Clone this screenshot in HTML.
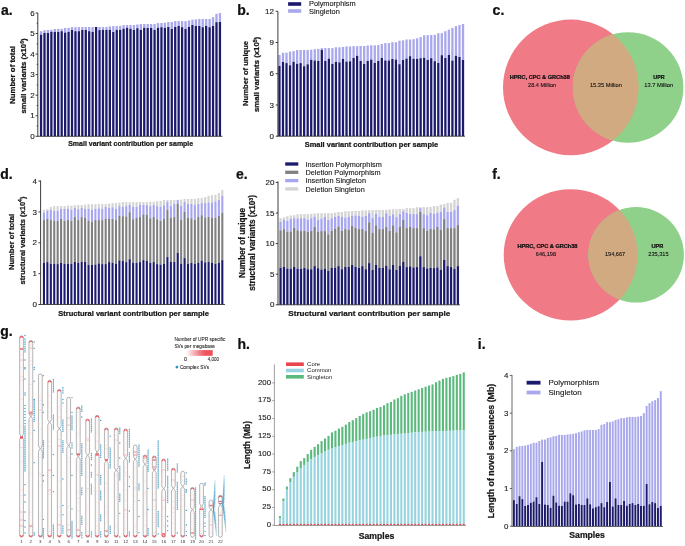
<!DOCTYPE html>
<html><head><meta charset="utf-8"><style>
html,body{margin:0;padding:0;background:#fff;width:685px;height:546px;overflow:hidden;}
svg{display:block;font-family:"Liberation Sans", sans-serif;will-change:transform;filter:blur(0.3px);}
text{stroke:#111;stroke-width:0.12px;}
text[font-weight=bold]{stroke-width:0.24px;}
.ns{stroke:none;}
.vn{stroke:#000;stroke-width:0.1px;}
.gl{stroke:#222;stroke-width:0.08px;}
</style></head><body>
<svg width="685" height="546" viewBox="0 0 685 546">
<rect width="685" height="546" fill="#fff"/>
<text x="1.00" y="14.60" font-size="14" font-weight="bold" fill="#111" >a.</text>
<rect x="39.90" y="31.20" width="2.30" height="3.50" fill="#a9a8ec" />
<rect x="39.90" y="34.70" width="2.30" height="101.60" fill="#1c1a6c" />
<rect x="43.34" y="30.20" width="2.30" height="2.80" fill="#a9a8ec" />
<rect x="43.34" y="33.00" width="2.30" height="103.30" fill="#1c1a6c" />
<rect x="46.78" y="30.00" width="2.30" height="3.00" fill="#a9a8ec" />
<rect x="46.78" y="33.00" width="2.30" height="103.30" fill="#1c1a6c" />
<rect x="50.22" y="29.80" width="2.30" height="2.10" fill="#a9a8ec" />
<rect x="50.22" y="31.90" width="2.30" height="104.40" fill="#1c1a6c" />
<rect x="53.66" y="29.00" width="2.30" height="2.90" fill="#a9a8ec" />
<rect x="53.66" y="31.90" width="2.30" height="104.40" fill="#1c1a6c" />
<rect x="57.10" y="28.80" width="2.30" height="3.10" fill="#a9a8ec" />
<rect x="57.10" y="31.90" width="2.30" height="104.40" fill="#1c1a6c" />
<rect x="60.54" y="28.80" width="2.30" height="2.40" fill="#a9a8ec" />
<rect x="60.54" y="31.20" width="2.30" height="105.10" fill="#1c1a6c" />
<rect x="63.98" y="28.00" width="2.30" height="4.60" fill="#a9a8ec" />
<rect x="63.98" y="32.60" width="2.30" height="103.70" fill="#1c1a6c" />
<rect x="67.42" y="27.90" width="2.30" height="4.00" fill="#a9a8ec" />
<rect x="67.42" y="31.90" width="2.30" height="104.40" fill="#1c1a6c" />
<rect x="70.86" y="27.10" width="2.30" height="2.90" fill="#a9a8ec" />
<rect x="70.86" y="30.00" width="2.30" height="106.30" fill="#1c1a6c" />
<rect x="74.30" y="27.10" width="2.30" height="4.10" fill="#a9a8ec" />
<rect x="74.30" y="31.20" width="2.30" height="105.10" fill="#1c1a6c" />
<rect x="77.74" y="27.10" width="2.30" height="4.10" fill="#a9a8ec" />
<rect x="77.74" y="31.20" width="2.30" height="105.10" fill="#1c1a6c" />
<rect x="81.18" y="27.10" width="2.30" height="2.90" fill="#a9a8ec" />
<rect x="81.18" y="30.00" width="2.30" height="106.30" fill="#1c1a6c" />
<rect x="84.62" y="27.10" width="2.30" height="2.90" fill="#a9a8ec" />
<rect x="84.62" y="30.00" width="2.30" height="106.30" fill="#1c1a6c" />
<rect x="88.06" y="27.00" width="2.30" height="4.20" fill="#a9a8ec" />
<rect x="88.06" y="31.20" width="2.30" height="105.10" fill="#1c1a6c" />
<rect x="91.50" y="27.00" width="2.30" height="4.90" fill="#a9a8ec" />
<rect x="91.50" y="31.90" width="2.30" height="104.40" fill="#1c1a6c" />
<rect x="94.94" y="27.00" width="2.30" height="109.30" fill="#1c1a6c" />
<rect x="98.38" y="27.00" width="2.30" height="3.10" fill="#a9a8ec" />
<rect x="98.38" y="30.10" width="2.30" height="106.20" fill="#1c1a6c" />
<rect x="101.82" y="27.00" width="2.30" height="2.90" fill="#a9a8ec" />
<rect x="101.82" y="29.90" width="2.30" height="106.40" fill="#1c1a6c" />
<rect x="105.26" y="27.00" width="2.30" height="2.90" fill="#a9a8ec" />
<rect x="105.26" y="29.90" width="2.30" height="106.40" fill="#1c1a6c" />
<rect x="108.70" y="26.40" width="2.30" height="3.50" fill="#a9a8ec" />
<rect x="108.70" y="29.90" width="2.30" height="106.40" fill="#1c1a6c" />
<rect x="112.14" y="26.10" width="2.30" height="5.90" fill="#a9a8ec" />
<rect x="112.14" y="32.00" width="2.30" height="104.30" fill="#1c1a6c" />
<rect x="115.58" y="26.10" width="2.30" height="3.80" fill="#a9a8ec" />
<rect x="115.58" y="29.90" width="2.30" height="106.40" fill="#1c1a6c" />
<rect x="119.02" y="25.90" width="2.30" height="4.00" fill="#a9a8ec" />
<rect x="119.02" y="29.90" width="2.30" height="106.40" fill="#1c1a6c" />
<rect x="122.46" y="25.00" width="2.30" height="3.70" fill="#a9a8ec" />
<rect x="122.46" y="28.70" width="2.30" height="107.60" fill="#1c1a6c" />
<rect x="125.90" y="25.00" width="2.30" height="2.80" fill="#a9a8ec" />
<rect x="125.90" y="27.80" width="2.30" height="108.50" fill="#1c1a6c" />
<rect x="129.34" y="25.00" width="2.30" height="3.70" fill="#a9a8ec" />
<rect x="129.34" y="28.70" width="2.30" height="107.60" fill="#1c1a6c" />
<rect x="132.78" y="25.00" width="2.30" height="4.90" fill="#a9a8ec" />
<rect x="132.78" y="29.90" width="2.30" height="106.40" fill="#1c1a6c" />
<rect x="136.22" y="24.50" width="2.30" height="3.70" fill="#a9a8ec" />
<rect x="136.22" y="28.20" width="2.30" height="108.10" fill="#1c1a6c" />
<rect x="139.66" y="24.00" width="2.30" height="5.90" fill="#a9a8ec" />
<rect x="139.66" y="29.90" width="2.30" height="106.40" fill="#1c1a6c" />
<rect x="143.10" y="24.00" width="2.30" height="3.80" fill="#a9a8ec" />
<rect x="143.10" y="27.80" width="2.30" height="108.50" fill="#1c1a6c" />
<rect x="146.54" y="24.00" width="2.30" height="4.00" fill="#a9a8ec" />
<rect x="146.54" y="28.00" width="2.30" height="108.30" fill="#1c1a6c" />
<rect x="149.98" y="24.00" width="2.30" height="4.00" fill="#a9a8ec" />
<rect x="149.98" y="28.00" width="2.30" height="108.30" fill="#1c1a6c" />
<rect x="153.42" y="24.00" width="2.30" height="5.90" fill="#a9a8ec" />
<rect x="153.42" y="29.90" width="2.30" height="106.40" fill="#1c1a6c" />
<rect x="156.86" y="23.10" width="2.30" height="4.70" fill="#a9a8ec" />
<rect x="156.86" y="27.80" width="2.30" height="108.50" fill="#1c1a6c" />
<rect x="160.30" y="23.00" width="2.30" height="4.20" fill="#a9a8ec" />
<rect x="160.30" y="27.20" width="2.30" height="109.10" fill="#1c1a6c" />
<rect x="163.74" y="22.80" width="2.30" height="5.10" fill="#a9a8ec" />
<rect x="163.74" y="27.90" width="2.30" height="108.40" fill="#1c1a6c" />
<rect x="167.18" y="22.00" width="2.30" height="5.00" fill="#a9a8ec" />
<rect x="167.18" y="27.00" width="2.30" height="109.30" fill="#1c1a6c" />
<rect x="170.62" y="22.00" width="2.30" height="7.00" fill="#a9a8ec" />
<rect x="170.62" y="29.00" width="2.30" height="107.30" fill="#1c1a6c" />
<rect x="174.06" y="21.10" width="2.30" height="5.90" fill="#a9a8ec" />
<rect x="174.06" y="27.00" width="2.30" height="109.30" fill="#1c1a6c" />
<rect x="177.50" y="21.10" width="2.30" height="4.90" fill="#a9a8ec" />
<rect x="177.50" y="26.00" width="2.30" height="110.30" fill="#1c1a6c" />
<rect x="180.94" y="21.10" width="2.30" height="6.10" fill="#a9a8ec" />
<rect x="180.94" y="27.20" width="2.30" height="109.10" fill="#1c1a6c" />
<rect x="184.38" y="21.10" width="2.30" height="7.90" fill="#a9a8ec" />
<rect x="184.38" y="29.00" width="2.30" height="107.30" fill="#1c1a6c" />
<rect x="187.82" y="20.40" width="2.30" height="6.60" fill="#a9a8ec" />
<rect x="187.82" y="27.00" width="2.30" height="109.30" fill="#1c1a6c" />
<rect x="191.26" y="19.70" width="2.30" height="5.30" fill="#a9a8ec" />
<rect x="191.26" y="25.00" width="2.30" height="111.30" fill="#1c1a6c" />
<rect x="194.70" y="19.40" width="2.30" height="6.60" fill="#a9a8ec" />
<rect x="194.70" y="26.00" width="2.30" height="110.30" fill="#1c1a6c" />
<rect x="198.14" y="19.00" width="2.30" height="7.00" fill="#a9a8ec" />
<rect x="198.14" y="26.00" width="2.30" height="110.30" fill="#1c1a6c" />
<rect x="201.58" y="19.00" width="2.30" height="8.20" fill="#a9a8ec" />
<rect x="201.58" y="27.20" width="2.30" height="109.10" fill="#1c1a6c" />
<rect x="205.02" y="19.00" width="2.30" height="7.00" fill="#a9a8ec" />
<rect x="205.02" y="26.00" width="2.30" height="110.30" fill="#1c1a6c" />
<rect x="208.46" y="19.00" width="2.30" height="8.20" fill="#a9a8ec" />
<rect x="208.46" y="27.20" width="2.30" height="109.10" fill="#1c1a6c" />
<rect x="211.90" y="17.20" width="2.30" height="8.80" fill="#a9a8ec" />
<rect x="211.90" y="26.00" width="2.30" height="110.30" fill="#1c1a6c" />
<rect x="215.34" y="13.80" width="2.30" height="8.40" fill="#a9a8ec" />
<rect x="215.34" y="22.20" width="2.30" height="114.10" fill="#1c1a6c" />
<rect x="218.78" y="13.10" width="2.30" height="8.90" fill="#a9a8ec" />
<rect x="218.78" y="22.00" width="2.30" height="114.30" fill="#1c1a6c" />
<line x1="37.80" y1="12.80" x2="37.80" y2="136.30" stroke="#262626" stroke-width="0.9"/>
<line x1="35.60" y1="136.30" x2="37.80" y2="136.30" stroke="#262626" stroke-width="0.9"/>
<text x="34.60" y="138.94" font-size="8.0" text-anchor="end" fill="#222" >0</text>
<line x1="35.60" y1="115.75" x2="37.80" y2="115.75" stroke="#262626" stroke-width="0.9"/>
<text x="34.60" y="118.39" font-size="8.0" text-anchor="end" fill="#222" >1</text>
<line x1="35.60" y1="95.20" x2="37.80" y2="95.20" stroke="#262626" stroke-width="0.9"/>
<text x="34.60" y="97.84" font-size="8.0" text-anchor="end" fill="#222" >2</text>
<line x1="35.60" y1="74.65" x2="37.80" y2="74.65" stroke="#262626" stroke-width="0.9"/>
<text x="34.60" y="77.29" font-size="8.0" text-anchor="end" fill="#222" >3</text>
<line x1="35.60" y1="54.10" x2="37.80" y2="54.10" stroke="#262626" stroke-width="0.9"/>
<text x="34.60" y="56.74" font-size="8.0" text-anchor="end" fill="#222" >4</text>
<line x1="35.60" y1="33.55" x2="37.80" y2="33.55" stroke="#262626" stroke-width="0.9"/>
<text x="34.60" y="36.19" font-size="8.0" text-anchor="end" fill="#222" >5</text>
<line x1="35.60" y1="13.00" x2="37.80" y2="13.00" stroke="#262626" stroke-width="0.9"/>
<text x="34.60" y="15.64" font-size="8.0" text-anchor="end" fill="#222" >6</text>
<line x1="36.70" y1="126.03" x2="37.80" y2="126.03" stroke="#262626" stroke-width="0.9"/>
<line x1="36.70" y1="105.48" x2="37.80" y2="105.48" stroke="#262626" stroke-width="0.9"/>
<line x1="36.70" y1="84.93" x2="37.80" y2="84.93" stroke="#262626" stroke-width="0.9"/>
<line x1="36.70" y1="64.38" x2="37.80" y2="64.38" stroke="#262626" stroke-width="0.9"/>
<line x1="36.70" y1="43.83" x2="37.80" y2="43.83" stroke="#262626" stroke-width="0.9"/>
<line x1="36.70" y1="23.28" x2="37.80" y2="23.28" stroke="#262626" stroke-width="0.9"/>
<line x1="37.40" y1="136.30" x2="222.50" y2="136.30" stroke="#262626" stroke-width="0.8"/>
<text x="15.20" y="75.00" font-size="7.8" font-weight="bold" text-anchor="middle" textLength="58" lengthAdjust="spacingAndGlyphs" fill="#1a1a1a" transform="rotate(-90 15.20 75.00)" >Number of total</text>
<text x="26.40" y="76.00" font-size="7.8" font-weight="bold" text-anchor="middle" fill="#1a1a1a" transform="rotate(-90 26.40 76.00)" >small variants (x10<tspan font-size="5" dy="-2.6">6</tspan><tspan dy="2.6">)</tspan></text>
<text x="130.70" y="145.80" font-size="7.2" font-weight="bold" text-anchor="middle" textLength="125" lengthAdjust="spacingAndGlyphs" fill="#1a1a1a" >Small variant contribution per sample</text>
<text x="237.30" y="14.60" font-size="14" font-weight="bold" fill="#111" >b.</text>
<rect x="278.30" y="55.00" width="2.30" height="11.00" fill="#a9a8ec" />
<rect x="278.30" y="66.00" width="2.30" height="70.20" fill="#1c1a6c" />
<rect x="281.83" y="52.70" width="2.30" height="9.30" fill="#a9a8ec" />
<rect x="281.83" y="62.00" width="2.30" height="74.20" fill="#1c1a6c" />
<rect x="285.36" y="52.70" width="2.30" height="10.40" fill="#a9a8ec" />
<rect x="285.36" y="63.10" width="2.30" height="73.10" fill="#1c1a6c" />
<rect x="288.89" y="51.60" width="2.30" height="13.70" fill="#a9a8ec" />
<rect x="288.89" y="65.30" width="2.30" height="70.90" fill="#1c1a6c" />
<rect x="292.42" y="51.10" width="2.30" height="10.70" fill="#a9a8ec" />
<rect x="292.42" y="61.80" width="2.30" height="74.40" fill="#1c1a6c" />
<rect x="295.95" y="50.00" width="2.30" height="13.80" fill="#a9a8ec" />
<rect x="295.95" y="63.80" width="2.30" height="72.40" fill="#1c1a6c" />
<rect x="299.48" y="50.00" width="2.30" height="13.10" fill="#a9a8ec" />
<rect x="299.48" y="63.10" width="2.30" height="73.10" fill="#1c1a6c" />
<rect x="303.01" y="50.00" width="2.30" height="16.20" fill="#a9a8ec" />
<rect x="303.01" y="66.20" width="2.30" height="70.00" fill="#1c1a6c" />
<rect x="306.54" y="50.00" width="2.30" height="14.30" fill="#a9a8ec" />
<rect x="306.54" y="64.30" width="2.30" height="71.90" fill="#1c1a6c" />
<rect x="310.07" y="49.70" width="2.30" height="10.10" fill="#a9a8ec" />
<rect x="310.07" y="59.80" width="2.30" height="76.40" fill="#1c1a6c" />
<rect x="313.60" y="49.20" width="2.30" height="11.30" fill="#a9a8ec" />
<rect x="313.60" y="60.50" width="2.30" height="75.70" fill="#1c1a6c" />
<rect x="317.13" y="48.90" width="2.30" height="12.10" fill="#a9a8ec" />
<rect x="317.13" y="61.00" width="2.30" height="75.20" fill="#1c1a6c" />
<rect x="320.66" y="48.10" width="2.30" height="1.80" fill="#a9a8ec" />
<rect x="320.66" y="49.90" width="2.30" height="86.30" fill="#1c1a6c" />
<rect x="324.19" y="48.10" width="2.30" height="12.90" fill="#a9a8ec" />
<rect x="324.19" y="61.00" width="2.30" height="75.20" fill="#1c1a6c" />
<rect x="327.72" y="48.10" width="2.30" height="10.60" fill="#a9a8ec" />
<rect x="327.72" y="58.70" width="2.30" height="77.50" fill="#1c1a6c" />
<rect x="331.25" y="48.10" width="2.30" height="15.90" fill="#a9a8ec" />
<rect x="331.25" y="64.00" width="2.30" height="72.20" fill="#1c1a6c" />
<rect x="334.78" y="47.30" width="2.30" height="14.70" fill="#a9a8ec" />
<rect x="334.78" y="62.00" width="2.30" height="74.20" fill="#1c1a6c" />
<rect x="338.31" y="47.30" width="2.30" height="15.10" fill="#a9a8ec" />
<rect x="338.31" y="62.40" width="2.30" height="73.80" fill="#1c1a6c" />
<rect x="341.84" y="47.00" width="2.30" height="12.00" fill="#a9a8ec" />
<rect x="341.84" y="59.00" width="2.30" height="77.20" fill="#1c1a6c" />
<rect x="345.37" y="46.40" width="2.30" height="15.20" fill="#a9a8ec" />
<rect x="345.37" y="61.60" width="2.30" height="74.60" fill="#1c1a6c" />
<rect x="348.90" y="46.40" width="2.30" height="14.90" fill="#a9a8ec" />
<rect x="348.90" y="61.30" width="2.30" height="74.90" fill="#1c1a6c" />
<rect x="352.43" y="46.20" width="2.30" height="11.80" fill="#a9a8ec" />
<rect x="352.43" y="58.00" width="2.30" height="78.20" fill="#1c1a6c" />
<rect x="355.96" y="46.20" width="2.30" height="9.60" fill="#a9a8ec" />
<rect x="355.96" y="55.80" width="2.30" height="80.40" fill="#1c1a6c" />
<rect x="359.49" y="46.00" width="2.30" height="15.00" fill="#a9a8ec" />
<rect x="359.49" y="61.00" width="2.30" height="75.20" fill="#1c1a6c" />
<rect x="363.02" y="46.00" width="2.30" height="18.00" fill="#a9a8ec" />
<rect x="363.02" y="64.00" width="2.30" height="72.20" fill="#1c1a6c" />
<rect x="366.55" y="45.50" width="2.30" height="15.50" fill="#a9a8ec" />
<rect x="366.55" y="61.00" width="2.30" height="75.20" fill="#1c1a6c" />
<rect x="370.08" y="45.30" width="2.30" height="14.30" fill="#a9a8ec" />
<rect x="370.08" y="59.60" width="2.30" height="76.60" fill="#1c1a6c" />
<rect x="373.61" y="45.30" width="2.30" height="17.60" fill="#a9a8ec" />
<rect x="373.61" y="62.90" width="2.30" height="73.30" fill="#1c1a6c" />
<rect x="377.14" y="45.10" width="2.30" height="15.90" fill="#a9a8ec" />
<rect x="377.14" y="61.00" width="2.30" height="75.20" fill="#1c1a6c" />
<rect x="380.67" y="44.00" width="2.30" height="14.00" fill="#a9a8ec" />
<rect x="380.67" y="58.00" width="2.30" height="78.20" fill="#1c1a6c" />
<rect x="384.20" y="43.10" width="2.30" height="17.40" fill="#a9a8ec" />
<rect x="384.20" y="60.50" width="2.30" height="75.70" fill="#1c1a6c" />
<rect x="387.73" y="43.10" width="2.30" height="17.40" fill="#a9a8ec" />
<rect x="387.73" y="60.50" width="2.30" height="75.70" fill="#1c1a6c" />
<rect x="391.26" y="42.20" width="2.30" height="16.80" fill="#a9a8ec" />
<rect x="391.26" y="59.00" width="2.30" height="77.20" fill="#1c1a6c" />
<rect x="394.79" y="42.20" width="2.30" height="17.40" fill="#a9a8ec" />
<rect x="394.79" y="59.60" width="2.30" height="76.60" fill="#1c1a6c" />
<rect x="398.32" y="40.70" width="2.30" height="23.50" fill="#a9a8ec" />
<rect x="398.32" y="64.20" width="2.30" height="72.00" fill="#1c1a6c" />
<rect x="401.85" y="40.40" width="2.30" height="19.60" fill="#a9a8ec" />
<rect x="401.85" y="60.00" width="2.30" height="76.20" fill="#1c1a6c" />
<rect x="405.38" y="39.50" width="2.30" height="19.10" fill="#a9a8ec" />
<rect x="405.38" y="58.60" width="2.30" height="77.60" fill="#1c1a6c" />
<rect x="408.91" y="39.50" width="2.30" height="16.70" fill="#a9a8ec" />
<rect x="408.91" y="56.20" width="2.30" height="80.00" fill="#1c1a6c" />
<rect x="412.44" y="39.20" width="2.30" height="19.60" fill="#a9a8ec" />
<rect x="412.44" y="58.80" width="2.30" height="77.40" fill="#1c1a6c" />
<rect x="415.97" y="38.30" width="2.30" height="20.50" fill="#a9a8ec" />
<rect x="415.97" y="58.80" width="2.30" height="77.40" fill="#1c1a6c" />
<rect x="419.50" y="37.10" width="2.30" height="21.10" fill="#a9a8ec" />
<rect x="419.50" y="58.20" width="2.30" height="78.00" fill="#1c1a6c" />
<rect x="423.03" y="35.20" width="2.30" height="22.70" fill="#a9a8ec" />
<rect x="423.03" y="57.90" width="2.30" height="78.30" fill="#1c1a6c" />
<rect x="426.56" y="35.20" width="2.30" height="24.80" fill="#a9a8ec" />
<rect x="426.56" y="60.00" width="2.30" height="76.20" fill="#1c1a6c" />
<rect x="430.09" y="35.00" width="2.30" height="23.20" fill="#a9a8ec" />
<rect x="430.09" y="58.20" width="2.30" height="78.00" fill="#1c1a6c" />
<rect x="433.62" y="34.80" width="2.30" height="26.40" fill="#a9a8ec" />
<rect x="433.62" y="61.20" width="2.30" height="75.00" fill="#1c1a6c" />
<rect x="437.15" y="33.20" width="2.30" height="29.80" fill="#a9a8ec" />
<rect x="437.15" y="63.00" width="2.30" height="73.20" fill="#1c1a6c" />
<rect x="440.68" y="33.20" width="2.30" height="22.00" fill="#a9a8ec" />
<rect x="440.68" y="55.20" width="2.30" height="81.00" fill="#1c1a6c" />
<rect x="444.21" y="31.20" width="2.30" height="26.80" fill="#a9a8ec" />
<rect x="444.21" y="58.00" width="2.30" height="78.20" fill="#1c1a6c" />
<rect x="447.74" y="29.60" width="2.30" height="25.40" fill="#a9a8ec" />
<rect x="447.74" y="55.00" width="2.30" height="81.20" fill="#1c1a6c" />
<rect x="451.27" y="27.90" width="2.30" height="32.70" fill="#a9a8ec" />
<rect x="451.27" y="60.60" width="2.30" height="75.60" fill="#1c1a6c" />
<rect x="454.80" y="26.10" width="2.30" height="29.70" fill="#a9a8ec" />
<rect x="454.80" y="55.80" width="2.30" height="80.40" fill="#1c1a6c" />
<rect x="458.33" y="25.10" width="2.30" height="31.90" fill="#a9a8ec" />
<rect x="458.33" y="57.00" width="2.30" height="79.20" fill="#1c1a6c" />
<rect x="461.86" y="24.00" width="2.30" height="36.00" fill="#a9a8ec" />
<rect x="461.86" y="60.00" width="2.30" height="76.20" fill="#1c1a6c" />
<line x1="277.90" y1="11.40" x2="277.90" y2="136.20" stroke="#262626" stroke-width="0.9"/>
<line x1="275.70" y1="136.20" x2="277.90" y2="136.20" stroke="#262626" stroke-width="0.9"/>
<text x="274.00" y="138.84" font-size="8.0" text-anchor="end" fill="#222" >0</text>
<line x1="275.70" y1="104.97" x2="277.90" y2="104.97" stroke="#262626" stroke-width="0.9"/>
<text x="274.00" y="107.61" font-size="8.0" text-anchor="end" fill="#222" >3</text>
<line x1="275.70" y1="73.74" x2="277.90" y2="73.74" stroke="#262626" stroke-width="0.9"/>
<text x="274.00" y="76.38" font-size="8.0" text-anchor="end" fill="#222" >6</text>
<line x1="275.70" y1="42.51" x2="277.90" y2="42.51" stroke="#262626" stroke-width="0.9"/>
<text x="274.00" y="45.15" font-size="8.0" text-anchor="end" fill="#222" >9</text>
<line x1="275.70" y1="11.28" x2="277.90" y2="11.28" stroke="#262626" stroke-width="0.9"/>
<text x="274.00" y="13.92" font-size="8.0" text-anchor="end" fill="#222" >12</text>
<line x1="277.50" y1="136.20" x2="465.00" y2="136.20" stroke="#262626" stroke-width="0.8"/>
<text x="248.50" y="73.40" font-size="7.6" font-weight="bold" text-anchor="middle" fill="#1a1a1a" transform="rotate(-90 248.50 73.40)" >Number of unique</text>
<text x="259.40" y="74.40" font-size="7.8" font-weight="bold" text-anchor="middle" fill="#1a1a1a" transform="rotate(-90 259.40 74.40)" >small variants (x10<tspan font-size="5" dy="-2.6">5</tspan><tspan dy="2.6">)</tspan></text>
<text x="371.50" y="147.40" font-size="7.9" font-weight="bold" text-anchor="middle" textLength="133.5" lengthAdjust="spacingAndGlyphs" fill="#1a1a1a" >Small variant contribution per sample</text>
<rect x="288.10" y="2.20" width="13.10" height="3.60" fill="#1c1a6c" />
<rect x="288.10" y="9.20" width="13.10" height="3.60" fill="#a9a8ec" />
<text x="309.00" y="6.40" font-size="7.4" textLength="46.7" lengthAdjust="spacingAndGlyphs" fill="#222" >Polymorphism</text>
<text x="309.00" y="13.60" font-size="7.4" fill="#222" >Singleton</text>
<text x="492.60" y="14.50" font-size="14" font-weight="bold" fill="#111" >c.</text>
<defs><clipPath id="cr1"><circle cx="570.8" cy="87.4" r="67.8"/></clipPath><clipPath id="cr2"><ellipse cx="570.6" cy="254.9" rx="66.9" ry="65.7"/></clipPath></defs>
<circle cx="570.8" cy="87.4" r="67.8" fill="#f07a85"/>
<circle cx="628.1" cy="87.5" r="55.3" fill="#8fd08a"/>
<circle cx="628.1" cy="87.5" r="55.3" fill="#d2aa82" clip-path="url(#cr1)"/>
<text x="539.80" y="78.90" font-size="5.6" font-weight="bold" text-anchor="middle" textLength="60" lengthAdjust="spacingAndGlyphs" fill="#1a1a1a" class="vn">HPRC, CPC &amp; GRCh38</text>
<text x="542.10" y="87.00" font-size="5.6" text-anchor="middle" textLength="28" lengthAdjust="spacingAndGlyphs" fill="#1a1a1a" class="vn">28.4 Million</text>
<text x="605.90" y="87.00" font-size="5.6" text-anchor="middle" textLength="32" lengthAdjust="spacingAndGlyphs" fill="#1a1a1a" class="vn">15.35 Million</text>
<text x="659.00" y="78.90" font-size="5.6" font-weight="bold" text-anchor="middle" textLength="11.3" lengthAdjust="spacingAndGlyphs" fill="#1a1a1a" class="vn">UPR</text>
<text x="658.70" y="87.00" font-size="5.6" text-anchor="middle" textLength="29" lengthAdjust="spacingAndGlyphs" fill="#1a1a1a" class="vn">13.7 Million</text>
<text x="0.20" y="179.40" font-size="14" font-weight="bold" fill="#111" >d.</text>
<rect x="42.90" y="209.80" width="2.10" height="2.80" fill="#d4d4d4" />
<rect x="42.90" y="212.60" width="2.10" height="7.50" fill="#a6a5f0" />
<rect x="42.90" y="220.10" width="2.10" height="42.80" fill="#808080" />
<rect x="42.90" y="262.90" width="2.10" height="41.60" fill="#1c1a6c" />
<rect x="46.33" y="209.00" width="2.10" height="2.00" fill="#d4d4d4" />
<rect x="46.33" y="211.00" width="2.10" height="8.00" fill="#a6a5f0" />
<rect x="46.33" y="219.00" width="2.10" height="43.10" fill="#808080" />
<rect x="46.33" y="262.10" width="2.10" height="42.40" fill="#1c1a6c" />
<rect x="49.76" y="207.00" width="2.10" height="2.80" fill="#d4d4d4" />
<rect x="49.76" y="209.80" width="2.10" height="10.30" fill="#a6a5f0" />
<rect x="49.76" y="220.10" width="2.10" height="43.70" fill="#808080" />
<rect x="49.76" y="263.80" width="2.10" height="40.70" fill="#1c1a6c" />
<rect x="53.19" y="206.10" width="2.10" height="4.90" fill="#d4d4d4" />
<rect x="53.19" y="211.00" width="2.10" height="10.00" fill="#a6a5f0" />
<rect x="53.19" y="221.00" width="2.10" height="42.80" fill="#808080" />
<rect x="53.19" y="263.80" width="2.10" height="40.70" fill="#1c1a6c" />
<rect x="56.62" y="206.10" width="2.10" height="4.60" fill="#d4d4d4" />
<rect x="56.62" y="210.70" width="2.10" height="10.30" fill="#a6a5f0" />
<rect x="56.62" y="221.00" width="2.10" height="43.10" fill="#808080" />
<rect x="56.62" y="264.10" width="2.10" height="40.40" fill="#1c1a6c" />
<rect x="60.05" y="206.10" width="2.10" height="2.90" fill="#d4d4d4" />
<rect x="60.05" y="209.00" width="2.10" height="10.00" fill="#a6a5f0" />
<rect x="60.05" y="219.00" width="2.10" height="43.90" fill="#808080" />
<rect x="60.05" y="262.90" width="2.10" height="41.60" fill="#1c1a6c" />
<rect x="63.48" y="206.10" width="2.10" height="2.90" fill="#d4d4d4" />
<rect x="63.48" y="209.00" width="2.10" height="11.80" fill="#a6a5f0" />
<rect x="63.48" y="220.80" width="2.10" height="43.00" fill="#808080" />
<rect x="63.48" y="263.80" width="2.10" height="40.70" fill="#1c1a6c" />
<rect x="66.91" y="205.70" width="2.10" height="3.30" fill="#d4d4d4" />
<rect x="66.91" y="209.00" width="2.10" height="11.10" fill="#a6a5f0" />
<rect x="66.91" y="220.10" width="2.10" height="43.70" fill="#808080" />
<rect x="66.91" y="263.80" width="2.10" height="40.70" fill="#1c1a6c" />
<rect x="70.34" y="205.70" width="2.10" height="4.10" fill="#d4d4d4" />
<rect x="70.34" y="209.80" width="2.10" height="11.20" fill="#a6a5f0" />
<rect x="70.34" y="221.00" width="2.10" height="42.80" fill="#808080" />
<rect x="70.34" y="263.80" width="2.10" height="40.70" fill="#1c1a6c" />
<rect x="73.77" y="205.10" width="2.10" height="2.90" fill="#d4d4d4" />
<rect x="73.77" y="208.00" width="2.10" height="9.10" fill="#a6a5f0" />
<rect x="73.77" y="217.10" width="2.10" height="44.90" fill="#808080" />
<rect x="73.77" y="262.00" width="2.10" height="42.50" fill="#1c1a6c" />
<rect x="77.20" y="205.00" width="2.10" height="4.20" fill="#d4d4d4" />
<rect x="77.20" y="209.20" width="2.10" height="10.90" fill="#a6a5f0" />
<rect x="77.20" y="220.10" width="2.10" height="42.80" fill="#808080" />
<rect x="77.20" y="262.90" width="2.10" height="41.60" fill="#1c1a6c" />
<rect x="80.63" y="205.00" width="2.10" height="3.00" fill="#d4d4d4" />
<rect x="80.63" y="208.00" width="2.10" height="9.10" fill="#a6a5f0" />
<rect x="80.63" y="217.10" width="2.10" height="44.90" fill="#808080" />
<rect x="80.63" y="262.00" width="2.10" height="42.50" fill="#1c1a6c" />
<rect x="84.06" y="204.70" width="2.10" height="4.30" fill="#d4d4d4" />
<rect x="84.06" y="209.00" width="2.10" height="9.00" fill="#a6a5f0" />
<rect x="84.06" y="218.00" width="2.10" height="44.00" fill="#808080" />
<rect x="84.06" y="262.00" width="2.10" height="42.50" fill="#1c1a6c" />
<rect x="87.49" y="204.20" width="2.10" height="4.50" fill="#d4d4d4" />
<rect x="87.49" y="208.70" width="2.10" height="12.10" fill="#a6a5f0" />
<rect x="87.49" y="220.80" width="2.10" height="44.00" fill="#808080" />
<rect x="87.49" y="264.80" width="2.10" height="39.70" fill="#1c1a6c" />
<rect x="90.92" y="204.20" width="2.10" height="5.60" fill="#d4d4d4" />
<rect x="90.92" y="209.80" width="2.10" height="12.20" fill="#a6a5f0" />
<rect x="90.92" y="222.00" width="2.10" height="42.80" fill="#808080" />
<rect x="90.92" y="264.80" width="2.10" height="39.70" fill="#1c1a6c" />
<rect x="94.35" y="204.20" width="2.10" height="4.50" fill="#d4d4d4" />
<rect x="94.35" y="208.70" width="2.10" height="11.40" fill="#a6a5f0" />
<rect x="94.35" y="220.10" width="2.10" height="44.40" fill="#808080" />
<rect x="94.35" y="264.50" width="2.10" height="40.00" fill="#1c1a6c" />
<rect x="97.78" y="204.00" width="2.10" height="4.50" fill="#d4d4d4" />
<rect x="97.78" y="208.50" width="2.10" height="11.60" fill="#a6a5f0" />
<rect x="97.78" y="220.10" width="2.10" height="43.30" fill="#808080" />
<rect x="97.78" y="263.40" width="2.10" height="41.10" fill="#1c1a6c" />
<rect x="101.21" y="204.00" width="2.10" height="5.00" fill="#d4d4d4" />
<rect x="101.21" y="209.00" width="2.10" height="11.10" fill="#a6a5f0" />
<rect x="101.21" y="220.10" width="2.10" height="44.00" fill="#808080" />
<rect x="101.21" y="264.10" width="2.10" height="40.40" fill="#1c1a6c" />
<rect x="104.64" y="204.00" width="2.10" height="3.00" fill="#d4d4d4" />
<rect x="104.64" y="207.00" width="2.10" height="12.00" fill="#a6a5f0" />
<rect x="104.64" y="219.00" width="2.10" height="45.10" fill="#808080" />
<rect x="104.64" y="264.10" width="2.10" height="40.40" fill="#1c1a6c" />
<rect x="108.07" y="203.60" width="2.10" height="4.40" fill="#d4d4d4" />
<rect x="108.07" y="208.00" width="2.10" height="11.00" fill="#a6a5f0" />
<rect x="108.07" y="219.00" width="2.10" height="43.10" fill="#808080" />
<rect x="108.07" y="262.10" width="2.10" height="42.40" fill="#1c1a6c" />
<rect x="111.50" y="203.10" width="2.10" height="4.20" fill="#d4d4d4" />
<rect x="111.50" y="207.30" width="2.10" height="11.50" fill="#a6a5f0" />
<rect x="111.50" y="218.80" width="2.10" height="44.10" fill="#808080" />
<rect x="111.50" y="262.90" width="2.10" height="41.60" fill="#1c1a6c" />
<rect x="114.93" y="203.10" width="2.10" height="5.80" fill="#d4d4d4" />
<rect x="114.93" y="208.90" width="2.10" height="11.20" fill="#a6a5f0" />
<rect x="114.93" y="220.10" width="2.10" height="43.70" fill="#808080" />
<rect x="114.93" y="263.80" width="2.10" height="40.70" fill="#1c1a6c" />
<rect x="118.36" y="202.60" width="2.10" height="3.50" fill="#d4d4d4" />
<rect x="118.36" y="206.10" width="2.10" height="9.60" fill="#a6a5f0" />
<rect x="118.36" y="215.70" width="2.10" height="44.70" fill="#808080" />
<rect x="118.36" y="260.40" width="2.10" height="44.10" fill="#1c1a6c" />
<rect x="121.79" y="202.10" width="2.10" height="4.70" fill="#d4d4d4" />
<rect x="121.79" y="206.80" width="2.10" height="9.40" fill="#a6a5f0" />
<rect x="121.79" y="216.20" width="2.10" height="44.80" fill="#808080" />
<rect x="121.79" y="261.00" width="2.10" height="43.50" fill="#1c1a6c" />
<rect x="125.22" y="202.10" width="2.10" height="4.00" fill="#d4d4d4" />
<rect x="125.22" y="206.10" width="2.10" height="10.30" fill="#a6a5f0" />
<rect x="125.22" y="216.40" width="2.10" height="45.70" fill="#808080" />
<rect x="125.22" y="262.10" width="2.10" height="42.40" fill="#1c1a6c" />
<rect x="128.65" y="202.10" width="2.10" height="2.70" fill="#d4d4d4" />
<rect x="128.65" y="204.80" width="2.10" height="7.40" fill="#a6a5f0" />
<rect x="128.65" y="212.20" width="2.10" height="47.00" fill="#808080" />
<rect x="128.65" y="259.20" width="2.10" height="45.30" fill="#1c1a6c" />
<rect x="132.08" y="202.10" width="2.10" height="4.90" fill="#d4d4d4" />
<rect x="132.08" y="207.00" width="2.10" height="12.20" fill="#a6a5f0" />
<rect x="132.08" y="219.20" width="2.10" height="43.70" fill="#808080" />
<rect x="132.08" y="262.90" width="2.10" height="41.60" fill="#1c1a6c" />
<rect x="135.51" y="202.10" width="2.10" height="4.50" fill="#d4d4d4" />
<rect x="135.51" y="206.60" width="2.10" height="11.40" fill="#a6a5f0" />
<rect x="135.51" y="218.00" width="2.10" height="44.70" fill="#808080" />
<rect x="135.51" y="262.70" width="2.10" height="41.80" fill="#1c1a6c" />
<rect x="138.94" y="202.00" width="2.10" height="3.00" fill="#d4d4d4" />
<rect x="138.94" y="205.00" width="2.10" height="12.10" fill="#a6a5f0" />
<rect x="138.94" y="217.10" width="2.10" height="45.00" fill="#808080" />
<rect x="138.94" y="262.10" width="2.10" height="42.40" fill="#1c1a6c" />
<rect x="142.37" y="202.00" width="2.10" height="3.00" fill="#d4d4d4" />
<rect x="142.37" y="205.00" width="2.10" height="9.30" fill="#a6a5f0" />
<rect x="142.37" y="214.30" width="2.10" height="45.80" fill="#808080" />
<rect x="142.37" y="260.10" width="2.10" height="44.40" fill="#1c1a6c" />
<rect x="145.80" y="202.00" width="2.10" height="3.10" fill="#d4d4d4" />
<rect x="145.80" y="205.10" width="2.10" height="9.90" fill="#a6a5f0" />
<rect x="145.80" y="215.00" width="2.10" height="46.00" fill="#808080" />
<rect x="145.80" y="261.00" width="2.10" height="43.50" fill="#1c1a6c" />
<rect x="149.23" y="201.70" width="2.10" height="4.40" fill="#d4d4d4" />
<rect x="149.23" y="206.10" width="2.10" height="12.10" fill="#a6a5f0" />
<rect x="149.23" y="218.20" width="2.10" height="44.70" fill="#808080" />
<rect x="149.23" y="262.90" width="2.10" height="41.60" fill="#1c1a6c" />
<rect x="152.66" y="201.70" width="2.10" height="3.40" fill="#d4d4d4" />
<rect x="152.66" y="205.10" width="2.10" height="12.00" fill="#a6a5f0" />
<rect x="152.66" y="217.10" width="2.10" height="45.00" fill="#808080" />
<rect x="152.66" y="262.10" width="2.10" height="42.40" fill="#1c1a6c" />
<rect x="156.09" y="201.20" width="2.10" height="4.90" fill="#d4d4d4" />
<rect x="156.09" y="206.10" width="2.10" height="13.10" fill="#a6a5f0" />
<rect x="156.09" y="219.20" width="2.10" height="44.90" fill="#808080" />
<rect x="156.09" y="264.10" width="2.10" height="40.40" fill="#1c1a6c" />
<rect x="159.52" y="200.90" width="2.10" height="6.00" fill="#d4d4d4" />
<rect x="159.52" y="206.90" width="2.10" height="14.00" fill="#a6a5f0" />
<rect x="159.52" y="220.90" width="2.10" height="43.70" fill="#808080" />
<rect x="159.52" y="264.60" width="2.10" height="39.90" fill="#1c1a6c" />
<rect x="162.95" y="200.00" width="2.10" height="5.30" fill="#d4d4d4" />
<rect x="162.95" y="205.30" width="2.10" height="13.70" fill="#a6a5f0" />
<rect x="162.95" y="219.00" width="2.10" height="44.80" fill="#808080" />
<rect x="162.95" y="263.80" width="2.10" height="40.70" fill="#1c1a6c" />
<rect x="166.38" y="200.00" width="2.10" height="2.00" fill="#d4d4d4" />
<rect x="166.38" y="202.00" width="2.10" height="7.90" fill="#a6a5f0" />
<rect x="166.38" y="209.90" width="2.10" height="47.20" fill="#808080" />
<rect x="166.38" y="257.10" width="2.10" height="47.40" fill="#1c1a6c" />
<rect x="169.81" y="200.00" width="2.10" height="5.80" fill="#d4d4d4" />
<rect x="169.81" y="205.80" width="2.10" height="11.80" fill="#a6a5f0" />
<rect x="169.81" y="217.60" width="2.10" height="44.40" fill="#808080" />
<rect x="169.81" y="262.00" width="2.10" height="42.50" fill="#1c1a6c" />
<rect x="173.24" y="200.00" width="2.10" height="4.00" fill="#d4d4d4" />
<rect x="173.24" y="204.00" width="2.10" height="13.10" fill="#a6a5f0" />
<rect x="173.24" y="217.10" width="2.10" height="44.90" fill="#808080" />
<rect x="173.24" y="262.00" width="2.10" height="42.50" fill="#1c1a6c" />
<rect x="176.67" y="199.80" width="2.10" height="0.20" fill="#d4d4d4" />
<rect x="176.67" y="200.00" width="2.10" height="4.00" fill="#a6a5f0" />
<rect x="176.67" y="204.00" width="2.10" height="48.90" fill="#808080" />
<rect x="176.67" y="252.90" width="2.10" height="51.60" fill="#1c1a6c" />
<rect x="180.10" y="199.60" width="2.10" height="6.20" fill="#d4d4d4" />
<rect x="180.10" y="205.80" width="2.10" height="14.10" fill="#a6a5f0" />
<rect x="180.10" y="219.90" width="2.10" height="43.90" fill="#808080" />
<rect x="180.10" y="263.80" width="2.10" height="40.70" fill="#1c1a6c" />
<rect x="183.53" y="198.90" width="2.10" height="3.10" fill="#d4d4d4" />
<rect x="183.53" y="202.00" width="2.10" height="9.90" fill="#a6a5f0" />
<rect x="183.53" y="211.90" width="2.10" height="46.20" fill="#808080" />
<rect x="183.53" y="258.10" width="2.10" height="46.40" fill="#1c1a6c" />
<rect x="186.96" y="198.90" width="2.10" height="5.10" fill="#d4d4d4" />
<rect x="186.96" y="204.00" width="2.10" height="13.60" fill="#a6a5f0" />
<rect x="186.96" y="217.60" width="2.10" height="46.20" fill="#808080" />
<rect x="186.96" y="263.80" width="2.10" height="40.70" fill="#1c1a6c" />
<rect x="190.39" y="198.90" width="2.10" height="5.10" fill="#d4d4d4" />
<rect x="190.39" y="204.00" width="2.10" height="14.20" fill="#a6a5f0" />
<rect x="190.39" y="218.20" width="2.10" height="44.80" fill="#808080" />
<rect x="190.39" y="263.00" width="2.10" height="41.50" fill="#1c1a6c" />
<rect x="193.82" y="198.90" width="2.10" height="6.20" fill="#d4d4d4" />
<rect x="193.82" y="205.10" width="2.10" height="14.50" fill="#a6a5f0" />
<rect x="193.82" y="219.60" width="2.10" height="44.20" fill="#808080" />
<rect x="193.82" y="263.80" width="2.10" height="40.70" fill="#1c1a6c" />
<rect x="197.25" y="198.10" width="2.10" height="5.90" fill="#d4d4d4" />
<rect x="197.25" y="204.00" width="2.10" height="13.10" fill="#a6a5f0" />
<rect x="197.25" y="217.10" width="2.10" height="45.90" fill="#808080" />
<rect x="197.25" y="263.00" width="2.10" height="41.50" fill="#1c1a6c" />
<rect x="200.68" y="197.90" width="2.10" height="5.20" fill="#d4d4d4" />
<rect x="200.68" y="203.10" width="2.10" height="12.10" fill="#a6a5f0" />
<rect x="200.68" y="215.20" width="2.10" height="45.50" fill="#808080" />
<rect x="200.68" y="260.70" width="2.10" height="43.80" fill="#1c1a6c" />
<rect x="204.11" y="197.00" width="2.10" height="6.10" fill="#d4d4d4" />
<rect x="204.11" y="203.10" width="2.10" height="14.30" fill="#a6a5f0" />
<rect x="204.11" y="217.40" width="2.10" height="44.90" fill="#808080" />
<rect x="204.11" y="262.30" width="2.10" height="42.20" fill="#1c1a6c" />
<rect x="207.54" y="195.90" width="2.10" height="6.60" fill="#d4d4d4" />
<rect x="207.54" y="202.50" width="2.10" height="14.30" fill="#a6a5f0" />
<rect x="207.54" y="216.80" width="2.10" height="45.20" fill="#808080" />
<rect x="207.54" y="262.00" width="2.10" height="42.50" fill="#1c1a6c" />
<rect x="210.97" y="195.20" width="2.10" height="7.30" fill="#d4d4d4" />
<rect x="210.97" y="202.50" width="2.10" height="15.40" fill="#a6a5f0" />
<rect x="210.97" y="217.90" width="2.10" height="45.10" fill="#808080" />
<rect x="210.97" y="263.00" width="2.10" height="41.50" fill="#1c1a6c" />
<rect x="214.40" y="194.80" width="2.10" height="6.60" fill="#d4d4d4" />
<rect x="214.40" y="201.40" width="2.10" height="16.50" fill="#a6a5f0" />
<rect x="214.40" y="217.90" width="2.10" height="45.90" fill="#808080" />
<rect x="214.40" y="263.80" width="2.10" height="40.70" fill="#1c1a6c" />
<rect x="217.83" y="193.00" width="2.10" height="7.00" fill="#d4d4d4" />
<rect x="217.83" y="200.00" width="2.10" height="16.00" fill="#a6a5f0" />
<rect x="217.83" y="216.00" width="2.10" height="47.00" fill="#808080" />
<rect x="217.83" y="263.00" width="2.10" height="41.50" fill="#1c1a6c" />
<rect x="221.26" y="189.90" width="2.10" height="6.00" fill="#d4d4d4" />
<rect x="221.26" y="195.90" width="2.10" height="16.80" fill="#a6a5f0" />
<rect x="221.26" y="212.70" width="2.10" height="47.40" fill="#808080" />
<rect x="221.26" y="260.10" width="2.10" height="44.40" fill="#1c1a6c" />
<line x1="40.60" y1="180.50" x2="40.60" y2="304.50" stroke="#262626" stroke-width="0.9"/>
<line x1="38.40" y1="304.50" x2="40.60" y2="304.50" stroke="#262626" stroke-width="0.9"/>
<text x="37.00" y="307.14" font-size="8.0" text-anchor="end" fill="#222" >0</text>
<line x1="38.40" y1="273.65" x2="40.60" y2="273.65" stroke="#262626" stroke-width="0.9"/>
<text x="37.00" y="276.29" font-size="8.0" text-anchor="end" fill="#222" >1</text>
<line x1="38.40" y1="242.80" x2="40.60" y2="242.80" stroke="#262626" stroke-width="0.9"/>
<text x="37.00" y="245.44" font-size="8.0" text-anchor="end" fill="#222" >2</text>
<line x1="38.40" y1="211.95" x2="40.60" y2="211.95" stroke="#262626" stroke-width="0.9"/>
<text x="37.00" y="214.59" font-size="8.0" text-anchor="end" fill="#222" >3</text>
<line x1="38.40" y1="181.10" x2="40.60" y2="181.10" stroke="#262626" stroke-width="0.9"/>
<text x="37.00" y="183.74" font-size="8.0" text-anchor="end" fill="#222" >4</text>
<line x1="40.20" y1="304.50" x2="225.00" y2="304.50" stroke="#262626" stroke-width="0.8"/>
<text x="13.80" y="242.00" font-size="7.6" font-weight="bold" text-anchor="middle" fill="#1a1a1a" transform="rotate(-90 13.80 242.00)" >Number of total</text>
<text x="24.60" y="240.50" font-size="7.5" font-weight="bold" text-anchor="middle" fill="#1a1a1a" transform="rotate(-90 24.60 240.50)" >structural variants (x10<tspan font-size="5" dy="-2.6">4</tspan><tspan dy="2.6">)</tspan></text>
<text x="133.50" y="316.40" font-size="7.6" font-weight="bold" text-anchor="middle" textLength="150.7" lengthAdjust="spacingAndGlyphs" fill="#1a1a1a" >Structural variant contribution per sample</text>
<text x="236.00" y="179.40" font-size="14" font-weight="bold" fill="#111" >e.</text>
<rect x="279.40" y="218.20" width="2.30" height="3.80" fill="#d4d4d4" />
<rect x="279.40" y="222.00" width="2.30" height="8.30" fill="#a6a5f0" />
<rect x="279.40" y="230.30" width="2.30" height="37.50" fill="#808080" />
<rect x="279.40" y="267.80" width="2.30" height="37.00" fill="#1c1a6c" />
<rect x="282.81" y="217.40" width="2.30" height="2.60" fill="#d4d4d4" />
<rect x="282.81" y="220.00" width="2.30" height="9.20" fill="#a6a5f0" />
<rect x="282.81" y="229.20" width="2.30" height="37.80" fill="#808080" />
<rect x="282.81" y="267.00" width="2.30" height="37.80" fill="#1c1a6c" />
<rect x="286.22" y="216.30" width="2.30" height="4.60" fill="#d4d4d4" />
<rect x="286.22" y="220.90" width="2.30" height="10.80" fill="#a6a5f0" />
<rect x="286.22" y="231.70" width="2.30" height="36.80" fill="#808080" />
<rect x="286.22" y="268.50" width="2.30" height="36.30" fill="#1c1a6c" />
<rect x="289.63" y="215.40" width="2.30" height="3.50" fill="#d4d4d4" />
<rect x="289.63" y="218.90" width="2.30" height="12.50" fill="#a6a5f0" />
<rect x="289.63" y="231.40" width="2.30" height="37.30" fill="#808080" />
<rect x="289.63" y="268.70" width="2.30" height="36.10" fill="#1c1a6c" />
<rect x="293.04" y="215.20" width="2.30" height="3.00" fill="#d4d4d4" />
<rect x="293.04" y="218.20" width="2.30" height="9.80" fill="#a6a5f0" />
<rect x="293.04" y="228.00" width="2.30" height="39.00" fill="#808080" />
<rect x="293.04" y="267.00" width="2.30" height="37.80" fill="#1c1a6c" />
<rect x="296.45" y="214.30" width="2.30" height="4.20" fill="#d4d4d4" />
<rect x="296.45" y="218.50" width="2.30" height="11.80" fill="#a6a5f0" />
<rect x="296.45" y="230.30" width="2.30" height="38.40" fill="#808080" />
<rect x="296.45" y="268.70" width="2.30" height="36.10" fill="#1c1a6c" />
<rect x="299.86" y="214.10" width="2.30" height="4.10" fill="#d4d4d4" />
<rect x="299.86" y="218.20" width="2.30" height="12.90" fill="#a6a5f0" />
<rect x="299.86" y="231.10" width="2.30" height="37.60" fill="#808080" />
<rect x="299.86" y="268.70" width="2.30" height="36.10" fill="#1c1a6c" />
<rect x="303.27" y="214.10" width="2.30" height="4.10" fill="#d4d4d4" />
<rect x="303.27" y="218.20" width="2.30" height="12.40" fill="#a6a5f0" />
<rect x="303.27" y="230.60" width="2.30" height="37.40" fill="#808080" />
<rect x="303.27" y="268.00" width="2.30" height="36.80" fill="#1c1a6c" />
<rect x="306.68" y="214.10" width="2.30" height="5.70" fill="#d4d4d4" />
<rect x="306.68" y="219.80" width="2.30" height="12.10" fill="#a6a5f0" />
<rect x="306.68" y="231.90" width="2.30" height="37.30" fill="#808080" />
<rect x="306.68" y="269.20" width="2.30" height="35.60" fill="#1c1a6c" />
<rect x="310.09" y="213.80" width="2.30" height="4.40" fill="#d4d4d4" />
<rect x="310.09" y="218.20" width="2.30" height="12.90" fill="#a6a5f0" />
<rect x="310.09" y="231.10" width="2.30" height="38.10" fill="#808080" />
<rect x="310.09" y="269.20" width="2.30" height="35.60" fill="#1c1a6c" />
<rect x="313.50" y="213.40" width="2.30" height="3.10" fill="#d4d4d4" />
<rect x="313.50" y="216.50" width="2.30" height="10.50" fill="#a6a5f0" />
<rect x="313.50" y="227.00" width="2.30" height="39.10" fill="#808080" />
<rect x="313.50" y="266.10" width="2.30" height="38.70" fill="#1c1a6c" />
<rect x="316.91" y="213.20" width="2.30" height="6.60" fill="#d4d4d4" />
<rect x="316.91" y="219.80" width="2.30" height="12.10" fill="#a6a5f0" />
<rect x="316.91" y="231.90" width="2.30" height="36.30" fill="#808080" />
<rect x="316.91" y="268.20" width="2.30" height="36.60" fill="#1c1a6c" />
<rect x="320.32" y="213.20" width="2.30" height="5.50" fill="#d4d4d4" />
<rect x="320.32" y="218.70" width="2.30" height="12.40" fill="#a6a5f0" />
<rect x="320.32" y="231.10" width="2.30" height="38.50" fill="#808080" />
<rect x="320.32" y="269.60" width="2.30" height="35.20" fill="#1c1a6c" />
<rect x="323.73" y="213.20" width="2.30" height="3.80" fill="#d4d4d4" />
<rect x="323.73" y="217.00" width="2.30" height="14.10" fill="#a6a5f0" />
<rect x="323.73" y="231.10" width="2.30" height="37.60" fill="#808080" />
<rect x="323.73" y="268.70" width="2.30" height="36.10" fill="#1c1a6c" />
<rect x="327.14" y="213.20" width="2.30" height="6.80" fill="#d4d4d4" />
<rect x="327.14" y="220.00" width="2.30" height="14.30" fill="#a6a5f0" />
<rect x="327.14" y="234.30" width="2.30" height="36.70" fill="#808080" />
<rect x="327.14" y="271.00" width="2.30" height="33.80" fill="#1c1a6c" />
<rect x="330.55" y="213.20" width="2.30" height="5.00" fill="#d4d4d4" />
<rect x="330.55" y="218.20" width="2.30" height="12.60" fill="#a6a5f0" />
<rect x="330.55" y="230.80" width="2.30" height="37.20" fill="#808080" />
<rect x="330.55" y="268.00" width="2.30" height="36.80" fill="#1c1a6c" />
<rect x="333.96" y="212.70" width="2.30" height="4.30" fill="#d4d4d4" />
<rect x="333.96" y="217.00" width="2.30" height="11.60" fill="#a6a5f0" />
<rect x="333.96" y="228.60" width="2.30" height="39.40" fill="#808080" />
<rect x="333.96" y="268.00" width="2.30" height="36.80" fill="#1c1a6c" />
<rect x="337.37" y="212.00" width="2.30" height="3.90" fill="#d4d4d4" />
<rect x="337.37" y="215.90" width="2.30" height="10.50" fill="#a6a5f0" />
<rect x="337.37" y="226.40" width="2.30" height="39.70" fill="#808080" />
<rect x="337.37" y="266.10" width="2.30" height="38.70" fill="#1c1a6c" />
<rect x="340.78" y="212.00" width="2.30" height="5.00" fill="#d4d4d4" />
<rect x="340.78" y="217.00" width="2.30" height="13.80" fill="#a6a5f0" />
<rect x="340.78" y="230.80" width="2.30" height="38.40" fill="#808080" />
<rect x="340.78" y="269.20" width="2.30" height="35.60" fill="#1c1a6c" />
<rect x="344.19" y="211.30" width="2.30" height="6.30" fill="#d4d4d4" />
<rect x="344.19" y="217.60" width="2.30" height="11.50" fill="#a6a5f0" />
<rect x="344.19" y="229.10" width="2.30" height="37.90" fill="#808080" />
<rect x="344.19" y="267.00" width="2.30" height="37.80" fill="#1c1a6c" />
<rect x="347.60" y="211.30" width="2.30" height="5.70" fill="#d4d4d4" />
<rect x="347.60" y="217.00" width="2.30" height="13.00" fill="#a6a5f0" />
<rect x="347.60" y="230.00" width="2.30" height="37.00" fill="#808080" />
<rect x="347.60" y="267.00" width="2.30" height="37.80" fill="#1c1a6c" />
<rect x="351.01" y="211.00" width="2.30" height="4.70" fill="#d4d4d4" />
<rect x="351.01" y="215.70" width="2.30" height="10.10" fill="#a6a5f0" />
<rect x="351.01" y="225.80" width="2.30" height="39.20" fill="#808080" />
<rect x="351.01" y="265.00" width="2.30" height="39.80" fill="#1c1a6c" />
<rect x="354.42" y="211.00" width="2.30" height="4.40" fill="#d4d4d4" />
<rect x="354.42" y="215.40" width="2.30" height="12.60" fill="#a6a5f0" />
<rect x="354.42" y="228.00" width="2.30" height="39.00" fill="#808080" />
<rect x="354.42" y="267.00" width="2.30" height="37.80" fill="#1c1a6c" />
<rect x="357.83" y="211.00" width="2.30" height="4.90" fill="#d4d4d4" />
<rect x="357.83" y="215.90" width="2.30" height="13.20" fill="#a6a5f0" />
<rect x="357.83" y="229.10" width="2.30" height="38.80" fill="#808080" />
<rect x="357.83" y="267.90" width="2.30" height="36.90" fill="#1c1a6c" />
<rect x="361.24" y="210.40" width="2.30" height="6.40" fill="#d4d4d4" />
<rect x="361.24" y="216.80" width="2.30" height="12.30" fill="#a6a5f0" />
<rect x="361.24" y="229.10" width="2.30" height="37.00" fill="#808080" />
<rect x="361.24" y="266.10" width="2.30" height="38.70" fill="#1c1a6c" />
<rect x="364.65" y="210.40" width="2.30" height="5.50" fill="#d4d4d4" />
<rect x="364.65" y="215.90" width="2.30" height="15.20" fill="#a6a5f0" />
<rect x="364.65" y="231.10" width="2.30" height="38.10" fill="#808080" />
<rect x="364.65" y="269.20" width="2.30" height="35.60" fill="#1c1a6c" />
<rect x="368.06" y="210.20" width="2.30" height="3.00" fill="#d4d4d4" />
<rect x="368.06" y="213.20" width="2.30" height="9.10" fill="#a6a5f0" />
<rect x="368.06" y="222.30" width="2.30" height="40.80" fill="#808080" />
<rect x="368.06" y="263.10" width="2.30" height="41.70" fill="#1c1a6c" />
<rect x="371.47" y="210.20" width="2.30" height="7.90" fill="#d4d4d4" />
<rect x="371.47" y="218.10" width="2.30" height="14.90" fill="#a6a5f0" />
<rect x="371.47" y="233.00" width="2.30" height="36.90" fill="#808080" />
<rect x="371.47" y="269.90" width="2.30" height="34.90" fill="#1c1a6c" />
<rect x="374.88" y="209.90" width="2.30" height="4.00" fill="#d4d4d4" />
<rect x="374.88" y="213.90" width="2.30" height="11.40" fill="#a6a5f0" />
<rect x="374.88" y="225.30" width="2.30" height="39.70" fill="#808080" />
<rect x="374.88" y="265.00" width="2.30" height="39.80" fill="#1c1a6c" />
<rect x="378.29" y="209.90" width="2.30" height="7.10" fill="#d4d4d4" />
<rect x="378.29" y="217.00" width="2.30" height="12.10" fill="#a6a5f0" />
<rect x="378.29" y="229.10" width="2.30" height="38.70" fill="#808080" />
<rect x="378.29" y="267.80" width="2.30" height="37.00" fill="#1c1a6c" />
<rect x="381.70" y="209.90" width="2.30" height="7.10" fill="#d4d4d4" />
<rect x="381.70" y="217.00" width="2.30" height="12.10" fill="#a6a5f0" />
<rect x="381.70" y="229.10" width="2.30" height="38.80" fill="#808080" />
<rect x="381.70" y="267.90" width="2.30" height="36.90" fill="#1c1a6c" />
<rect x="385.11" y="209.90" width="2.30" height="3.30" fill="#d4d4d4" />
<rect x="385.11" y="213.20" width="2.30" height="13.90" fill="#a6a5f0" />
<rect x="385.11" y="227.10" width="2.30" height="38.80" fill="#808080" />
<rect x="385.11" y="265.90" width="2.30" height="38.90" fill="#1c1a6c" />
<rect x="388.52" y="209.50" width="2.30" height="6.40" fill="#d4d4d4" />
<rect x="388.52" y="215.90" width="2.30" height="14.90" fill="#a6a5f0" />
<rect x="388.52" y="230.80" width="2.30" height="38.40" fill="#808080" />
<rect x="388.52" y="269.20" width="2.30" height="35.60" fill="#1c1a6c" />
<rect x="391.93" y="209.30" width="2.30" height="5.00" fill="#d4d4d4" />
<rect x="391.93" y="214.30" width="2.30" height="11.00" fill="#a6a5f0" />
<rect x="391.93" y="225.30" width="2.30" height="39.70" fill="#808080" />
<rect x="391.93" y="265.00" width="2.30" height="39.80" fill="#1c1a6c" />
<rect x="395.34" y="209.20" width="2.30" height="7.90" fill="#d4d4d4" />
<rect x="395.34" y="217.10" width="2.30" height="15.20" fill="#a6a5f0" />
<rect x="395.34" y="232.30" width="2.30" height="37.60" fill="#808080" />
<rect x="395.34" y="269.90" width="2.30" height="34.90" fill="#1c1a6c" />
<rect x="398.75" y="209.00" width="2.30" height="5.10" fill="#d4d4d4" />
<rect x="398.75" y="214.10" width="2.30" height="12.90" fill="#a6a5f0" />
<rect x="398.75" y="227.00" width="2.30" height="38.90" fill="#808080" />
<rect x="398.75" y="265.90" width="2.30" height="38.90" fill="#1c1a6c" />
<rect x="402.16" y="209.00" width="2.30" height="2.20" fill="#d4d4d4" />
<rect x="402.16" y="211.20" width="2.30" height="8.80" fill="#a6a5f0" />
<rect x="402.16" y="220.00" width="2.30" height="41.70" fill="#808080" />
<rect x="402.16" y="261.70" width="2.30" height="43.10" fill="#1c1a6c" />
<rect x="405.57" y="208.10" width="2.30" height="4.90" fill="#d4d4d4" />
<rect x="405.57" y="213.00" width="2.30" height="15.10" fill="#a6a5f0" />
<rect x="405.57" y="228.10" width="2.30" height="39.00" fill="#808080" />
<rect x="405.57" y="267.10" width="2.30" height="37.70" fill="#1c1a6c" />
<rect x="408.98" y="208.10" width="2.30" height="6.00" fill="#d4d4d4" />
<rect x="408.98" y="214.10" width="2.30" height="12.70" fill="#a6a5f0" />
<rect x="408.98" y="226.80" width="2.30" height="39.60" fill="#808080" />
<rect x="408.98" y="266.40" width="2.30" height="38.40" fill="#1c1a6c" />
<rect x="412.39" y="208.10" width="2.30" height="6.00" fill="#d4d4d4" />
<rect x="412.39" y="214.10" width="2.30" height="14.00" fill="#a6a5f0" />
<rect x="412.39" y="228.10" width="2.30" height="39.30" fill="#808080" />
<rect x="412.39" y="267.40" width="2.30" height="37.40" fill="#1c1a6c" />
<rect x="415.80" y="207.20" width="2.30" height="6.90" fill="#d4d4d4" />
<rect x="415.80" y="214.10" width="2.30" height="14.00" fill="#a6a5f0" />
<rect x="415.80" y="228.10" width="2.30" height="39.00" fill="#808080" />
<rect x="415.80" y="267.10" width="2.30" height="37.70" fill="#1c1a6c" />
<rect x="419.21" y="207.20" width="2.30" height="0.90" fill="#d4d4d4" />
<rect x="419.21" y="208.10" width="2.30" height="3.80" fill="#a6a5f0" />
<rect x="419.21" y="211.90" width="2.30" height="44.30" fill="#808080" />
<rect x="419.21" y="256.20" width="2.30" height="48.60" fill="#1c1a6c" />
<rect x="422.62" y="207.20" width="2.30" height="6.90" fill="#d4d4d4" />
<rect x="422.62" y="214.10" width="2.30" height="14.00" fill="#a6a5f0" />
<rect x="422.62" y="228.10" width="2.30" height="39.00" fill="#808080" />
<rect x="422.62" y="267.10" width="2.30" height="37.70" fill="#1c1a6c" />
<rect x="426.03" y="207.20" width="2.30" height="8.00" fill="#d4d4d4" />
<rect x="426.03" y="215.20" width="2.30" height="15.40" fill="#a6a5f0" />
<rect x="426.03" y="230.60" width="2.30" height="37.80" fill="#808080" />
<rect x="426.03" y="268.40" width="2.30" height="36.40" fill="#1c1a6c" />
<rect x="429.44" y="207.00" width="2.30" height="6.00" fill="#d4d4d4" />
<rect x="429.44" y="213.00" width="2.30" height="16.00" fill="#a6a5f0" />
<rect x="429.44" y="229.00" width="2.30" height="38.90" fill="#808080" />
<rect x="429.44" y="267.90" width="2.30" height="36.90" fill="#1c1a6c" />
<rect x="432.85" y="206.10" width="2.30" height="7.50" fill="#d4d4d4" />
<rect x="432.85" y="213.60" width="2.30" height="15.60" fill="#a6a5f0" />
<rect x="432.85" y="229.20" width="2.30" height="38.90" fill="#808080" />
<rect x="432.85" y="268.10" width="2.30" height="36.70" fill="#1c1a6c" />
<rect x="436.26" y="206.10" width="2.30" height="6.60" fill="#d4d4d4" />
<rect x="436.26" y="212.70" width="2.30" height="14.30" fill="#a6a5f0" />
<rect x="436.26" y="227.00" width="2.30" height="40.40" fill="#808080" />
<rect x="436.26" y="267.40" width="2.30" height="37.40" fill="#1c1a6c" />
<rect x="439.67" y="204.60" width="2.30" height="7.30" fill="#d4d4d4" />
<rect x="439.67" y="211.90" width="2.30" height="17.90" fill="#a6a5f0" />
<rect x="439.67" y="229.80" width="2.30" height="40.10" fill="#808080" />
<rect x="439.67" y="269.90" width="2.30" height="34.90" fill="#1c1a6c" />
<rect x="443.08" y="203.90" width="2.30" height="3.60" fill="#d4d4d4" />
<rect x="443.08" y="207.50" width="2.30" height="11.60" fill="#a6a5f0" />
<rect x="443.08" y="219.10" width="2.30" height="40.80" fill="#808080" />
<rect x="443.08" y="259.90" width="2.30" height="44.90" fill="#1c1a6c" />
<rect x="446.49" y="202.80" width="2.30" height="9.10" fill="#d4d4d4" />
<rect x="446.49" y="211.90" width="2.30" height="16.20" fill="#a6a5f0" />
<rect x="446.49" y="228.10" width="2.30" height="38.00" fill="#808080" />
<rect x="446.49" y="266.10" width="2.30" height="38.70" fill="#1c1a6c" />
<rect x="449.90" y="202.80" width="2.30" height="9.10" fill="#d4d4d4" />
<rect x="449.90" y="211.90" width="2.30" height="16.20" fill="#a6a5f0" />
<rect x="449.90" y="228.10" width="2.30" height="39.00" fill="#808080" />
<rect x="449.90" y="267.10" width="2.30" height="37.70" fill="#1c1a6c" />
<rect x="453.31" y="199.80" width="2.30" height="10.30" fill="#d4d4d4" />
<rect x="453.31" y="210.10" width="2.30" height="18.00" fill="#a6a5f0" />
<rect x="453.31" y="228.10" width="2.30" height="40.80" fill="#808080" />
<rect x="453.31" y="268.90" width="2.30" height="35.90" fill="#1c1a6c" />
<rect x="456.72" y="198.20" width="2.30" height="7.50" fill="#d4d4d4" />
<rect x="456.72" y="205.70" width="2.30" height="19.40" fill="#a6a5f0" />
<rect x="456.72" y="225.10" width="2.30" height="41.00" fill="#808080" />
<rect x="456.72" y="266.10" width="2.30" height="38.70" fill="#1c1a6c" />
<line x1="278.00" y1="181.50" x2="278.00" y2="304.80" stroke="#262626" stroke-width="0.9"/>
<line x1="275.80" y1="304.80" x2="278.00" y2="304.80" stroke="#262626" stroke-width="0.9"/>
<text x="274.40" y="307.44" font-size="8.0" text-anchor="end" fill="#222" >0</text>
<line x1="275.80" y1="274.20" x2="278.00" y2="274.20" stroke="#262626" stroke-width="0.9"/>
<text x="274.40" y="276.84" font-size="8.0" text-anchor="end" fill="#222" >5</text>
<line x1="275.80" y1="243.60" x2="278.00" y2="243.60" stroke="#262626" stroke-width="0.9"/>
<text x="274.40" y="246.24" font-size="8.0" text-anchor="end" fill="#222" >10</text>
<line x1="275.80" y1="213.00" x2="278.00" y2="213.00" stroke="#262626" stroke-width="0.9"/>
<text x="274.40" y="215.64" font-size="8.0" text-anchor="end" fill="#222" >15</text>
<line x1="275.80" y1="182.40" x2="278.00" y2="182.40" stroke="#262626" stroke-width="0.9"/>
<text x="274.40" y="185.04" font-size="8.0" text-anchor="end" fill="#222" >20</text>
<line x1="277.60" y1="304.80" x2="460.00" y2="304.80" stroke="#262626" stroke-width="0.8"/>
<text x="245.30" y="243.00" font-size="8.2" font-weight="bold" text-anchor="middle" fill="#1a1a1a" transform="rotate(-90 245.30 243.00)" >Number of unique</text>
<text x="255.40" y="243.00" font-size="8.2" font-weight="bold" text-anchor="middle" fill="#1a1a1a" transform="rotate(-90 255.40 243.00)" >structural variants (x10<tspan font-size="5.2" dy="-2.8">3</tspan><tspan dy="2.8">)</tspan></text>
<text x="369.30" y="316.20" font-size="8.1" font-weight="bold" text-anchor="middle" textLength="162" lengthAdjust="spacingAndGlyphs" fill="#1a1a1a" >Structural variant contribution per sample</text>
<rect x="285.20" y="162.35" width="13.10" height="3.30" fill="#1c1a6c" />
<text x="305.50" y="166.60" font-size="7.3" fill="#222" >Insertion Polymorphism</text>
<rect x="285.20" y="170.65" width="13.10" height="3.30" fill="#808080" />
<text x="305.50" y="174.90" font-size="7.3" fill="#222" >Deletion Polymorphism</text>
<rect x="285.20" y="178.95" width="13.10" height="3.30" fill="#a6a5f0" />
<text x="305.50" y="183.20" font-size="7.3" fill="#222" >Insertion Singleton</text>
<rect x="285.20" y="187.25" width="13.10" height="3.30" fill="#d4d4d4" />
<text x="305.50" y="191.50" font-size="7.3" fill="#222" >Deletion Singleton</text>
<text x="492.20" y="179.20" font-size="14" font-weight="bold" fill="#111" >f.</text>
<ellipse cx="570.6" cy="254.9" rx="66.9" ry="65.7" fill="#f07a85"/>
<circle cx="636.1" cy="254.8" r="47.8" fill="#8fd08a"/>
<circle cx="636.1" cy="254.8" r="47.8" fill="#d2aa82" clip-path="url(#cr2)"/>
<text x="547.50" y="248.40" font-size="5.6" font-weight="bold" text-anchor="middle" textLength="60" lengthAdjust="spacingAndGlyphs" fill="#1a1a1a" class="vn">HPRC, CPC &amp; GRCh38</text>
<text x="545.90" y="255.90" font-size="5.6" text-anchor="middle" fill="#1a1a1a" class="vn">646,198</text>
<text x="615.10" y="255.90" font-size="5.6" text-anchor="middle" fill="#1a1a1a" class="vn">194,667</text>
<text x="657.40" y="248.40" font-size="5.6" font-weight="bold" text-anchor="middle" fill="#1a1a1a" class="vn">UPR</text>
<text x="658.40" y="255.90" font-size="5.6" text-anchor="middle" fill="#1a1a1a" class="vn">235,315</text>
<text x="237.40" y="349.20" font-size="14" font-weight="bold" fill="#111" >h.</text>
<rect x="278.90" y="516.10" width="2.10" height="2.08" fill="#5cb97e" />
<rect x="278.90" y="518.18" width="2.10" height="5.82" fill="#97d4df" />
<rect x="278.90" y="523.90" width="2.10" height="1.40" fill="#e8454f" />
<rect x="282.37" y="498.50" width="2.10" height="2.59" fill="#5cb97e" />
<rect x="282.37" y="501.09" width="2.10" height="22.91" fill="#97d4df" />
<rect x="282.37" y="523.90" width="2.10" height="1.40" fill="#e8454f" />
<rect x="285.84" y="486.50" width="2.10" height="3.20" fill="#5cb97e" />
<rect x="285.84" y="489.70" width="2.10" height="34.30" fill="#97d4df" />
<rect x="285.84" y="523.90" width="2.10" height="1.40" fill="#e8454f" />
<rect x="289.30" y="478.20" width="2.10" height="4.38" fill="#5cb97e" />
<rect x="289.30" y="482.58" width="2.10" height="41.42" fill="#97d4df" />
<rect x="289.30" y="523.90" width="2.10" height="1.40" fill="#e8454f" />
<rect x="292.77" y="472.10" width="2.10" height="4.78" fill="#5cb97e" />
<rect x="292.77" y="476.88" width="2.10" height="47.12" fill="#97d4df" />
<rect x="292.77" y="523.90" width="2.10" height="1.40" fill="#e8454f" />
<rect x="296.24" y="466.70" width="2.10" height="5.56" fill="#5cb97e" />
<rect x="296.24" y="472.26" width="2.10" height="51.74" fill="#97d4df" />
<rect x="296.24" y="523.90" width="2.10" height="1.40" fill="#e8454f" />
<rect x="299.71" y="461.10" width="2.10" height="6.88" fill="#5cb97e" />
<rect x="299.71" y="467.98" width="2.10" height="56.02" fill="#97d4df" />
<rect x="299.71" y="523.90" width="2.10" height="1.40" fill="#e8454f" />
<rect x="303.18" y="458.10" width="2.10" height="6.86" fill="#5cb97e" />
<rect x="303.18" y="464.96" width="2.10" height="59.04" fill="#97d4df" />
<rect x="303.18" y="523.90" width="2.10" height="1.40" fill="#e8454f" />
<rect x="306.64" y="454.10" width="2.10" height="7.83" fill="#5cb97e" />
<rect x="306.64" y="461.93" width="2.10" height="62.07" fill="#97d4df" />
<rect x="306.64" y="523.90" width="2.10" height="1.40" fill="#e8454f" />
<rect x="310.11" y="449.80" width="2.10" height="9.64" fill="#5cb97e" />
<rect x="310.11" y="459.44" width="2.10" height="64.56" fill="#97d4df" />
<rect x="310.11" y="523.90" width="2.10" height="1.40" fill="#e8454f" />
<rect x="313.58" y="446.80" width="2.10" height="10.15" fill="#5cb97e" />
<rect x="313.58" y="456.95" width="2.10" height="67.05" fill="#97d4df" />
<rect x="313.58" y="523.90" width="2.10" height="1.40" fill="#e8454f" />
<rect x="317.05" y="444.20" width="2.10" height="10.97" fill="#5cb97e" />
<rect x="317.05" y="455.17" width="2.10" height="68.83" fill="#97d4df" />
<rect x="317.05" y="523.90" width="2.10" height="1.40" fill="#e8454f" />
<rect x="320.52" y="441.10" width="2.10" height="12.29" fill="#5cb97e" />
<rect x="320.52" y="453.39" width="2.10" height="70.61" fill="#97d4df" />
<rect x="320.52" y="523.90" width="2.10" height="1.40" fill="#e8454f" />
<rect x="323.98" y="438.50" width="2.10" height="13.11" fill="#5cb97e" />
<rect x="323.98" y="451.61" width="2.10" height="72.39" fill="#97d4df" />
<rect x="323.98" y="523.90" width="2.10" height="1.40" fill="#e8454f" />
<rect x="327.45" y="435.90" width="2.10" height="13.93" fill="#5cb97e" />
<rect x="327.45" y="449.83" width="2.10" height="74.17" fill="#97d4df" />
<rect x="327.45" y="523.90" width="2.10" height="1.40" fill="#e8454f" />
<rect x="330.92" y="432.40" width="2.10" height="16.24" fill="#5cb97e" />
<rect x="330.92" y="448.64" width="2.10" height="75.36" fill="#97d4df" />
<rect x="330.92" y="523.90" width="2.10" height="1.40" fill="#e8454f" />
<rect x="334.39" y="430.70" width="2.10" height="16.75" fill="#5cb97e" />
<rect x="334.39" y="447.45" width="2.10" height="76.55" fill="#97d4df" />
<rect x="334.39" y="523.90" width="2.10" height="1.40" fill="#e8454f" />
<rect x="337.86" y="428.60" width="2.10" height="17.67" fill="#5cb97e" />
<rect x="337.86" y="446.27" width="2.10" height="77.73" fill="#97d4df" />
<rect x="337.86" y="523.90" width="2.10" height="1.40" fill="#e8454f" />
<rect x="341.32" y="426.80" width="2.10" height="18.28" fill="#5cb97e" />
<rect x="341.32" y="445.08" width="2.10" height="78.92" fill="#97d4df" />
<rect x="341.32" y="523.90" width="2.10" height="1.40" fill="#e8454f" />
<rect x="344.79" y="424.60" width="2.10" height="19.29" fill="#5cb97e" />
<rect x="344.79" y="443.89" width="2.10" height="80.11" fill="#97d4df" />
<rect x="344.79" y="523.90" width="2.10" height="1.40" fill="#e8454f" />
<rect x="348.26" y="422.00" width="2.10" height="20.71" fill="#5cb97e" />
<rect x="348.26" y="442.71" width="2.10" height="81.29" fill="#97d4df" />
<rect x="348.26" y="523.90" width="2.10" height="1.40" fill="#e8454f" />
<rect x="351.73" y="420.20" width="2.10" height="21.76" fill="#5cb97e" />
<rect x="351.73" y="441.96" width="2.10" height="82.04" fill="#97d4df" />
<rect x="351.73" y="523.90" width="2.10" height="1.40" fill="#e8454f" />
<rect x="355.20" y="418.10" width="2.10" height="23.10" fill="#5cb97e" />
<rect x="355.20" y="441.20" width="2.10" height="82.80" fill="#97d4df" />
<rect x="355.20" y="523.90" width="2.10" height="1.40" fill="#e8454f" />
<rect x="358.66" y="415.90" width="2.10" height="24.55" fill="#5cb97e" />
<rect x="358.66" y="440.45" width="2.10" height="83.55" fill="#97d4df" />
<rect x="358.66" y="523.90" width="2.10" height="1.40" fill="#e8454f" />
<rect x="362.13" y="414.10" width="2.10" height="25.60" fill="#5cb97e" />
<rect x="362.13" y="439.70" width="2.10" height="84.30" fill="#97d4df" />
<rect x="362.13" y="523.90" width="2.10" height="1.40" fill="#e8454f" />
<rect x="365.60" y="412.40" width="2.10" height="26.55" fill="#5cb97e" />
<rect x="365.60" y="438.95" width="2.10" height="85.05" fill="#97d4df" />
<rect x="365.60" y="523.90" width="2.10" height="1.40" fill="#e8454f" />
<rect x="369.07" y="411.20" width="2.10" height="27.00" fill="#5cb97e" />
<rect x="369.07" y="438.20" width="2.10" height="85.80" fill="#97d4df" />
<rect x="369.07" y="523.90" width="2.10" height="1.40" fill="#e8454f" />
<rect x="372.54" y="409.80" width="2.10" height="27.65" fill="#5cb97e" />
<rect x="372.54" y="437.45" width="2.10" height="86.55" fill="#97d4df" />
<rect x="372.54" y="523.90" width="2.10" height="1.40" fill="#e8454f" />
<rect x="376.00" y="408.00" width="2.10" height="28.70" fill="#5cb97e" />
<rect x="376.00" y="436.70" width="2.10" height="87.30" fill="#97d4df" />
<rect x="376.00" y="523.90" width="2.10" height="1.40" fill="#e8454f" />
<rect x="379.47" y="407.00" width="2.10" height="28.94" fill="#5cb97e" />
<rect x="379.47" y="435.94" width="2.10" height="88.06" fill="#97d4df" />
<rect x="379.47" y="523.90" width="2.10" height="1.40" fill="#e8454f" />
<rect x="382.94" y="405.30" width="2.10" height="30.29" fill="#5cb97e" />
<rect x="382.94" y="435.59" width="2.10" height="88.41" fill="#97d4df" />
<rect x="382.94" y="523.90" width="2.10" height="1.40" fill="#e8454f" />
<rect x="386.41" y="403.20" width="2.10" height="32.03" fill="#5cb97e" />
<rect x="386.41" y="435.23" width="2.10" height="88.77" fill="#97d4df" />
<rect x="386.41" y="523.90" width="2.10" height="1.40" fill="#e8454f" />
<rect x="389.88" y="402.00" width="2.10" height="32.88" fill="#5cb97e" />
<rect x="389.88" y="434.88" width="2.10" height="89.12" fill="#97d4df" />
<rect x="389.88" y="523.90" width="2.10" height="1.40" fill="#e8454f" />
<rect x="393.34" y="399.50" width="2.10" height="35.02" fill="#5cb97e" />
<rect x="393.34" y="434.52" width="2.10" height="89.48" fill="#97d4df" />
<rect x="393.34" y="523.90" width="2.10" height="1.40" fill="#e8454f" />
<rect x="396.81" y="398.20" width="2.10" height="35.96" fill="#5cb97e" />
<rect x="396.81" y="434.16" width="2.10" height="89.84" fill="#97d4df" />
<rect x="396.81" y="523.90" width="2.10" height="1.40" fill="#e8454f" />
<rect x="400.28" y="395.90" width="2.10" height="37.91" fill="#5cb97e" />
<rect x="400.28" y="433.81" width="2.10" height="90.19" fill="#97d4df" />
<rect x="400.28" y="523.90" width="2.10" height="1.40" fill="#e8454f" />
<rect x="403.75" y="394.30" width="2.10" height="39.15" fill="#5cb97e" />
<rect x="403.75" y="433.45" width="2.10" height="90.55" fill="#97d4df" />
<rect x="403.75" y="523.90" width="2.10" height="1.40" fill="#e8454f" />
<rect x="407.22" y="393.00" width="2.10" height="40.10" fill="#5cb97e" />
<rect x="407.22" y="433.10" width="2.10" height="90.90" fill="#97d4df" />
<rect x="407.22" y="523.90" width="2.10" height="1.40" fill="#e8454f" />
<rect x="410.68" y="391.80" width="2.10" height="40.94" fill="#5cb97e" />
<rect x="410.68" y="432.74" width="2.10" height="91.26" fill="#97d4df" />
<rect x="410.68" y="523.90" width="2.10" height="1.40" fill="#e8454f" />
<rect x="414.15" y="390.50" width="2.10" height="41.88" fill="#5cb97e" />
<rect x="414.15" y="432.38" width="2.10" height="91.62" fill="#97d4df" />
<rect x="414.15" y="523.90" width="2.10" height="1.40" fill="#e8454f" />
<rect x="417.62" y="389.30" width="2.10" height="42.73" fill="#5cb97e" />
<rect x="417.62" y="432.03" width="2.10" height="91.97" fill="#97d4df" />
<rect x="417.62" y="523.90" width="2.10" height="1.40" fill="#e8454f" />
<rect x="421.09" y="388.00" width="2.10" height="43.89" fill="#5cb97e" />
<rect x="421.09" y="431.89" width="2.10" height="92.11" fill="#97d4df" />
<rect x="421.09" y="523.90" width="2.10" height="1.40" fill="#e8454f" />
<rect x="424.56" y="386.70" width="2.10" height="45.05" fill="#5cb97e" />
<rect x="424.56" y="431.75" width="2.10" height="92.25" fill="#97d4df" />
<rect x="424.56" y="523.90" width="2.10" height="1.40" fill="#e8454f" />
<rect x="428.02" y="385.50" width="2.10" height="46.12" fill="#5cb97e" />
<rect x="428.02" y="431.62" width="2.10" height="92.38" fill="#97d4df" />
<rect x="428.02" y="523.90" width="2.10" height="1.40" fill="#e8454f" />
<rect x="431.49" y="384.40" width="2.10" height="47.08" fill="#5cb97e" />
<rect x="431.49" y="431.48" width="2.10" height="92.52" fill="#97d4df" />
<rect x="431.49" y="523.90" width="2.10" height="1.40" fill="#e8454f" />
<rect x="434.96" y="382.20" width="2.10" height="49.14" fill="#5cb97e" />
<rect x="434.96" y="431.34" width="2.10" height="92.66" fill="#97d4df" />
<rect x="434.96" y="523.90" width="2.10" height="1.40" fill="#e8454f" />
<rect x="438.43" y="380.60" width="2.10" height="50.61" fill="#5cb97e" />
<rect x="438.43" y="431.21" width="2.10" height="92.79" fill="#97d4df" />
<rect x="438.43" y="523.90" width="2.10" height="1.40" fill="#e8454f" />
<rect x="441.90" y="378.90" width="2.10" height="52.17" fill="#5cb97e" />
<rect x="441.90" y="431.07" width="2.10" height="92.93" fill="#97d4df" />
<rect x="441.90" y="523.90" width="2.10" height="1.40" fill="#e8454f" />
<rect x="445.36" y="377.80" width="2.10" height="53.13" fill="#5cb97e" />
<rect x="445.36" y="430.93" width="2.10" height="93.07" fill="#97d4df" />
<rect x="445.36" y="523.90" width="2.10" height="1.40" fill="#e8454f" />
<rect x="448.83" y="377.00" width="2.10" height="53.80" fill="#5cb97e" />
<rect x="448.83" y="430.80" width="2.10" height="93.20" fill="#97d4df" />
<rect x="448.83" y="523.90" width="2.10" height="1.40" fill="#e8454f" />
<rect x="452.30" y="376.10" width="2.10" height="54.56" fill="#5cb97e" />
<rect x="452.30" y="430.66" width="2.10" height="93.34" fill="#97d4df" />
<rect x="452.30" y="523.90" width="2.10" height="1.40" fill="#e8454f" />
<rect x="455.77" y="374.80" width="2.10" height="55.72" fill="#5cb97e" />
<rect x="455.77" y="430.52" width="2.10" height="93.48" fill="#97d4df" />
<rect x="455.77" y="523.90" width="2.10" height="1.40" fill="#e8454f" />
<rect x="459.24" y="374.00" width="2.10" height="56.38" fill="#5cb97e" />
<rect x="459.24" y="430.38" width="2.10" height="93.62" fill="#97d4df" />
<rect x="459.24" y="523.90" width="2.10" height="1.40" fill="#e8454f" />
<rect x="462.70" y="372.40" width="2.10" height="57.85" fill="#5cb97e" />
<rect x="462.70" y="430.25" width="2.10" height="93.75" fill="#97d4df" />
<rect x="462.70" y="523.90" width="2.10" height="1.40" fill="#e8454f" />
<line x1="274.40" y1="364.50" x2="274.40" y2="525.30" stroke="#888" stroke-width="0.8"/>
<line x1="272.20" y1="525.30" x2="274.40" y2="525.30" stroke="#888" stroke-width="0.8"/>
<text x="271.00" y="526.97" font-size="7.8" text-anchor="end" fill="#222" >0</text>
<line x1="272.20" y1="507.50" x2="274.40" y2="507.50" stroke="#888" stroke-width="0.8"/>
<text x="271.00" y="509.17" font-size="7.8" text-anchor="end" fill="#222" >25</text>
<line x1="272.20" y1="489.70" x2="274.40" y2="489.70" stroke="#888" stroke-width="0.8"/>
<text x="271.00" y="491.37" font-size="7.8" text-anchor="end" fill="#222" >50</text>
<line x1="272.20" y1="471.90" x2="274.40" y2="471.90" stroke="#888" stroke-width="0.8"/>
<text x="271.00" y="473.57" font-size="7.8" text-anchor="end" fill="#222" >75</text>
<line x1="272.20" y1="454.10" x2="274.40" y2="454.10" stroke="#888" stroke-width="0.8"/>
<text x="271.00" y="455.77" font-size="7.8" text-anchor="end" fill="#222" >100</text>
<line x1="272.20" y1="436.30" x2="274.40" y2="436.30" stroke="#888" stroke-width="0.8"/>
<text x="271.00" y="437.97" font-size="7.8" text-anchor="end" fill="#222" >125</text>
<line x1="272.20" y1="418.50" x2="274.40" y2="418.50" stroke="#888" stroke-width="0.8"/>
<text x="271.00" y="420.17" font-size="7.8" text-anchor="end" fill="#222" >150</text>
<line x1="272.20" y1="400.70" x2="274.40" y2="400.70" stroke="#888" stroke-width="0.8"/>
<text x="271.00" y="402.37" font-size="7.8" text-anchor="end" fill="#222" >175</text>
<line x1="272.20" y1="382.90" x2="274.40" y2="382.90" stroke="#888" stroke-width="0.8"/>
<text x="271.00" y="384.57" font-size="7.8" text-anchor="end" fill="#222" >200</text>
<line x1="274.00" y1="525.50" x2="466.00" y2="525.50" stroke="#888" stroke-width="0.8"/>
<text x="249.60" y="445.00" font-size="8.4" font-weight="bold" text-anchor="middle" fill="#1a1a1a" transform="rotate(-90 249.60 445.00)" >Length (Mb)</text>
<text x="376.50" y="539.00" font-size="8.65" font-weight="bold" text-anchor="middle" fill="#1a1a1a" >Samples</text>
<rect x="286.00" y="362.40" width="17.80" height="3.60" fill="#e8454f" />
<text x="307.10" y="366.10" font-size="6.0" fill="#222" class="ns">Core</text>
<rect x="286.00" y="368.70" width="17.80" height="3.60" fill="#97d4df" />
<text x="307.10" y="372.40" font-size="6.0" fill="#222" class="ns">Common</text>
<rect x="286.00" y="375.00" width="17.80" height="3.60" fill="#5cb97e" />
<text x="307.10" y="378.70" font-size="6.0" fill="#222" class="ns">Singleton</text>
<text x="477.80" y="349.20" font-size="14" font-weight="bold" fill="#111" >i.</text>
<rect x="512.90" y="449.20" width="1.95" height="50.90" fill="#a9a8ec" />
<rect x="512.90" y="500.10" width="1.95" height="26.10" fill="#1c1a6c" />
<rect x="515.73" y="446.90" width="1.95" height="57.10" fill="#a9a8ec" />
<rect x="515.73" y="504.00" width="1.95" height="22.20" fill="#1c1a6c" />
<rect x="518.55" y="446.20" width="1.95" height="50.00" fill="#a9a8ec" />
<rect x="518.55" y="496.20" width="1.95" height="30.00" fill="#1c1a6c" />
<rect x="521.38" y="445.90" width="1.95" height="53.20" fill="#a9a8ec" />
<rect x="521.38" y="499.10" width="1.95" height="27.10" fill="#1c1a6c" />
<rect x="524.20" y="445.50" width="1.95" height="60.50" fill="#a9a8ec" />
<rect x="524.20" y="506.00" width="1.95" height="20.20" fill="#1c1a6c" />
<rect x="527.02" y="444.80" width="1.95" height="60.20" fill="#a9a8ec" />
<rect x="527.02" y="505.00" width="1.95" height="21.20" fill="#1c1a6c" />
<rect x="529.85" y="443.90" width="1.95" height="58.90" fill="#a9a8ec" />
<rect x="529.85" y="502.80" width="1.95" height="23.40" fill="#1c1a6c" />
<rect x="532.67" y="442.80" width="1.95" height="58.80" fill="#a9a8ec" />
<rect x="532.67" y="501.60" width="1.95" height="24.60" fill="#1c1a6c" />
<rect x="535.50" y="442.80" width="1.95" height="54.40" fill="#a9a8ec" />
<rect x="535.50" y="497.20" width="1.95" height="29.00" fill="#1c1a6c" />
<rect x="538.32" y="441.00" width="1.95" height="63.00" fill="#a9a8ec" />
<rect x="538.32" y="504.00" width="1.95" height="22.20" fill="#1c1a6c" />
<rect x="541.15" y="439.60" width="1.95" height="22.40" fill="#a9a8ec" />
<rect x="541.15" y="462.00" width="1.95" height="64.20" fill="#1c1a6c" />
<rect x="543.98" y="439.60" width="1.95" height="64.90" fill="#a9a8ec" />
<rect x="543.98" y="504.50" width="1.95" height="21.70" fill="#1c1a6c" />
<rect x="546.80" y="438.00" width="1.95" height="67.00" fill="#a9a8ec" />
<rect x="546.80" y="505.00" width="1.95" height="21.20" fill="#1c1a6c" />
<rect x="549.62" y="437.30" width="1.95" height="70.60" fill="#a9a8ec" />
<rect x="549.62" y="507.90" width="1.95" height="18.30" fill="#1c1a6c" />
<rect x="552.45" y="436.30" width="1.95" height="59.40" fill="#a9a8ec" />
<rect x="552.45" y="495.70" width="1.95" height="30.50" fill="#1c1a6c" />
<rect x="555.27" y="435.90" width="1.95" height="66.60" fill="#a9a8ec" />
<rect x="555.27" y="502.50" width="1.95" height="23.70" fill="#1c1a6c" />
<rect x="558.10" y="434.90" width="1.95" height="70.80" fill="#a9a8ec" />
<rect x="558.10" y="505.70" width="1.95" height="20.50" fill="#1c1a6c" />
<rect x="560.92" y="434.90" width="1.95" height="71.10" fill="#a9a8ec" />
<rect x="560.92" y="506.00" width="1.95" height="20.20" fill="#1c1a6c" />
<rect x="563.75" y="434.90" width="1.95" height="66.70" fill="#a9a8ec" />
<rect x="563.75" y="501.60" width="1.95" height="24.60" fill="#1c1a6c" />
<rect x="566.57" y="434.50" width="1.95" height="67.10" fill="#a9a8ec" />
<rect x="566.57" y="501.60" width="1.95" height="24.60" fill="#1c1a6c" />
<rect x="569.40" y="434.10" width="1.95" height="59.20" fill="#a9a8ec" />
<rect x="569.40" y="493.30" width="1.95" height="32.90" fill="#1c1a6c" />
<rect x="572.23" y="433.80" width="1.95" height="61.40" fill="#a9a8ec" />
<rect x="572.23" y="495.20" width="1.95" height="31.00" fill="#1c1a6c" />
<rect x="575.05" y="433.20" width="1.95" height="71.30" fill="#a9a8ec" />
<rect x="575.05" y="504.50" width="1.95" height="21.70" fill="#1c1a6c" />
<rect x="577.88" y="432.20" width="1.95" height="71.80" fill="#a9a8ec" />
<rect x="577.88" y="504.00" width="1.95" height="22.20" fill="#1c1a6c" />
<rect x="580.70" y="431.40" width="1.95" height="73.60" fill="#a9a8ec" />
<rect x="580.70" y="505.00" width="1.95" height="21.20" fill="#1c1a6c" />
<rect x="583.52" y="430.30" width="1.95" height="74.70" fill="#a9a8ec" />
<rect x="583.52" y="505.00" width="1.95" height="21.20" fill="#1c1a6c" />
<rect x="586.35" y="430.00" width="1.95" height="68.40" fill="#a9a8ec" />
<rect x="586.35" y="498.40" width="1.95" height="27.80" fill="#1c1a6c" />
<rect x="589.17" y="430.00" width="1.95" height="74.30" fill="#a9a8ec" />
<rect x="589.17" y="504.30" width="1.95" height="21.90" fill="#1c1a6c" />
<rect x="592.00" y="430.00" width="1.95" height="78.40" fill="#a9a8ec" />
<rect x="592.00" y="508.40" width="1.95" height="17.80" fill="#1c1a6c" />
<rect x="594.83" y="430.00" width="1.95" height="77.20" fill="#a9a8ec" />
<rect x="594.83" y="507.20" width="1.95" height="19.00" fill="#1c1a6c" />
<rect x="597.65" y="429.20" width="1.95" height="77.00" fill="#a9a8ec" />
<rect x="597.65" y="506.20" width="1.95" height="20.00" fill="#1c1a6c" />
<rect x="600.48" y="424.80" width="1.95" height="78.30" fill="#a9a8ec" />
<rect x="600.48" y="503.10" width="1.95" height="23.10" fill="#1c1a6c" />
<rect x="603.30" y="424.10" width="1.95" height="83.10" fill="#a9a8ec" />
<rect x="603.30" y="507.20" width="1.95" height="19.00" fill="#1c1a6c" />
<rect x="606.12" y="422.10" width="1.95" height="79.90" fill="#a9a8ec" />
<rect x="606.12" y="502.00" width="1.95" height="24.20" fill="#1c1a6c" />
<rect x="608.95" y="422.10" width="1.95" height="59.90" fill="#a9a8ec" />
<rect x="608.95" y="482.00" width="1.95" height="44.20" fill="#1c1a6c" />
<rect x="611.77" y="421.40" width="1.95" height="85.10" fill="#a9a8ec" />
<rect x="611.77" y="506.50" width="1.95" height="19.70" fill="#1c1a6c" />
<rect x="614.60" y="420.00" width="1.95" height="78.40" fill="#a9a8ec" />
<rect x="614.60" y="498.40" width="1.95" height="27.80" fill="#1c1a6c" />
<rect x="617.42" y="419.30" width="1.95" height="85.70" fill="#a9a8ec" />
<rect x="617.42" y="505.00" width="1.95" height="21.20" fill="#1c1a6c" />
<rect x="620.25" y="418.20" width="1.95" height="86.80" fill="#a9a8ec" />
<rect x="620.25" y="505.00" width="1.95" height="21.20" fill="#1c1a6c" />
<rect x="623.08" y="418.20" width="1.95" height="82.80" fill="#a9a8ec" />
<rect x="623.08" y="501.00" width="1.95" height="25.20" fill="#1c1a6c" />
<rect x="625.90" y="417.30" width="1.95" height="88.40" fill="#a9a8ec" />
<rect x="625.90" y="505.70" width="1.95" height="20.50" fill="#1c1a6c" />
<rect x="628.73" y="416.90" width="1.95" height="87.10" fill="#a9a8ec" />
<rect x="628.73" y="504.00" width="1.95" height="22.20" fill="#1c1a6c" />
<rect x="631.55" y="416.90" width="1.95" height="86.20" fill="#a9a8ec" />
<rect x="631.55" y="503.10" width="1.95" height="23.10" fill="#1c1a6c" />
<rect x="634.38" y="416.90" width="1.95" height="88.10" fill="#a9a8ec" />
<rect x="634.38" y="505.00" width="1.95" height="21.20" fill="#1c1a6c" />
<rect x="637.20" y="416.60" width="1.95" height="87.40" fill="#a9a8ec" />
<rect x="637.20" y="504.00" width="1.95" height="22.20" fill="#1c1a6c" />
<rect x="640.02" y="415.90" width="1.95" height="90.10" fill="#a9a8ec" />
<rect x="640.02" y="506.00" width="1.95" height="20.20" fill="#1c1a6c" />
<rect x="642.85" y="413.20" width="1.95" height="92.80" fill="#a9a8ec" />
<rect x="642.85" y="506.00" width="1.95" height="20.20" fill="#1c1a6c" />
<rect x="645.67" y="405.90" width="1.95" height="78.10" fill="#a9a8ec" />
<rect x="645.67" y="484.00" width="1.95" height="42.20" fill="#1c1a6c" />
<rect x="648.50" y="403.10" width="1.95" height="101.20" fill="#a9a8ec" />
<rect x="648.50" y="504.30" width="1.95" height="21.90" fill="#1c1a6c" />
<rect x="651.33" y="401.20" width="1.95" height="100.80" fill="#a9a8ec" />
<rect x="651.33" y="502.00" width="1.95" height="24.20" fill="#1c1a6c" />
<rect x="654.15" y="400.10" width="1.95" height="103.00" fill="#a9a8ec" />
<rect x="654.15" y="503.10" width="1.95" height="23.10" fill="#1c1a6c" />
<rect x="656.98" y="398.00" width="1.95" height="109.90" fill="#a9a8ec" />
<rect x="656.98" y="507.90" width="1.95" height="18.30" fill="#1c1a6c" />
<rect x="659.80" y="391.20" width="1.95" height="114.80" fill="#a9a8ec" />
<rect x="659.80" y="506.00" width="1.95" height="20.20" fill="#1c1a6c" />
<line x1="512.00" y1="375.00" x2="512.00" y2="526.20" stroke="#555" stroke-width="0.9"/>
<line x1="509.80" y1="526.20" x2="512.00" y2="526.20" stroke="#555" stroke-width="0.9"/>
<text x="508.50" y="528.81" font-size="7.9" text-anchor="end" fill="#222" >0</text>
<line x1="509.80" y1="488.50" x2="512.00" y2="488.50" stroke="#555" stroke-width="0.9"/>
<text x="508.50" y="491.11" font-size="7.9" text-anchor="end" fill="#222" >1</text>
<line x1="509.80" y1="450.80" x2="512.00" y2="450.80" stroke="#555" stroke-width="0.9"/>
<text x="508.50" y="453.41" font-size="7.9" text-anchor="end" fill="#222" >2</text>
<line x1="509.80" y1="413.10" x2="512.00" y2="413.10" stroke="#555" stroke-width="0.9"/>
<text x="508.50" y="415.71" font-size="7.9" text-anchor="end" fill="#222" >3</text>
<line x1="509.80" y1="375.40" x2="512.00" y2="375.40" stroke="#555" stroke-width="0.9"/>
<text x="508.50" y="378.01" font-size="7.9" text-anchor="end" fill="#222" >4</text>
<line x1="511.60" y1="526.50" x2="663.00" y2="526.50" stroke="#555" stroke-width="0.9"/>
<text x="494.20" y="451.00" font-size="8.8" font-weight="bold" text-anchor="middle" fill="#1a1a1a" transform="rotate(-90 494.20 451.00)" >Length of novel sequences (Mb)</text>
<text x="587.10" y="537.90" font-size="8.65" font-weight="bold" text-anchor="middle" fill="#1a1a1a" >Samples</text>
<rect x="526.60" y="380.80" width="13.90" height="3.80" fill="#1c1a6c" />
<rect x="526.60" y="390.60" width="13.90" height="3.80" fill="#a9a8ec" />
<text x="548.40" y="385.00" font-size="8.0" fill="#222" >Polymorphism</text>
<text x="548.40" y="394.60" font-size="8.0" fill="#222" >Singleton</text>
<text x="0.20" y="336.20" font-size="14" font-weight="bold" fill="#111" >g.</text>
<path d="M19.65,337.70 A1.90,1.90 0 0 1 23.45,337.70 L23.45,434.10 L21.85,436.70 L23.45,439.30 L23.45,535.30 A1.90,1.90 0 0 1 19.65,535.30 L19.65,439.30 L21.25,436.70 L19.65,434.10 Z" fill="#fdf9f9" stroke="#7a7a7a" stroke-width="0.55"/>
<path d="M20.15,338.00 A1.40,1.40 0 0 1 22.95,338.00" fill="none" stroke="#ee4c55" stroke-width="1.1" opacity="0.9"/>
<path d="M20.15,535.00 A1.40,1.40 0 0 0 22.95,535.00" fill="none" stroke="#ee4c55" stroke-width="1.1" opacity="0.9"/>
<rect x="20.00" y="348.20" width="3.10" height="1.60" fill="#ee4c55" opacity="0.8"/>
<rect x="20.00" y="359.60" width="3.10" height="0.80" fill="#ee4c55" opacity="0.4"/>
<rect x="20.00" y="436.30" width="3.10" height="2.40" fill="#ee4c55" opacity="0.9"/>
<rect x="20.00" y="511.60" width="3.10" height="0.80" fill="#ee4c55" opacity="0.4"/>
<rect x="20.00" y="519.60" width="3.10" height="0.80" fill="#ee4c55" opacity="0.5"/>
<rect x="20.00" y="525.60" width="3.10" height="0.80" fill="#ee4c55" opacity="0.5"/>
<rect x="20.05" y="367.26" width="3.00" height="0.6" fill="#f39aa0" opacity="0.19"/>
<rect x="20.05" y="489.41" width="3.00" height="0.6" fill="#f39aa0" opacity="0.24"/>
<rect x="20.05" y="481.82" width="3.00" height="0.6" fill="#f39aa0" opacity="0.19"/>
<rect x="20.05" y="495.12" width="3.00" height="0.6" fill="#f39aa0" opacity="0.21"/>
<rect x="20.05" y="354.46" width="3.00" height="0.6" fill="#f39aa0" opacity="0.19"/>
<rect x="20.05" y="348.16" width="3.00" height="0.6" fill="#f39aa0" opacity="0.29"/>
<rect x="20.05" y="523.86" width="3.00" height="0.6" fill="#f39aa0" opacity="0.17"/>
<rect x="20.05" y="399.26" width="3.00" height="0.6" fill="#f39aa0" opacity="0.25"/>
<rect x="20.05" y="378.64" width="3.00" height="0.6" fill="#f39aa0" opacity="0.14"/>
<rect x="20.05" y="375.65" width="3.00" height="0.6" fill="#f39aa0" opacity="0.17"/>
<rect x="20.05" y="461.18" width="3.00" height="0.6" fill="#f39aa0" opacity="0.29"/>
<rect x="20.05" y="380.00" width="3.00" height="0.6" fill="#f39aa0" opacity="0.29"/>
<rect x="20.05" y="447.33" width="3.00" height="0.6" fill="#f39aa0" opacity="0.28"/>
<rect x="20.05" y="498.64" width="3.00" height="0.6" fill="#f39aa0" opacity="0.13"/>
<rect x="20.05" y="465.53" width="3.00" height="0.6" fill="#f39aa0" opacity="0.12"/>
<rect x="20.05" y="339.90" width="3.00" height="0.6" fill="#f39aa0" opacity="0.18"/>
<rect x="20.05" y="489.94" width="3.00" height="0.6" fill="#f39aa0" opacity="0.21"/>
<rect x="20.05" y="376.44" width="3.00" height="0.6" fill="#f39aa0" opacity="0.27"/>
<rect x="20.05" y="517.35" width="3.00" height="0.6" fill="#f39aa0" opacity="0.15"/>
<rect x="20.05" y="426.38" width="3.00" height="0.6" fill="#f39aa0" opacity="0.23"/>
<rect x="20.05" y="515.12" width="3.00" height="0.6" fill="#f39aa0" opacity="0.13"/>
<rect x="20.05" y="447.04" width="3.00" height="0.6" fill="#f39aa0" opacity="0.29"/>
<circle cx="25.00" cy="335.50" r="0.65" fill="#2e92c2"/>
<circle cx="25.00" cy="339.00" r="0.65" fill="#2e92c2"/>
<rect x="24.50" y="340.50" width="1.0" height="4.60" fill="#2e92c2" opacity="0.4"/>
<rect x="24.45" y="340.55" width="1.1" height="0.9" fill="#2e92c2" opacity="0.8"/>
<rect x="24.45" y="342.35" width="1.1" height="0.9" fill="#2e92c2" opacity="0.8"/>
<rect x="24.45" y="344.15" width="1.1" height="0.9" fill="#2e92c2" opacity="0.8"/>
<rect x="24.50" y="346.00" width="1.0" height="6.50" fill="#2e92c2" opacity="0.4"/>
<rect x="24.45" y="346.05" width="1.1" height="0.9" fill="#2e92c2" opacity="0.8"/>
<rect x="24.45" y="347.88" width="1.1" height="0.9" fill="#2e92c2" opacity="0.8"/>
<rect x="24.45" y="349.72" width="1.1" height="0.9" fill="#2e92c2" opacity="0.8"/>
<rect x="24.45" y="351.55" width="1.1" height="0.9" fill="#2e92c2" opacity="0.8"/>
<circle cx="25.00" cy="360.00" r="0.65" fill="#2e92c2"/>
<rect x="24.50" y="367.00" width="1.0" height="2.50" fill="#2e92c2" opacity="0.4"/>
<rect x="24.45" y="367.05" width="1.1" height="0.9" fill="#2e92c2" opacity="0.8"/>
<rect x="24.45" y="367.80" width="1.1" height="0.9" fill="#2e92c2" opacity="0.8"/>
<rect x="24.45" y="368.55" width="1.1" height="0.9" fill="#2e92c2" opacity="0.8"/>
<circle cx="25.00" cy="379.00" r="0.65" fill="#2e92c2"/>
<circle cx="25.00" cy="393.00" r="0.65" fill="#2e92c2"/>
<circle cx="25.00" cy="395.00" r="0.65" fill="#2e92c2"/>
<circle cx="25.00" cy="405.50" r="0.65" fill="#2e92c2"/>
<circle cx="25.00" cy="408.50" r="0.65" fill="#2e92c2"/>
<circle cx="25.00" cy="411.50" r="0.65" fill="#2e92c2"/>
<circle cx="25.00" cy="414.50" r="0.65" fill="#2e92c2"/>
<circle cx="25.00" cy="417.50" r="0.65" fill="#2e92c2"/>
<circle cx="25.00" cy="420.50" r="0.65" fill="#2e92c2"/>
<circle cx="25.00" cy="423.50" r="0.65" fill="#2e92c2"/>
<rect x="24.50" y="425.50" width="1.0" height="46.00" fill="#2e92c2" opacity="0.4"/>
<rect x="24.45" y="425.55" width="1.1" height="0.9" fill="#2e92c2" opacity="0.8"/>
<rect x="24.45" y="427.35" width="1.1" height="0.9" fill="#2e92c2" opacity="0.8"/>
<rect x="24.45" y="429.15" width="1.1" height="0.9" fill="#2e92c2" opacity="0.8"/>
<rect x="24.45" y="430.95" width="1.1" height="0.9" fill="#2e92c2" opacity="0.8"/>
<rect x="24.45" y="432.75" width="1.1" height="0.9" fill="#2e92c2" opacity="0.8"/>
<rect x="24.45" y="434.55" width="1.1" height="0.9" fill="#2e92c2" opacity="0.8"/>
<rect x="24.45" y="436.35" width="1.1" height="0.9" fill="#2e92c2" opacity="0.8"/>
<rect x="24.45" y="438.15" width="1.1" height="0.9" fill="#2e92c2" opacity="0.8"/>
<rect x="24.45" y="439.95" width="1.1" height="0.9" fill="#2e92c2" opacity="0.8"/>
<rect x="24.45" y="441.75" width="1.1" height="0.9" fill="#2e92c2" opacity="0.8"/>
<rect x="24.45" y="443.55" width="1.1" height="0.9" fill="#2e92c2" opacity="0.8"/>
<rect x="24.45" y="445.35" width="1.1" height="0.9" fill="#2e92c2" opacity="0.8"/>
<rect x="24.45" y="447.15" width="1.1" height="0.9" fill="#2e92c2" opacity="0.8"/>
<rect x="24.45" y="448.95" width="1.1" height="0.9" fill="#2e92c2" opacity="0.8"/>
<rect x="24.45" y="450.75" width="1.1" height="0.9" fill="#2e92c2" opacity="0.8"/>
<rect x="24.45" y="452.55" width="1.1" height="0.9" fill="#2e92c2" opacity="0.8"/>
<rect x="24.45" y="454.35" width="1.1" height="0.9" fill="#2e92c2" opacity="0.8"/>
<rect x="24.45" y="456.15" width="1.1" height="0.9" fill="#2e92c2" opacity="0.8"/>
<rect x="24.45" y="457.95" width="1.1" height="0.9" fill="#2e92c2" opacity="0.8"/>
<rect x="24.45" y="459.75" width="1.1" height="0.9" fill="#2e92c2" opacity="0.8"/>
<rect x="24.45" y="461.55" width="1.1" height="0.9" fill="#2e92c2" opacity="0.8"/>
<rect x="24.45" y="463.35" width="1.1" height="0.9" fill="#2e92c2" opacity="0.8"/>
<rect x="24.45" y="465.15" width="1.1" height="0.9" fill="#2e92c2" opacity="0.8"/>
<rect x="24.45" y="466.95" width="1.1" height="0.9" fill="#2e92c2" opacity="0.8"/>
<rect x="24.45" y="468.75" width="1.1" height="0.9" fill="#2e92c2" opacity="0.8"/>
<rect x="24.45" y="470.55" width="1.1" height="0.9" fill="#2e92c2" opacity="0.8"/>
<circle cx="25.00" cy="484.70" r="0.65" fill="#2e92c2"/>
<circle cx="25.00" cy="495.00" r="0.65" fill="#2e92c2"/>
<circle cx="25.00" cy="502.00" r="0.65" fill="#2e92c2"/>
<circle cx="25.00" cy="512.00" r="0.65" fill="#2e92c2"/>
<circle cx="25.00" cy="520.50" r="0.65" fill="#2e92c2"/>
<circle cx="25.00" cy="527.00" r="0.65" fill="#2e92c2"/>
<circle cx="25.00" cy="533.00" r="0.65" fill="#2e92c2"/>
<text x="21.55" y="542.60" font-size="4.4" text-anchor="middle" fill="#333" class="ns">1</text>
<path d="M28.95,342.30 A1.90,1.90 0 0 1 32.75,342.30 L32.75,413.90 L31.15,416.50 L32.75,419.10 L32.75,535.30 A1.90,1.90 0 0 1 28.95,535.30 L28.95,419.10 L30.55,416.50 L28.95,413.90 Z" fill="#fdf9f9" stroke="#7a7a7a" stroke-width="0.55"/>
<path d="M29.45,342.60 A1.40,1.40 0 0 1 32.25,342.60" fill="none" stroke="#ee4c55" stroke-width="1.1" opacity="0.9"/>
<path d="M29.45,535.00 A1.40,1.40 0 0 0 32.25,535.00" fill="none" stroke="#ee4c55" stroke-width="1.1" opacity="0.9"/>
<rect x="29.30" y="347.60" width="3.10" height="0.80" fill="#ee4c55" opacity="0.4"/>
<rect x="29.30" y="411.50" width="3.10" height="3.00" fill="#ee4c55" opacity="0.6"/>
<rect x="29.30" y="525.50" width="3.10" height="1.00" fill="#ee4c55" opacity="0.8"/>
<rect x="29.35" y="454.28" width="3.00" height="0.6" fill="#f39aa0" opacity="0.14"/>
<rect x="29.35" y="527.57" width="3.00" height="0.6" fill="#f39aa0" opacity="0.28"/>
<rect x="29.35" y="432.53" width="3.00" height="0.6" fill="#f39aa0" opacity="0.23"/>
<rect x="29.35" y="384.33" width="3.00" height="0.6" fill="#f39aa0" opacity="0.14"/>
<rect x="29.35" y="398.45" width="3.00" height="0.6" fill="#f39aa0" opacity="0.24"/>
<rect x="29.35" y="383.92" width="3.00" height="0.6" fill="#f39aa0" opacity="0.29"/>
<rect x="29.35" y="356.82" width="3.00" height="0.6" fill="#f39aa0" opacity="0.14"/>
<rect x="29.35" y="360.36" width="3.00" height="0.6" fill="#f39aa0" opacity="0.25"/>
<rect x="29.35" y="413.33" width="3.00" height="0.6" fill="#f39aa0" opacity="0.19"/>
<rect x="29.35" y="405.61" width="3.00" height="0.6" fill="#f39aa0" opacity="0.23"/>
<rect x="29.35" y="420.46" width="3.00" height="0.6" fill="#f39aa0" opacity="0.14"/>
<rect x="29.35" y="425.47" width="3.00" height="0.6" fill="#f39aa0" opacity="0.16"/>
<rect x="29.35" y="364.54" width="3.00" height="0.6" fill="#f39aa0" opacity="0.26"/>
<rect x="29.35" y="473.17" width="3.00" height="0.6" fill="#f39aa0" opacity="0.23"/>
<rect x="29.35" y="511.77" width="3.00" height="0.6" fill="#f39aa0" opacity="0.18"/>
<rect x="29.35" y="415.77" width="3.00" height="0.6" fill="#f39aa0" opacity="0.18"/>
<rect x="29.35" y="420.59" width="3.00" height="0.6" fill="#f39aa0" opacity="0.23"/>
<rect x="29.35" y="344.64" width="3.00" height="0.6" fill="#f39aa0" opacity="0.19"/>
<rect x="29.35" y="445.49" width="3.00" height="0.6" fill="#f39aa0" opacity="0.17"/>
<rect x="29.35" y="347.57" width="3.00" height="0.6" fill="#f39aa0" opacity="0.24"/>
<rect x="29.35" y="345.20" width="3.00" height="0.6" fill="#f39aa0" opacity="0.21"/>
<circle cx="34.20" cy="341.90" r="0.65" fill="#2e92c2"/>
<circle cx="34.20" cy="348.30" r="0.65" fill="#2e92c2"/>
<circle cx="34.20" cy="367.50" r="0.65" fill="#2e92c2"/>
<circle cx="34.20" cy="369.30" r="0.65" fill="#2e92c2"/>
<circle cx="34.20" cy="381.20" r="0.65" fill="#2e92c2"/>
<circle cx="34.20" cy="399.50" r="0.65" fill="#2e92c2"/>
<rect x="33.70" y="399.50" width="1.0" height="22.40" fill="#2e92c2" opacity="0.4"/>
<rect x="33.65" y="399.55" width="1.1" height="0.9" fill="#2e92c2" opacity="0.8"/>
<rect x="33.65" y="401.50" width="1.1" height="0.9" fill="#2e92c2" opacity="0.8"/>
<rect x="33.65" y="403.44" width="1.1" height="0.9" fill="#2e92c2" opacity="0.8"/>
<rect x="33.65" y="405.39" width="1.1" height="0.9" fill="#2e92c2" opacity="0.8"/>
<rect x="33.65" y="407.33" width="1.1" height="0.9" fill="#2e92c2" opacity="0.8"/>
<rect x="33.65" y="409.28" width="1.1" height="0.9" fill="#2e92c2" opacity="0.8"/>
<rect x="33.65" y="411.22" width="1.1" height="0.9" fill="#2e92c2" opacity="0.8"/>
<rect x="33.65" y="413.17" width="1.1" height="0.9" fill="#2e92c2" opacity="0.8"/>
<rect x="33.65" y="415.11" width="1.1" height="0.9" fill="#2e92c2" opacity="0.8"/>
<rect x="33.65" y="417.06" width="1.1" height="0.9" fill="#2e92c2" opacity="0.8"/>
<rect x="33.65" y="419.00" width="1.1" height="0.9" fill="#2e92c2" opacity="0.8"/>
<rect x="33.65" y="420.95" width="1.1" height="0.9" fill="#2e92c2" opacity="0.8"/>
<circle cx="34.20" cy="430.40" r="0.65" fill="#2e92c2"/>
<circle cx="34.20" cy="462.70" r="0.65" fill="#2e92c2"/>
<circle cx="34.20" cy="533.00" r="0.65" fill="#2e92c2"/>
<circle cx="34.20" cy="535.00" r="0.65" fill="#2e92c2"/>
<text x="30.85" y="542.60" font-size="4.4" text-anchor="middle" fill="#333" class="ns">2</text>
<path d="M38.45,375.80 A1.90,1.90 0 0 1 42.25,375.80 L42.25,446.00 L40.65,448.60 L42.25,451.20 L42.25,535.30 A1.90,1.90 0 0 1 38.45,535.30 L38.45,451.20 L40.05,448.60 L38.45,446.00 Z" fill="#fdf9f9" stroke="#7a7a7a" stroke-width="0.55"/>
<path d="M38.95,535.00 A1.40,1.40 0 0 0 41.75,535.00" fill="none" stroke="#ee4c55" stroke-width="1.1" opacity="0.9"/>
<rect x="38.80" y="409.60" width="3.10" height="0.80" fill="#ee4c55" opacity="0.3"/>
<rect x="38.85" y="400.21" width="3.00" height="0.6" fill="#f39aa0" opacity="0.22"/>
<rect x="38.85" y="403.59" width="3.00" height="0.6" fill="#f39aa0" opacity="0.24"/>
<rect x="38.85" y="472.51" width="3.00" height="0.6" fill="#f39aa0" opacity="0.18"/>
<rect x="38.85" y="474.03" width="3.00" height="0.6" fill="#f39aa0" opacity="0.21"/>
<rect x="38.85" y="383.70" width="3.00" height="0.6" fill="#f39aa0" opacity="0.21"/>
<rect x="38.85" y="474.37" width="3.00" height="0.6" fill="#f39aa0" opacity="0.20"/>
<rect x="38.85" y="515.24" width="3.00" height="0.6" fill="#f39aa0" opacity="0.25"/>
<rect x="38.85" y="436.22" width="3.00" height="0.6" fill="#f39aa0" opacity="0.15"/>
<rect x="38.85" y="397.04" width="3.00" height="0.6" fill="#f39aa0" opacity="0.26"/>
<rect x="38.85" y="485.40" width="3.00" height="0.6" fill="#f39aa0" opacity="0.22"/>
<rect x="38.85" y="446.38" width="3.00" height="0.6" fill="#f39aa0" opacity="0.20"/>
<rect x="38.85" y="411.82" width="3.00" height="0.6" fill="#f39aa0" opacity="0.21"/>
<rect x="38.85" y="399.76" width="3.00" height="0.6" fill="#f39aa0" opacity="0.22"/>
<rect x="38.85" y="476.03" width="3.00" height="0.6" fill="#f39aa0" opacity="0.23"/>
<rect x="38.85" y="415.66" width="3.00" height="0.6" fill="#f39aa0" opacity="0.12"/>
<rect x="38.85" y="429.28" width="3.00" height="0.6" fill="#f39aa0" opacity="0.24"/>
<rect x="38.85" y="457.11" width="3.00" height="0.6" fill="#f39aa0" opacity="0.25"/>
<rect x="38.85" y="444.70" width="3.00" height="0.6" fill="#f39aa0" opacity="0.18"/>
<circle cx="43.30" cy="375.70" r="0.65" fill="#2e92c2"/>
<circle cx="43.30" cy="405.00" r="0.65" fill="#2e92c2"/>
<circle cx="43.30" cy="412.30" r="0.65" fill="#2e92c2"/>
<rect x="42.80" y="440.30" width="1.0" height="18.20" fill="#2e92c2" opacity="0.4"/>
<rect x="42.75" y="440.35" width="1.1" height="0.9" fill="#2e92c2" opacity="0.8"/>
<rect x="42.75" y="442.26" width="1.1" height="0.9" fill="#2e92c2" opacity="0.8"/>
<rect x="42.75" y="444.17" width="1.1" height="0.9" fill="#2e92c2" opacity="0.8"/>
<rect x="42.75" y="446.08" width="1.1" height="0.9" fill="#2e92c2" opacity="0.8"/>
<rect x="42.75" y="447.99" width="1.1" height="0.9" fill="#2e92c2" opacity="0.8"/>
<rect x="42.75" y="449.91" width="1.1" height="0.9" fill="#2e92c2" opacity="0.8"/>
<rect x="42.75" y="451.82" width="1.1" height="0.9" fill="#2e92c2" opacity="0.8"/>
<rect x="42.75" y="453.73" width="1.1" height="0.9" fill="#2e92c2" opacity="0.8"/>
<rect x="42.75" y="455.64" width="1.1" height="0.9" fill="#2e92c2" opacity="0.8"/>
<rect x="42.75" y="457.55" width="1.1" height="0.9" fill="#2e92c2" opacity="0.8"/>
<circle cx="43.30" cy="475.40" r="0.65" fill="#2e92c2"/>
<circle cx="43.30" cy="481.00" r="0.65" fill="#2e92c2"/>
<circle cx="43.30" cy="519.30" r="0.65" fill="#2e92c2"/>
<rect x="42.80" y="528.00" width="1.0" height="10.50" fill="#2e92c2" opacity="0.4"/>
<rect x="42.75" y="528.05" width="1.1" height="0.9" fill="#2e92c2" opacity="0.8"/>
<rect x="42.75" y="529.95" width="1.1" height="0.9" fill="#2e92c2" opacity="0.8"/>
<rect x="42.75" y="531.85" width="1.1" height="0.9" fill="#2e92c2" opacity="0.8"/>
<rect x="42.75" y="533.75" width="1.1" height="0.9" fill="#2e92c2" opacity="0.8"/>
<rect x="42.75" y="535.65" width="1.1" height="0.9" fill="#2e92c2" opacity="0.8"/>
<rect x="42.75" y="537.55" width="1.1" height="0.9" fill="#2e92c2" opacity="0.8"/>
<text x="40.35" y="542.60" font-size="4.4" text-anchor="middle" fill="#333" class="ns">3</text>
<path d="M47.75,382.20 A1.90,1.90 0 0 1 51.55,382.20 L51.55,419.70 L49.95,422.30 L51.55,424.90 L51.55,535.30 A1.90,1.90 0 0 1 47.75,535.30 L47.75,424.90 L49.35,422.30 L47.75,419.70 Z" fill="#fdf9f9" stroke="#7a7a7a" stroke-width="0.55"/>
<path d="M48.25,382.50 A1.40,1.40 0 0 1 51.05,382.50" fill="none" stroke="#ee4c55" stroke-width="1.1" opacity="0.9"/>
<path d="M48.25,535.00 A1.40,1.40 0 0 0 51.05,535.00" fill="none" stroke="#ee4c55" stroke-width="1.1" opacity="0.9"/>
<rect x="48.10" y="469.60" width="3.10" height="0.80" fill="#ee4c55" opacity="0.4"/>
<rect x="48.10" y="489.60" width="3.10" height="0.80" fill="#ee4c55" opacity="0.4"/>
<rect x="48.15" y="531.04" width="3.00" height="0.6" fill="#f39aa0" opacity="0.19"/>
<rect x="48.15" y="491.77" width="3.00" height="0.6" fill="#f39aa0" opacity="0.25"/>
<rect x="48.15" y="415.73" width="3.00" height="0.6" fill="#f39aa0" opacity="0.12"/>
<rect x="48.15" y="474.25" width="3.00" height="0.6" fill="#f39aa0" opacity="0.12"/>
<rect x="48.15" y="440.98" width="3.00" height="0.6" fill="#f39aa0" opacity="0.28"/>
<rect x="48.15" y="514.91" width="3.00" height="0.6" fill="#f39aa0" opacity="0.12"/>
<rect x="48.15" y="395.71" width="3.00" height="0.6" fill="#f39aa0" opacity="0.14"/>
<rect x="48.15" y="508.26" width="3.00" height="0.6" fill="#f39aa0" opacity="0.10"/>
<rect x="48.15" y="417.28" width="3.00" height="0.6" fill="#f39aa0" opacity="0.12"/>
<rect x="48.15" y="402.56" width="3.00" height="0.6" fill="#f39aa0" opacity="0.20"/>
<rect x="48.15" y="410.98" width="3.00" height="0.6" fill="#f39aa0" opacity="0.18"/>
<rect x="48.15" y="493.94" width="3.00" height="0.6" fill="#f39aa0" opacity="0.24"/>
<rect x="48.15" y="445.93" width="3.00" height="0.6" fill="#f39aa0" opacity="0.26"/>
<rect x="48.15" y="469.69" width="3.00" height="0.6" fill="#f39aa0" opacity="0.27"/>
<rect x="48.15" y="420.86" width="3.00" height="0.6" fill="#f39aa0" opacity="0.17"/>
<rect x="48.15" y="470.87" width="3.00" height="0.6" fill="#f39aa0" opacity="0.29"/>
<rect x="48.15" y="476.61" width="3.00" height="0.6" fill="#f39aa0" opacity="0.19"/>
<rect x="52.90" y="378.90" width="1.0" height="13.60" fill="#2e92c2" opacity="0.4"/>
<rect x="52.85" y="378.95" width="1.1" height="0.9" fill="#2e92c2" opacity="0.8"/>
<rect x="52.85" y="380.75" width="1.1" height="0.9" fill="#2e92c2" opacity="0.8"/>
<rect x="52.85" y="382.55" width="1.1" height="0.9" fill="#2e92c2" opacity="0.8"/>
<rect x="52.85" y="384.35" width="1.1" height="0.9" fill="#2e92c2" opacity="0.8"/>
<rect x="52.85" y="386.15" width="1.1" height="0.9" fill="#2e92c2" opacity="0.8"/>
<rect x="52.85" y="387.95" width="1.1" height="0.9" fill="#2e92c2" opacity="0.8"/>
<rect x="52.85" y="389.75" width="1.1" height="0.9" fill="#2e92c2" opacity="0.8"/>
<rect x="52.85" y="391.55" width="1.1" height="0.9" fill="#2e92c2" opacity="0.8"/>
<rect x="52.90" y="414.50" width="1.0" height="15.00" fill="#2e92c2" opacity="0.4"/>
<rect x="52.85" y="414.55" width="1.1" height="0.9" fill="#2e92c2" opacity="0.8"/>
<rect x="52.85" y="416.55" width="1.1" height="0.9" fill="#2e92c2" opacity="0.8"/>
<rect x="52.85" y="418.55" width="1.1" height="0.9" fill="#2e92c2" opacity="0.8"/>
<rect x="52.85" y="420.55" width="1.1" height="0.9" fill="#2e92c2" opacity="0.8"/>
<rect x="52.85" y="422.55" width="1.1" height="0.9" fill="#2e92c2" opacity="0.8"/>
<rect x="52.85" y="424.55" width="1.1" height="0.9" fill="#2e92c2" opacity="0.8"/>
<rect x="52.85" y="426.55" width="1.1" height="0.9" fill="#2e92c2" opacity="0.8"/>
<rect x="52.85" y="428.55" width="1.1" height="0.9" fill="#2e92c2" opacity="0.8"/>
<circle cx="53.40" cy="454.60" r="0.65" fill="#2e92c2"/>
<circle cx="53.40" cy="475.40" r="0.65" fill="#2e92c2"/>
<circle cx="53.40" cy="491.60" r="0.65" fill="#2e92c2"/>
<rect x="52.90" y="524.50" width="1.0" height="14.00" fill="#2e92c2" opacity="0.4"/>
<rect x="52.85" y="524.55" width="1.1" height="0.9" fill="#2e92c2" opacity="0.8"/>
<rect x="52.85" y="526.41" width="1.1" height="0.9" fill="#2e92c2" opacity="0.8"/>
<rect x="52.85" y="528.26" width="1.1" height="0.9" fill="#2e92c2" opacity="0.8"/>
<rect x="52.85" y="530.12" width="1.1" height="0.9" fill="#2e92c2" opacity="0.8"/>
<rect x="52.85" y="531.98" width="1.1" height="0.9" fill="#2e92c2" opacity="0.8"/>
<rect x="52.85" y="533.84" width="1.1" height="0.9" fill="#2e92c2" opacity="0.8"/>
<rect x="52.85" y="535.69" width="1.1" height="0.9" fill="#2e92c2" opacity="0.8"/>
<rect x="52.85" y="537.55" width="1.1" height="0.9" fill="#2e92c2" opacity="0.8"/>
<text x="49.65" y="542.60" font-size="4.4" text-anchor="middle" fill="#333" class="ns">4</text>
<path d="M57.35,391.30 A1.90,1.90 0 0 1 61.15,391.30 L61.15,425.90 L59.55,428.50 L61.15,431.10 L61.15,535.30 A1.90,1.90 0 0 1 57.35,535.30 L57.35,431.10 L58.95,428.50 L57.35,425.90 Z" fill="#fdf9f9" stroke="#7a7a7a" stroke-width="0.55"/>
<path d="M57.85,391.60 A1.40,1.40 0 0 1 60.65,391.60" fill="none" stroke="#ee4c55" stroke-width="1.1" opacity="0.9"/>
<path d="M57.85,535.00 A1.40,1.40 0 0 0 60.65,535.00" fill="none" stroke="#ee4c55" stroke-width="1.1" opacity="0.9"/>
<rect x="57.70" y="445.60" width="3.10" height="0.80" fill="#ee4c55" opacity="0.5"/>
<rect x="57.70" y="524.60" width="3.10" height="0.80" fill="#ee4c55" opacity="0.5"/>
<rect x="57.75" y="528.52" width="3.00" height="0.6" fill="#f39aa0" opacity="0.27"/>
<rect x="57.75" y="496.18" width="3.00" height="0.6" fill="#f39aa0" opacity="0.15"/>
<rect x="57.75" y="439.29" width="3.00" height="0.6" fill="#f39aa0" opacity="0.24"/>
<rect x="57.75" y="506.79" width="3.00" height="0.6" fill="#f39aa0" opacity="0.10"/>
<rect x="57.75" y="416.04" width="3.00" height="0.6" fill="#f39aa0" opacity="0.28"/>
<rect x="57.75" y="409.15" width="3.00" height="0.6" fill="#f39aa0" opacity="0.23"/>
<rect x="57.75" y="439.15" width="3.00" height="0.6" fill="#f39aa0" opacity="0.23"/>
<rect x="57.75" y="514.67" width="3.00" height="0.6" fill="#f39aa0" opacity="0.22"/>
<rect x="57.75" y="447.86" width="3.00" height="0.6" fill="#f39aa0" opacity="0.16"/>
<rect x="57.75" y="480.52" width="3.00" height="0.6" fill="#f39aa0" opacity="0.23"/>
<rect x="57.75" y="450.48" width="3.00" height="0.6" fill="#f39aa0" opacity="0.19"/>
<rect x="57.75" y="468.45" width="3.00" height="0.6" fill="#f39aa0" opacity="0.15"/>
<rect x="57.75" y="417.88" width="3.00" height="0.6" fill="#f39aa0" opacity="0.21"/>
<rect x="57.75" y="406.62" width="3.00" height="0.6" fill="#f39aa0" opacity="0.22"/>
<rect x="57.75" y="506.09" width="3.00" height="0.6" fill="#f39aa0" opacity="0.27"/>
<rect x="57.75" y="428.17" width="3.00" height="0.6" fill="#f39aa0" opacity="0.18"/>
<rect x="62.40" y="387.10" width="1.0" height="6.40" fill="#2e92c2" opacity="0.4"/>
<rect x="62.35" y="387.15" width="1.1" height="0.9" fill="#2e92c2" opacity="0.8"/>
<rect x="62.35" y="389.85" width="1.1" height="0.9" fill="#2e92c2" opacity="0.8"/>
<rect x="62.35" y="392.55" width="1.1" height="0.9" fill="#2e92c2" opacity="0.8"/>
<circle cx="62.90" cy="399.50" r="0.65" fill="#2e92c2"/>
<circle cx="62.90" cy="403.00" r="0.65" fill="#2e92c2"/>
<rect x="62.40" y="419.50" width="1.0" height="12.50" fill="#2e92c2" opacity="0.4"/>
<rect x="62.35" y="419.55" width="1.1" height="0.9" fill="#2e92c2" opacity="0.8"/>
<rect x="62.35" y="421.47" width="1.1" height="0.9" fill="#2e92c2" opacity="0.8"/>
<rect x="62.35" y="423.38" width="1.1" height="0.9" fill="#2e92c2" opacity="0.8"/>
<rect x="62.35" y="425.30" width="1.1" height="0.9" fill="#2e92c2" opacity="0.8"/>
<rect x="62.35" y="427.22" width="1.1" height="0.9" fill="#2e92c2" opacity="0.8"/>
<rect x="62.35" y="429.13" width="1.1" height="0.9" fill="#2e92c2" opacity="0.8"/>
<rect x="62.35" y="431.05" width="1.1" height="0.9" fill="#2e92c2" opacity="0.8"/>
<rect x="62.40" y="440.30" width="1.0" height="12.50" fill="#2e92c2" opacity="0.4"/>
<rect x="62.35" y="440.35" width="1.1" height="0.9" fill="#2e92c2" opacity="0.8"/>
<rect x="62.35" y="442.27" width="1.1" height="0.9" fill="#2e92c2" opacity="0.8"/>
<rect x="62.35" y="444.18" width="1.1" height="0.9" fill="#2e92c2" opacity="0.8"/>
<rect x="62.35" y="446.10" width="1.1" height="0.9" fill="#2e92c2" opacity="0.8"/>
<rect x="62.35" y="448.02" width="1.1" height="0.9" fill="#2e92c2" opacity="0.8"/>
<rect x="62.35" y="449.93" width="1.1" height="0.9" fill="#2e92c2" opacity="0.8"/>
<rect x="62.35" y="451.85" width="1.1" height="0.9" fill="#2e92c2" opacity="0.8"/>
<circle cx="62.90" cy="479.00" r="0.65" fill="#2e92c2"/>
<circle cx="62.90" cy="505.50" r="0.65" fill="#2e92c2"/>
<circle cx="62.90" cy="514.70" r="0.65" fill="#2e92c2"/>
<rect x="62.40" y="525.50" width="1.0" height="8.00" fill="#2e92c2" opacity="0.4"/>
<rect x="62.35" y="525.55" width="1.1" height="0.9" fill="#2e92c2" opacity="0.8"/>
<rect x="62.35" y="527.88" width="1.1" height="0.9" fill="#2e92c2" opacity="0.8"/>
<rect x="62.35" y="530.22" width="1.1" height="0.9" fill="#2e92c2" opacity="0.8"/>
<rect x="62.35" y="532.55" width="1.1" height="0.9" fill="#2e92c2" opacity="0.8"/>
<text x="59.25" y="542.60" font-size="4.4" text-anchor="middle" fill="#333" class="ns">5</text>
<path d="M66.75,399.20 A1.90,1.90 0 0 1 70.55,399.20 L70.55,442.80 L68.95,445.40 L70.55,448.00 L70.55,535.30 A1.90,1.90 0 0 1 66.75,535.30 L66.75,448.00 L68.35,445.40 L66.75,442.80 Z" fill="#fdf9f9" stroke="#7a7a7a" stroke-width="0.55"/>
<path d="M67.25,535.00 A1.40,1.40 0 0 0 70.05,535.00" fill="none" stroke="#ee4c55" stroke-width="1.1" opacity="0.9"/>
<rect x="67.10" y="417.60" width="3.10" height="0.80" fill="#ee4c55" opacity="0.4"/>
<rect x="67.10" y="424.60" width="3.10" height="0.80" fill="#ee4c55" opacity="0.4"/>
<rect x="67.10" y="529.60" width="3.10" height="0.80" fill="#ee4c55" opacity="0.5"/>
<rect x="67.15" y="517.88" width="3.00" height="0.6" fill="#f39aa0" opacity="0.17"/>
<rect x="67.15" y="506.18" width="3.00" height="0.6" fill="#f39aa0" opacity="0.29"/>
<rect x="67.15" y="442.11" width="3.00" height="0.6" fill="#f39aa0" opacity="0.25"/>
<rect x="67.15" y="445.12" width="3.00" height="0.6" fill="#f39aa0" opacity="0.13"/>
<rect x="67.15" y="446.94" width="3.00" height="0.6" fill="#f39aa0" opacity="0.25"/>
<rect x="67.15" y="420.06" width="3.00" height="0.6" fill="#f39aa0" opacity="0.23"/>
<rect x="67.15" y="447.33" width="3.00" height="0.6" fill="#f39aa0" opacity="0.13"/>
<rect x="67.15" y="457.89" width="3.00" height="0.6" fill="#f39aa0" opacity="0.18"/>
<rect x="67.15" y="461.94" width="3.00" height="0.6" fill="#f39aa0" opacity="0.28"/>
<rect x="67.15" y="523.54" width="3.00" height="0.6" fill="#f39aa0" opacity="0.15"/>
<rect x="67.15" y="532.57" width="3.00" height="0.6" fill="#f39aa0" opacity="0.22"/>
<rect x="67.15" y="528.81" width="3.00" height="0.6" fill="#f39aa0" opacity="0.26"/>
<rect x="67.15" y="470.70" width="3.00" height="0.6" fill="#f39aa0" opacity="0.15"/>
<rect x="67.15" y="524.75" width="3.00" height="0.6" fill="#f39aa0" opacity="0.30"/>
<rect x="67.15" y="483.96" width="3.00" height="0.6" fill="#f39aa0" opacity="0.12"/>
<circle cx="72.00" cy="397.60" r="0.65" fill="#2e92c2"/>
<circle cx="72.00" cy="412.30" r="0.65" fill="#2e92c2"/>
<rect x="71.50" y="415.50" width="1.0" height="14.60" fill="#2e92c2" opacity="0.4"/>
<rect x="71.45" y="415.55" width="1.1" height="0.9" fill="#2e92c2" opacity="0.8"/>
<rect x="71.45" y="417.49" width="1.1" height="0.9" fill="#2e92c2" opacity="0.8"/>
<rect x="71.45" y="419.44" width="1.1" height="0.9" fill="#2e92c2" opacity="0.8"/>
<rect x="71.45" y="421.38" width="1.1" height="0.9" fill="#2e92c2" opacity="0.8"/>
<rect x="71.45" y="423.32" width="1.1" height="0.9" fill="#2e92c2" opacity="0.8"/>
<rect x="71.45" y="425.26" width="1.1" height="0.9" fill="#2e92c2" opacity="0.8"/>
<rect x="71.45" y="427.21" width="1.1" height="0.9" fill="#2e92c2" opacity="0.8"/>
<rect x="71.45" y="429.15" width="1.1" height="0.9" fill="#2e92c2" opacity="0.8"/>
<rect x="71.50" y="442.50" width="1.0" height="6.00" fill="#2e92c2" opacity="0.4"/>
<rect x="71.45" y="442.55" width="1.1" height="0.9" fill="#2e92c2" opacity="0.8"/>
<rect x="71.45" y="445.05" width="1.1" height="0.9" fill="#2e92c2" opacity="0.8"/>
<rect x="71.45" y="447.55" width="1.1" height="0.9" fill="#2e92c2" opacity="0.8"/>
<circle cx="72.00" cy="454.00" r="0.65" fill="#2e92c2"/>
<circle cx="72.00" cy="475.40" r="0.65" fill="#2e92c2"/>
<circle cx="72.00" cy="508.80" r="0.65" fill="#2e92c2"/>
<rect x="71.50" y="521.10" width="1.0" height="17.40" fill="#2e92c2" opacity="0.4"/>
<rect x="71.45" y="521.15" width="1.1" height="0.9" fill="#2e92c2" opacity="0.8"/>
<rect x="71.45" y="522.97" width="1.1" height="0.9" fill="#2e92c2" opacity="0.8"/>
<rect x="71.45" y="524.79" width="1.1" height="0.9" fill="#2e92c2" opacity="0.8"/>
<rect x="71.45" y="526.62" width="1.1" height="0.9" fill="#2e92c2" opacity="0.8"/>
<rect x="71.45" y="528.44" width="1.1" height="0.9" fill="#2e92c2" opacity="0.8"/>
<rect x="71.45" y="530.26" width="1.1" height="0.9" fill="#2e92c2" opacity="0.8"/>
<rect x="71.45" y="532.08" width="1.1" height="0.9" fill="#2e92c2" opacity="0.8"/>
<rect x="71.45" y="533.91" width="1.1" height="0.9" fill="#2e92c2" opacity="0.8"/>
<rect x="71.45" y="535.73" width="1.1" height="0.9" fill="#2e92c2" opacity="0.8"/>
<rect x="71.45" y="537.55" width="1.1" height="0.9" fill="#2e92c2" opacity="0.8"/>
<text x="68.65" y="542.60" font-size="4.4" text-anchor="middle" fill="#333" class="ns">6</text>
<path d="M76.35,408.90 A1.90,1.90 0 0 1 80.15,408.90 L80.15,453.90 L78.55,456.50 L80.15,459.10 L80.15,535.30 A1.90,1.90 0 0 1 76.35,535.30 L76.35,459.10 L77.95,456.50 L76.35,453.90 Z" fill="#fdf9f9" stroke="#7a7a7a" stroke-width="0.55"/>
<path d="M76.85,409.20 A1.40,1.40 0 0 1 79.65,409.20" fill="none" stroke="#ee4c55" stroke-width="1.1" opacity="0.9"/>
<path d="M76.85,535.00 A1.40,1.40 0 0 0 79.65,535.00" fill="none" stroke="#ee4c55" stroke-width="1.1" opacity="0.9"/>
<rect x="76.70" y="453.40" width="3.10" height="1.80" fill="#ee4c55" opacity="0.9"/>
<rect x="76.70" y="529.50" width="3.10" height="1.00" fill="#ee4c55" opacity="0.6"/>
<rect x="76.75" y="498.27" width="3.00" height="0.6" fill="#f39aa0" opacity="0.28"/>
<rect x="76.75" y="412.08" width="3.00" height="0.6" fill="#f39aa0" opacity="0.29"/>
<rect x="76.75" y="511.97" width="3.00" height="0.6" fill="#f39aa0" opacity="0.11"/>
<rect x="76.75" y="510.15" width="3.00" height="0.6" fill="#f39aa0" opacity="0.26"/>
<rect x="76.75" y="433.31" width="3.00" height="0.6" fill="#f39aa0" opacity="0.29"/>
<rect x="76.75" y="455.20" width="3.00" height="0.6" fill="#f39aa0" opacity="0.19"/>
<rect x="76.75" y="491.20" width="3.00" height="0.6" fill="#f39aa0" opacity="0.24"/>
<rect x="76.75" y="502.72" width="3.00" height="0.6" fill="#f39aa0" opacity="0.16"/>
<rect x="76.75" y="470.11" width="3.00" height="0.6" fill="#f39aa0" opacity="0.13"/>
<rect x="76.75" y="444.13" width="3.00" height="0.6" fill="#f39aa0" opacity="0.20"/>
<rect x="76.75" y="419.25" width="3.00" height="0.6" fill="#f39aa0" opacity="0.17"/>
<rect x="76.75" y="511.23" width="3.00" height="0.6" fill="#f39aa0" opacity="0.14"/>
<rect x="76.75" y="463.83" width="3.00" height="0.6" fill="#f39aa0" opacity="0.11"/>
<rect x="76.75" y="501.60" width="3.00" height="0.6" fill="#f39aa0" opacity="0.12"/>
<rect x="81.30" y="405.50" width="1.0" height="6.50" fill="#2e92c2" opacity="0.4"/>
<rect x="81.25" y="405.55" width="1.1" height="0.9" fill="#2e92c2" opacity="0.8"/>
<rect x="81.25" y="407.38" width="1.1" height="0.9" fill="#2e92c2" opacity="0.8"/>
<rect x="81.25" y="409.22" width="1.1" height="0.9" fill="#2e92c2" opacity="0.8"/>
<rect x="81.25" y="411.05" width="1.1" height="0.9" fill="#2e92c2" opacity="0.8"/>
<circle cx="81.80" cy="417.00" r="0.65" fill="#2e92c2"/>
<rect x="81.30" y="443.30" width="1.0" height="32.60" fill="#2e92c2" opacity="0.4"/>
<rect x="81.25" y="443.35" width="1.1" height="0.9" fill="#2e92c2" opacity="0.8"/>
<rect x="81.25" y="445.21" width="1.1" height="0.9" fill="#2e92c2" opacity="0.8"/>
<rect x="81.25" y="447.07" width="1.1" height="0.9" fill="#2e92c2" opacity="0.8"/>
<rect x="81.25" y="448.93" width="1.1" height="0.9" fill="#2e92c2" opacity="0.8"/>
<rect x="81.25" y="450.79" width="1.1" height="0.9" fill="#2e92c2" opacity="0.8"/>
<rect x="81.25" y="452.64" width="1.1" height="0.9" fill="#2e92c2" opacity="0.8"/>
<rect x="81.25" y="454.50" width="1.1" height="0.9" fill="#2e92c2" opacity="0.8"/>
<rect x="81.25" y="456.36" width="1.1" height="0.9" fill="#2e92c2" opacity="0.8"/>
<rect x="81.25" y="458.22" width="1.1" height="0.9" fill="#2e92c2" opacity="0.8"/>
<rect x="81.25" y="460.08" width="1.1" height="0.9" fill="#2e92c2" opacity="0.8"/>
<rect x="81.25" y="461.94" width="1.1" height="0.9" fill="#2e92c2" opacity="0.8"/>
<rect x="81.25" y="463.80" width="1.1" height="0.9" fill="#2e92c2" opacity="0.8"/>
<rect x="81.25" y="465.66" width="1.1" height="0.9" fill="#2e92c2" opacity="0.8"/>
<rect x="81.25" y="467.51" width="1.1" height="0.9" fill="#2e92c2" opacity="0.8"/>
<rect x="81.25" y="469.37" width="1.1" height="0.9" fill="#2e92c2" opacity="0.8"/>
<rect x="81.25" y="471.23" width="1.1" height="0.9" fill="#2e92c2" opacity="0.8"/>
<rect x="81.25" y="473.09" width="1.1" height="0.9" fill="#2e92c2" opacity="0.8"/>
<rect x="81.25" y="474.95" width="1.1" height="0.9" fill="#2e92c2" opacity="0.8"/>
<rect x="81.30" y="487.50" width="1.0" height="7.70" fill="#2e92c2" opacity="0.4"/>
<rect x="81.25" y="487.55" width="1.1" height="0.9" fill="#2e92c2" opacity="0.8"/>
<rect x="81.25" y="489.78" width="1.1" height="0.9" fill="#2e92c2" opacity="0.8"/>
<rect x="81.25" y="492.02" width="1.1" height="0.9" fill="#2e92c2" opacity="0.8"/>
<rect x="81.25" y="494.25" width="1.1" height="0.9" fill="#2e92c2" opacity="0.8"/>
<rect x="81.30" y="515.80" width="1.0" height="9.10" fill="#2e92c2" opacity="0.4"/>
<rect x="81.25" y="515.85" width="1.1" height="0.9" fill="#2e92c2" opacity="0.8"/>
<rect x="81.25" y="517.87" width="1.1" height="0.9" fill="#2e92c2" opacity="0.8"/>
<rect x="81.25" y="519.90" width="1.1" height="0.9" fill="#2e92c2" opacity="0.8"/>
<rect x="81.25" y="521.92" width="1.1" height="0.9" fill="#2e92c2" opacity="0.8"/>
<rect x="81.25" y="523.95" width="1.1" height="0.9" fill="#2e92c2" opacity="0.8"/>
<rect x="81.30" y="532.10" width="1.0" height="6.20" fill="#2e92c2" opacity="0.4"/>
<rect x="81.25" y="532.15" width="1.1" height="0.9" fill="#2e92c2" opacity="0.8"/>
<rect x="81.25" y="534.75" width="1.1" height="0.9" fill="#2e92c2" opacity="0.8"/>
<rect x="81.25" y="537.35" width="1.1" height="0.9" fill="#2e92c2" opacity="0.8"/>
<text x="78.25" y="542.60" font-size="4.4" text-anchor="middle" fill="#333" class="ns">7</text>
<path d="M85.75,420.90 A1.90,1.90 0 0 1 89.55,420.90 L89.55,452.60 L87.95,455.20 L89.55,457.80 L89.55,535.30 A1.90,1.90 0 0 1 85.75,535.30 L85.75,457.80 L87.35,455.20 L85.75,452.60 Z" fill="#fdf9f9" stroke="#7a7a7a" stroke-width="0.55"/>
<path d="M86.25,421.20 A1.40,1.40 0 0 1 89.05,421.20" fill="none" stroke="#ee4c55" stroke-width="1.1" opacity="0.9"/>
<path d="M86.25,535.00 A1.40,1.40 0 0 0 89.05,535.00" fill="none" stroke="#ee4c55" stroke-width="1.1" opacity="0.9"/>
<rect x="86.10" y="439.60" width="3.10" height="0.80" fill="#ee4c55" opacity="0.3"/>
<rect x="86.15" y="449.66" width="3.00" height="0.6" fill="#f39aa0" opacity="0.22"/>
<rect x="86.15" y="531.09" width="3.00" height="0.6" fill="#f39aa0" opacity="0.23"/>
<rect x="86.15" y="476.14" width="3.00" height="0.6" fill="#f39aa0" opacity="0.16"/>
<rect x="86.15" y="437.46" width="3.00" height="0.6" fill="#f39aa0" opacity="0.30"/>
<rect x="86.15" y="506.64" width="3.00" height="0.6" fill="#f39aa0" opacity="0.15"/>
<rect x="86.15" y="488.69" width="3.00" height="0.6" fill="#f39aa0" opacity="0.24"/>
<rect x="86.15" y="523.74" width="3.00" height="0.6" fill="#f39aa0" opacity="0.16"/>
<rect x="86.15" y="457.17" width="3.00" height="0.6" fill="#f39aa0" opacity="0.14"/>
<rect x="86.15" y="488.17" width="3.00" height="0.6" fill="#f39aa0" opacity="0.28"/>
<rect x="86.15" y="504.41" width="3.00" height="0.6" fill="#f39aa0" opacity="0.13"/>
<rect x="86.15" y="463.75" width="3.00" height="0.6" fill="#f39aa0" opacity="0.12"/>
<rect x="86.15" y="440.06" width="3.00" height="0.6" fill="#f39aa0" opacity="0.20"/>
<rect x="86.15" y="439.21" width="3.00" height="0.6" fill="#f39aa0" opacity="0.15"/>
<rect x="90.90" y="418.50" width="1.0" height="14.00" fill="#2e92c2" opacity="0.4"/>
<rect x="90.85" y="418.55" width="1.1" height="0.9" fill="#2e92c2" opacity="0.8"/>
<rect x="90.85" y="420.41" width="1.1" height="0.9" fill="#2e92c2" opacity="0.8"/>
<rect x="90.85" y="422.26" width="1.1" height="0.9" fill="#2e92c2" opacity="0.8"/>
<rect x="90.85" y="424.12" width="1.1" height="0.9" fill="#2e92c2" opacity="0.8"/>
<rect x="90.85" y="425.98" width="1.1" height="0.9" fill="#2e92c2" opacity="0.8"/>
<rect x="90.85" y="427.84" width="1.1" height="0.9" fill="#2e92c2" opacity="0.8"/>
<rect x="90.85" y="429.69" width="1.1" height="0.9" fill="#2e92c2" opacity="0.8"/>
<rect x="90.85" y="431.55" width="1.1" height="0.9" fill="#2e92c2" opacity="0.8"/>
<rect x="90.90" y="452.90" width="1.0" height="7.20" fill="#2e92c2" opacity="0.4"/>
<rect x="90.85" y="452.95" width="1.1" height="0.9" fill="#2e92c2" opacity="0.8"/>
<rect x="90.85" y="455.02" width="1.1" height="0.9" fill="#2e92c2" opacity="0.8"/>
<rect x="90.85" y="457.08" width="1.1" height="0.9" fill="#2e92c2" opacity="0.8"/>
<rect x="90.85" y="459.15" width="1.1" height="0.9" fill="#2e92c2" opacity="0.8"/>
<circle cx="91.40" cy="465.00" r="0.65" fill="#2e92c2"/>
<rect x="90.90" y="471.90" width="1.0" height="5.50" fill="#2e92c2" opacity="0.4"/>
<rect x="90.85" y="471.95" width="1.1" height="0.9" fill="#2e92c2" opacity="0.8"/>
<rect x="90.85" y="474.20" width="1.1" height="0.9" fill="#2e92c2" opacity="0.8"/>
<rect x="90.85" y="476.45" width="1.1" height="0.9" fill="#2e92c2" opacity="0.8"/>
<rect x="90.90" y="483.80" width="1.0" height="10.70" fill="#2e92c2" opacity="0.4"/>
<rect x="90.85" y="483.85" width="1.1" height="0.9" fill="#2e92c2" opacity="0.8"/>
<rect x="90.85" y="485.79" width="1.1" height="0.9" fill="#2e92c2" opacity="0.8"/>
<rect x="90.85" y="487.73" width="1.1" height="0.9" fill="#2e92c2" opacity="0.8"/>
<rect x="90.85" y="489.67" width="1.1" height="0.9" fill="#2e92c2" opacity="0.8"/>
<rect x="90.85" y="491.61" width="1.1" height="0.9" fill="#2e92c2" opacity="0.8"/>
<rect x="90.85" y="493.55" width="1.1" height="0.9" fill="#2e92c2" opacity="0.8"/>
<rect x="90.90" y="531.50" width="1.0" height="6.00" fill="#2e92c2" opacity="0.4"/>
<rect x="90.85" y="531.55" width="1.1" height="0.9" fill="#2e92c2" opacity="0.8"/>
<rect x="90.85" y="534.05" width="1.1" height="0.9" fill="#2e92c2" opacity="0.8"/>
<rect x="90.85" y="536.55" width="1.1" height="0.9" fill="#2e92c2" opacity="0.8"/>
<text x="87.65" y="542.60" font-size="4.4" text-anchor="middle" fill="#333" class="ns">8</text>
<path d="M95.25,417.20 A1.90,1.90 0 0 1 99.05,417.20 L99.05,449.40 L97.45,452.00 L99.05,454.60 L99.05,535.30 A1.90,1.90 0 0 1 95.25,535.30 L95.25,454.60 L96.85,452.00 L95.25,449.40 Z" fill="#fdf9f9" stroke="#7a7a7a" stroke-width="0.55"/>
<path d="M95.75,417.50 A1.40,1.40 0 0 1 98.55,417.50" fill="none" stroke="#ee4c55" stroke-width="1.1" opacity="0.9"/>
<path d="M95.75,535.00 A1.40,1.40 0 0 0 98.55,535.00" fill="none" stroke="#ee4c55" stroke-width="1.1" opacity="0.9"/>
<rect x="95.60" y="453.25" width="3.10" height="2.50" fill="#ee4c55" opacity="0.8"/>
<rect x="95.60" y="474.60" width="3.10" height="0.80" fill="#ee4c55" opacity="0.4"/>
<rect x="95.65" y="433.43" width="3.00" height="0.6" fill="#f39aa0" opacity="0.26"/>
<rect x="95.65" y="520.34" width="3.00" height="0.6" fill="#f39aa0" opacity="0.18"/>
<rect x="95.65" y="450.35" width="3.00" height="0.6" fill="#f39aa0" opacity="0.14"/>
<rect x="95.65" y="427.68" width="3.00" height="0.6" fill="#f39aa0" opacity="0.14"/>
<rect x="95.65" y="441.71" width="3.00" height="0.6" fill="#f39aa0" opacity="0.27"/>
<rect x="95.65" y="440.40" width="3.00" height="0.6" fill="#f39aa0" opacity="0.14"/>
<rect x="95.65" y="525.84" width="3.00" height="0.6" fill="#f39aa0" opacity="0.28"/>
<rect x="95.65" y="430.14" width="3.00" height="0.6" fill="#f39aa0" opacity="0.16"/>
<rect x="95.65" y="532.88" width="3.00" height="0.6" fill="#f39aa0" opacity="0.18"/>
<rect x="95.65" y="491.04" width="3.00" height="0.6" fill="#f39aa0" opacity="0.24"/>
<rect x="95.65" y="493.30" width="3.00" height="0.6" fill="#f39aa0" opacity="0.11"/>
<rect x="95.65" y="502.09" width="3.00" height="0.6" fill="#f39aa0" opacity="0.26"/>
<rect x="95.65" y="470.22" width="3.00" height="0.6" fill="#f39aa0" opacity="0.17"/>
<circle cx="100.70" cy="420.40" r="0.65" fill="#2e92c2"/>
<rect x="100.20" y="444.50" width="1.0" height="13.50" fill="#2e92c2" opacity="0.4"/>
<rect x="100.15" y="444.55" width="1.1" height="0.9" fill="#2e92c2" opacity="0.8"/>
<rect x="100.15" y="446.63" width="1.1" height="0.9" fill="#2e92c2" opacity="0.8"/>
<rect x="100.15" y="448.72" width="1.1" height="0.9" fill="#2e92c2" opacity="0.8"/>
<rect x="100.15" y="450.80" width="1.1" height="0.9" fill="#2e92c2" opacity="0.8"/>
<rect x="100.15" y="452.88" width="1.1" height="0.9" fill="#2e92c2" opacity="0.8"/>
<rect x="100.15" y="454.97" width="1.1" height="0.9" fill="#2e92c2" opacity="0.8"/>
<rect x="100.15" y="457.05" width="1.1" height="0.9" fill="#2e92c2" opacity="0.8"/>
<rect x="100.20" y="474.90" width="1.0" height="9.90" fill="#2e92c2" opacity="0.4"/>
<rect x="100.15" y="474.95" width="1.1" height="0.9" fill="#2e92c2" opacity="0.8"/>
<rect x="100.15" y="477.18" width="1.1" height="0.9" fill="#2e92c2" opacity="0.8"/>
<rect x="100.15" y="479.40" width="1.1" height="0.9" fill="#2e92c2" opacity="0.8"/>
<rect x="100.15" y="481.62" width="1.1" height="0.9" fill="#2e92c2" opacity="0.8"/>
<rect x="100.15" y="483.85" width="1.1" height="0.9" fill="#2e92c2" opacity="0.8"/>
<rect x="100.20" y="490.50" width="1.0" height="10.00" fill="#2e92c2" opacity="0.4"/>
<rect x="100.15" y="490.55" width="1.1" height="0.9" fill="#2e92c2" opacity="0.8"/>
<rect x="100.15" y="492.35" width="1.1" height="0.9" fill="#2e92c2" opacity="0.8"/>
<rect x="100.15" y="494.15" width="1.1" height="0.9" fill="#2e92c2" opacity="0.8"/>
<rect x="100.15" y="495.95" width="1.1" height="0.9" fill="#2e92c2" opacity="0.8"/>
<rect x="100.15" y="497.75" width="1.1" height="0.9" fill="#2e92c2" opacity="0.8"/>
<rect x="100.15" y="499.55" width="1.1" height="0.9" fill="#2e92c2" opacity="0.8"/>
<rect x="100.20" y="514.30" width="1.0" height="6.90" fill="#2e92c2" opacity="0.4"/>
<rect x="100.15" y="514.35" width="1.1" height="0.9" fill="#2e92c2" opacity="0.8"/>
<rect x="100.15" y="516.32" width="1.1" height="0.9" fill="#2e92c2" opacity="0.8"/>
<rect x="100.15" y="518.28" width="1.1" height="0.9" fill="#2e92c2" opacity="0.8"/>
<rect x="100.15" y="520.25" width="1.1" height="0.9" fill="#2e92c2" opacity="0.8"/>
<rect x="100.20" y="531.50" width="1.0" height="6.00" fill="#2e92c2" opacity="0.4"/>
<rect x="100.15" y="531.55" width="1.1" height="0.9" fill="#2e92c2" opacity="0.8"/>
<rect x="100.15" y="534.05" width="1.1" height="0.9" fill="#2e92c2" opacity="0.8"/>
<rect x="100.15" y="536.55" width="1.1" height="0.9" fill="#2e92c2" opacity="0.8"/>
<text x="97.15" y="542.60" font-size="4.4" text-anchor="middle" fill="#333" class="ns">9</text>
<path d="M104.45,429.90 A1.90,1.90 0 0 1 108.25,429.90 L108.25,458.20 L106.65,460.80 L108.25,463.40 L108.25,535.30 A1.90,1.90 0 0 1 104.45,535.30 L104.45,463.40 L106.05,460.80 L104.45,458.20 Z" fill="#fdf9f9" stroke="#7a7a7a" stroke-width="0.55"/>
<path d="M104.95,430.20 A1.40,1.40 0 0 1 107.75,430.20" fill="none" stroke="#ee4c55" stroke-width="1.1" opacity="0.9"/>
<path d="M104.95,535.00 A1.40,1.40 0 0 0 107.75,535.00" fill="none" stroke="#ee4c55" stroke-width="1.1" opacity="0.9"/>
<rect x="104.80" y="459.00" width="3.10" height="2.00" fill="#ee4c55" opacity="0.8"/>
<rect x="104.80" y="530.40" width="3.10" height="1.20" fill="#ee4c55" opacity="0.7"/>
<rect x="104.85" y="459.85" width="3.00" height="0.6" fill="#f39aa0" opacity="0.19"/>
<rect x="104.85" y="487.47" width="3.00" height="0.6" fill="#f39aa0" opacity="0.12"/>
<rect x="104.85" y="482.83" width="3.00" height="0.6" fill="#f39aa0" opacity="0.29"/>
<rect x="104.85" y="489.07" width="3.00" height="0.6" fill="#f39aa0" opacity="0.20"/>
<rect x="104.85" y="512.52" width="3.00" height="0.6" fill="#f39aa0" opacity="0.19"/>
<rect x="104.85" y="459.40" width="3.00" height="0.6" fill="#f39aa0" opacity="0.27"/>
<rect x="104.85" y="448.24" width="3.00" height="0.6" fill="#f39aa0" opacity="0.28"/>
<rect x="104.85" y="522.18" width="3.00" height="0.6" fill="#f39aa0" opacity="0.21"/>
<rect x="104.85" y="484.29" width="3.00" height="0.6" fill="#f39aa0" opacity="0.11"/>
<rect x="104.85" y="448.88" width="3.00" height="0.6" fill="#f39aa0" opacity="0.25"/>
<rect x="104.85" y="506.21" width="3.00" height="0.6" fill="#f39aa0" opacity="0.22"/>
<rect x="104.85" y="445.17" width="3.00" height="0.6" fill="#f39aa0" opacity="0.24"/>
<circle cx="110.20" cy="436.20" r="0.65" fill="#2e92c2"/>
<rect x="109.70" y="447.50" width="1.0" height="21.00" fill="#2e92c2" opacity="0.4"/>
<rect x="109.65" y="447.55" width="1.1" height="0.9" fill="#2e92c2" opacity="0.8"/>
<rect x="109.65" y="449.37" width="1.1" height="0.9" fill="#2e92c2" opacity="0.8"/>
<rect x="109.65" y="451.19" width="1.1" height="0.9" fill="#2e92c2" opacity="0.8"/>
<rect x="109.65" y="453.00" width="1.1" height="0.9" fill="#2e92c2" opacity="0.8"/>
<rect x="109.65" y="454.82" width="1.1" height="0.9" fill="#2e92c2" opacity="0.8"/>
<rect x="109.65" y="456.64" width="1.1" height="0.9" fill="#2e92c2" opacity="0.8"/>
<rect x="109.65" y="458.46" width="1.1" height="0.9" fill="#2e92c2" opacity="0.8"/>
<rect x="109.65" y="460.28" width="1.1" height="0.9" fill="#2e92c2" opacity="0.8"/>
<rect x="109.65" y="462.10" width="1.1" height="0.9" fill="#2e92c2" opacity="0.8"/>
<rect x="109.65" y="463.91" width="1.1" height="0.9" fill="#2e92c2" opacity="0.8"/>
<rect x="109.65" y="465.73" width="1.1" height="0.9" fill="#2e92c2" opacity="0.8"/>
<rect x="109.65" y="467.55" width="1.1" height="0.9" fill="#2e92c2" opacity="0.8"/>
<rect x="109.70" y="525.50" width="1.0" height="8.40" fill="#2e92c2" opacity="0.4"/>
<rect x="109.65" y="525.55" width="1.1" height="0.9" fill="#2e92c2" opacity="0.8"/>
<rect x="109.65" y="527.40" width="1.1" height="0.9" fill="#2e92c2" opacity="0.8"/>
<rect x="109.65" y="529.25" width="1.1" height="0.9" fill="#2e92c2" opacity="0.8"/>
<rect x="109.65" y="531.10" width="1.1" height="0.9" fill="#2e92c2" opacity="0.8"/>
<rect x="109.65" y="532.95" width="1.1" height="0.9" fill="#2e92c2" opacity="0.8"/>
<text x="106.35" y="542.60" font-size="4.4" text-anchor="middle" fill="#333" class="ns">10</text>
<path d="M114.35,429.90 A1.90,1.90 0 0 1 118.15,429.90 L118.15,467.60 L116.55,470.20 L118.15,472.80 L118.15,535.30 A1.90,1.90 0 0 1 114.35,535.30 L114.35,472.80 L115.95,470.20 L114.35,467.60 Z" fill="#fdf9f9" stroke="#7a7a7a" stroke-width="0.55"/>
<path d="M114.85,430.20 A1.40,1.40 0 0 1 117.65,430.20" fill="none" stroke="#ee4c55" stroke-width="1.1" opacity="0.9"/>
<path d="M114.85,535.00 A1.40,1.40 0 0 0 117.65,535.00" fill="none" stroke="#ee4c55" stroke-width="1.1" opacity="0.9"/>
<rect x="114.70" y="439.60" width="3.10" height="0.80" fill="#ee4c55" opacity="0.3"/>
<rect x="114.75" y="527.42" width="3.00" height="0.6" fill="#f39aa0" opacity="0.18"/>
<rect x="114.75" y="515.79" width="3.00" height="0.6" fill="#f39aa0" opacity="0.15"/>
<rect x="114.75" y="480.75" width="3.00" height="0.6" fill="#f39aa0" opacity="0.15"/>
<rect x="114.75" y="486.94" width="3.00" height="0.6" fill="#f39aa0" opacity="0.11"/>
<rect x="114.75" y="474.01" width="3.00" height="0.6" fill="#f39aa0" opacity="0.16"/>
<rect x="114.75" y="435.14" width="3.00" height="0.6" fill="#f39aa0" opacity="0.26"/>
<rect x="114.75" y="525.16" width="3.00" height="0.6" fill="#f39aa0" opacity="0.13"/>
<rect x="114.75" y="496.25" width="3.00" height="0.6" fill="#f39aa0" opacity="0.21"/>
<rect x="114.75" y="474.87" width="3.00" height="0.6" fill="#f39aa0" opacity="0.22"/>
<rect x="114.75" y="499.23" width="3.00" height="0.6" fill="#f39aa0" opacity="0.16"/>
<rect x="114.75" y="468.43" width="3.00" height="0.6" fill="#f39aa0" opacity="0.20"/>
<rect x="114.75" y="533.53" width="3.00" height="0.6" fill="#f39aa0" opacity="0.29"/>
<rect x="119.30" y="427.50" width="1.0" height="6.50" fill="#2e92c2" opacity="0.4"/>
<rect x="119.25" y="427.55" width="1.1" height="0.9" fill="#2e92c2" opacity="0.8"/>
<rect x="119.25" y="429.38" width="1.1" height="0.9" fill="#2e92c2" opacity="0.8"/>
<rect x="119.25" y="431.22" width="1.1" height="0.9" fill="#2e92c2" opacity="0.8"/>
<rect x="119.25" y="433.05" width="1.1" height="0.9" fill="#2e92c2" opacity="0.8"/>
<circle cx="119.80" cy="443.00" r="0.65" fill="#2e92c2"/>
<circle cx="119.80" cy="458.00" r="0.65" fill="#2e92c2"/>
<rect x="119.30" y="465.90" width="1.0" height="14.50" fill="#2e92c2" opacity="0.4"/>
<rect x="119.25" y="465.95" width="1.1" height="0.9" fill="#2e92c2" opacity="0.8"/>
<rect x="119.25" y="467.88" width="1.1" height="0.9" fill="#2e92c2" opacity="0.8"/>
<rect x="119.25" y="469.81" width="1.1" height="0.9" fill="#2e92c2" opacity="0.8"/>
<rect x="119.25" y="471.74" width="1.1" height="0.9" fill="#2e92c2" opacity="0.8"/>
<rect x="119.25" y="473.66" width="1.1" height="0.9" fill="#2e92c2" opacity="0.8"/>
<rect x="119.25" y="475.59" width="1.1" height="0.9" fill="#2e92c2" opacity="0.8"/>
<rect x="119.25" y="477.52" width="1.1" height="0.9" fill="#2e92c2" opacity="0.8"/>
<rect x="119.25" y="479.45" width="1.1" height="0.9" fill="#2e92c2" opacity="0.8"/>
<rect x="119.30" y="493.50" width="1.0" height="8.40" fill="#2e92c2" opacity="0.4"/>
<rect x="119.25" y="493.55" width="1.1" height="0.9" fill="#2e92c2" opacity="0.8"/>
<rect x="119.25" y="495.40" width="1.1" height="0.9" fill="#2e92c2" opacity="0.8"/>
<rect x="119.25" y="497.25" width="1.1" height="0.9" fill="#2e92c2" opacity="0.8"/>
<rect x="119.25" y="499.10" width="1.1" height="0.9" fill="#2e92c2" opacity="0.8"/>
<rect x="119.25" y="500.95" width="1.1" height="0.9" fill="#2e92c2" opacity="0.8"/>
<circle cx="119.80" cy="513.30" r="0.65" fill="#2e92c2"/>
<circle cx="119.80" cy="537.00" r="0.65" fill="#2e92c2"/>
<text x="116.25" y="542.60" font-size="4.4" text-anchor="middle" fill="#333" class="ns">11</text>
<path d="M123.75,430.90 A1.90,1.90 0 0 1 127.55,430.90 L127.55,455.60 L125.95,458.20 L127.55,460.80 L127.55,535.30 A1.90,1.90 0 0 1 123.75,535.30 L123.75,460.80 L125.35,458.20 L123.75,455.60 Z" fill="#fdf9f9" stroke="#7a7a7a" stroke-width="0.55"/>
<path d="M124.25,431.20 A1.40,1.40 0 0 1 127.05,431.20" fill="none" stroke="#ee4c55" stroke-width="1.1" opacity="0.9"/>
<path d="M124.25,535.00 A1.40,1.40 0 0 0 127.05,535.00" fill="none" stroke="#ee4c55" stroke-width="1.1" opacity="0.9"/>
<rect x="124.10" y="454.60" width="3.10" height="0.80" fill="#ee4c55" opacity="0.4"/>
<rect x="124.10" y="509.60" width="3.10" height="0.80" fill="#ee4c55" opacity="0.3"/>
<rect x="124.15" y="516.54" width="3.00" height="0.6" fill="#f39aa0" opacity="0.14"/>
<rect x="124.15" y="528.33" width="3.00" height="0.6" fill="#f39aa0" opacity="0.20"/>
<rect x="124.15" y="472.63" width="3.00" height="0.6" fill="#f39aa0" opacity="0.22"/>
<rect x="124.15" y="449.34" width="3.00" height="0.6" fill="#f39aa0" opacity="0.14"/>
<rect x="124.15" y="475.09" width="3.00" height="0.6" fill="#f39aa0" opacity="0.15"/>
<rect x="124.15" y="500.52" width="3.00" height="0.6" fill="#f39aa0" opacity="0.18"/>
<rect x="124.15" y="471.20" width="3.00" height="0.6" fill="#f39aa0" opacity="0.16"/>
<rect x="124.15" y="454.56" width="3.00" height="0.6" fill="#f39aa0" opacity="0.24"/>
<rect x="124.15" y="524.24" width="3.00" height="0.6" fill="#f39aa0" opacity="0.17"/>
<rect x="124.15" y="514.17" width="3.00" height="0.6" fill="#f39aa0" opacity="0.16"/>
<rect x="124.15" y="509.71" width="3.00" height="0.6" fill="#f39aa0" opacity="0.15"/>
<rect x="124.15" y="490.12" width="3.00" height="0.6" fill="#f39aa0" opacity="0.18"/>
<rect x="128.90" y="428.80" width="1.0" height="18.90" fill="#2e92c2" opacity="0.4"/>
<rect x="128.85" y="428.85" width="1.1" height="0.9" fill="#2e92c2" opacity="0.8"/>
<rect x="128.85" y="430.84" width="1.1" height="0.9" fill="#2e92c2" opacity="0.8"/>
<rect x="128.85" y="432.83" width="1.1" height="0.9" fill="#2e92c2" opacity="0.8"/>
<rect x="128.85" y="434.82" width="1.1" height="0.9" fill="#2e92c2" opacity="0.8"/>
<rect x="128.85" y="436.81" width="1.1" height="0.9" fill="#2e92c2" opacity="0.8"/>
<rect x="128.85" y="438.79" width="1.1" height="0.9" fill="#2e92c2" opacity="0.8"/>
<rect x="128.85" y="440.78" width="1.1" height="0.9" fill="#2e92c2" opacity="0.8"/>
<rect x="128.85" y="442.77" width="1.1" height="0.9" fill="#2e92c2" opacity="0.8"/>
<rect x="128.85" y="444.76" width="1.1" height="0.9" fill="#2e92c2" opacity="0.8"/>
<rect x="128.85" y="446.75" width="1.1" height="0.9" fill="#2e92c2" opacity="0.8"/>
<rect x="128.90" y="452.20" width="1.0" height="10.30" fill="#2e92c2" opacity="0.4"/>
<rect x="128.85" y="452.25" width="1.1" height="0.9" fill="#2e92c2" opacity="0.8"/>
<rect x="128.85" y="454.11" width="1.1" height="0.9" fill="#2e92c2" opacity="0.8"/>
<rect x="128.85" y="455.97" width="1.1" height="0.9" fill="#2e92c2" opacity="0.8"/>
<rect x="128.85" y="457.83" width="1.1" height="0.9" fill="#2e92c2" opacity="0.8"/>
<rect x="128.85" y="459.69" width="1.1" height="0.9" fill="#2e92c2" opacity="0.8"/>
<rect x="128.85" y="461.55" width="1.1" height="0.9" fill="#2e92c2" opacity="0.8"/>
<circle cx="129.40" cy="476.90" r="0.65" fill="#2e92c2"/>
<circle cx="129.40" cy="486.50" r="0.65" fill="#2e92c2"/>
<circle cx="129.40" cy="511.00" r="0.65" fill="#2e92c2"/>
<rect x="128.90" y="531.50" width="1.0" height="5.00" fill="#2e92c2" opacity="0.4"/>
<rect x="128.85" y="531.55" width="1.1" height="0.9" fill="#2e92c2" opacity="0.8"/>
<rect x="128.85" y="533.55" width="1.1" height="0.9" fill="#2e92c2" opacity="0.8"/>
<rect x="128.85" y="535.55" width="1.1" height="0.9" fill="#2e92c2" opacity="0.8"/>
<text x="125.65" y="542.60" font-size="4.4" text-anchor="middle" fill="#333" class="ns">12</text>
<path d="M133.35,446.90 A1.90,1.90 0 0 1 137.15,446.90 L137.15,456.60 L135.55,459.20 L137.15,461.80 L137.15,535.30 A1.90,1.90 0 0 1 133.35,535.30 L133.35,461.80 L134.95,459.20 L133.35,456.60 Z" fill="#fdf9f9" stroke="#7a7a7a" stroke-width="0.55"/>
<path d="M133.85,535.00 A1.40,1.40 0 0 0 136.65,535.00" fill="none" stroke="#ee4c55" stroke-width="1.1" opacity="0.9"/>
<rect x="133.70" y="451.50" width="3.10" height="1.00" fill="#ee4c55" opacity="0.6"/>
<rect x="133.70" y="454.50" width="3.10" height="1.00" fill="#ee4c55" opacity="0.6"/>
<rect x="133.75" y="489.48" width="3.00" height="0.6" fill="#f39aa0" opacity="0.23"/>
<rect x="133.75" y="501.43" width="3.00" height="0.6" fill="#f39aa0" opacity="0.24"/>
<rect x="133.75" y="525.78" width="3.00" height="0.6" fill="#f39aa0" opacity="0.25"/>
<rect x="133.75" y="462.01" width="3.00" height="0.6" fill="#f39aa0" opacity="0.14"/>
<rect x="133.75" y="487.20" width="3.00" height="0.6" fill="#f39aa0" opacity="0.18"/>
<rect x="133.75" y="531.01" width="3.00" height="0.6" fill="#f39aa0" opacity="0.25"/>
<rect x="133.75" y="488.37" width="3.00" height="0.6" fill="#f39aa0" opacity="0.17"/>
<rect x="133.75" y="467.60" width="3.00" height="0.6" fill="#f39aa0" opacity="0.22"/>
<rect x="133.75" y="527.64" width="3.00" height="0.6" fill="#f39aa0" opacity="0.13"/>
<rect x="133.75" y="486.99" width="3.00" height="0.6" fill="#f39aa0" opacity="0.17"/>
<rect x="138.50" y="444.50" width="1.0" height="22.00" fill="#2e92c2" opacity="0.4"/>
<rect x="138.45" y="444.55" width="1.1" height="0.9" fill="#2e92c2" opacity="0.8"/>
<rect x="138.45" y="446.46" width="1.1" height="0.9" fill="#2e92c2" opacity="0.8"/>
<rect x="138.45" y="448.37" width="1.1" height="0.9" fill="#2e92c2" opacity="0.8"/>
<rect x="138.45" y="450.28" width="1.1" height="0.9" fill="#2e92c2" opacity="0.8"/>
<rect x="138.45" y="452.19" width="1.1" height="0.9" fill="#2e92c2" opacity="0.8"/>
<rect x="138.45" y="454.10" width="1.1" height="0.9" fill="#2e92c2" opacity="0.8"/>
<rect x="138.45" y="456.00" width="1.1" height="0.9" fill="#2e92c2" opacity="0.8"/>
<rect x="138.45" y="457.91" width="1.1" height="0.9" fill="#2e92c2" opacity="0.8"/>
<rect x="138.45" y="459.82" width="1.1" height="0.9" fill="#2e92c2" opacity="0.8"/>
<rect x="138.45" y="461.73" width="1.1" height="0.9" fill="#2e92c2" opacity="0.8"/>
<rect x="138.45" y="463.64" width="1.1" height="0.9" fill="#2e92c2" opacity="0.8"/>
<rect x="138.45" y="465.55" width="1.1" height="0.9" fill="#2e92c2" opacity="0.8"/>
<rect x="138.50" y="483.50" width="1.0" height="7.00" fill="#2e92c2" opacity="0.4"/>
<rect x="138.45" y="483.55" width="1.1" height="0.9" fill="#2e92c2" opacity="0.8"/>
<rect x="138.45" y="485.55" width="1.1" height="0.9" fill="#2e92c2" opacity="0.8"/>
<rect x="138.45" y="487.55" width="1.1" height="0.9" fill="#2e92c2" opacity="0.8"/>
<rect x="138.45" y="489.55" width="1.1" height="0.9" fill="#2e92c2" opacity="0.8"/>
<circle cx="139.00" cy="500.40" r="0.65" fill="#2e92c2"/>
<circle cx="139.00" cy="516.50" r="0.65" fill="#2e92c2"/>
<circle cx="139.00" cy="532.60" r="0.65" fill="#2e92c2"/>
<text x="135.25" y="542.60" font-size="4.4" text-anchor="middle" fill="#333" class="ns">13</text>
<path d="M143.15,456.90 A1.90,1.90 0 0 1 146.95,456.90 L146.95,461.60 L145.35,464.20 L146.95,466.80 L146.95,535.30 A1.90,1.90 0 0 1 143.15,535.30 L143.15,466.80 L144.75,464.20 L143.15,461.60 Z" fill="#fdf9f9" stroke="#7a7a7a" stroke-width="0.55"/>
<path d="M143.65,457.20 A1.40,1.40 0 0 1 146.45,457.20" fill="none" stroke="#ee4c55" stroke-width="1.1" opacity="0.9"/>
<path d="M143.65,535.00 A1.40,1.40 0 0 0 146.45,535.00" fill="none" stroke="#ee4c55" stroke-width="1.1" opacity="0.9"/>
<rect x="143.50" y="457.50" width="3.10" height="1.00" fill="#ee4c55" opacity="0.5"/>
<rect x="143.55" y="460.33" width="3.00" height="0.6" fill="#f39aa0" opacity="0.27"/>
<rect x="143.55" y="513.02" width="3.00" height="0.6" fill="#f39aa0" opacity="0.10"/>
<rect x="143.55" y="499.91" width="3.00" height="0.6" fill="#f39aa0" opacity="0.15"/>
<rect x="143.55" y="525.19" width="3.00" height="0.6" fill="#f39aa0" opacity="0.27"/>
<rect x="143.55" y="480.99" width="3.00" height="0.6" fill="#f39aa0" opacity="0.22"/>
<rect x="143.55" y="495.71" width="3.00" height="0.6" fill="#f39aa0" opacity="0.16"/>
<rect x="143.55" y="491.00" width="3.00" height="0.6" fill="#f39aa0" opacity="0.18"/>
<rect x="143.55" y="493.62" width="3.00" height="0.6" fill="#f39aa0" opacity="0.29"/>
<rect x="143.55" y="513.68" width="3.00" height="0.6" fill="#f39aa0" opacity="0.11"/>
<rect x="147.60" y="449.50" width="1.0" height="22.20" fill="#2e92c2" opacity="0.4"/>
<rect x="147.55" y="449.55" width="1.1" height="0.9" fill="#2e92c2" opacity="0.8"/>
<rect x="147.55" y="451.48" width="1.1" height="0.9" fill="#2e92c2" opacity="0.8"/>
<rect x="147.55" y="453.40" width="1.1" height="0.9" fill="#2e92c2" opacity="0.8"/>
<rect x="147.55" y="455.33" width="1.1" height="0.9" fill="#2e92c2" opacity="0.8"/>
<rect x="147.55" y="457.26" width="1.1" height="0.9" fill="#2e92c2" opacity="0.8"/>
<rect x="147.55" y="459.19" width="1.1" height="0.9" fill="#2e92c2" opacity="0.8"/>
<rect x="147.55" y="461.11" width="1.1" height="0.9" fill="#2e92c2" opacity="0.8"/>
<rect x="147.55" y="463.04" width="1.1" height="0.9" fill="#2e92c2" opacity="0.8"/>
<rect x="147.55" y="464.97" width="1.1" height="0.9" fill="#2e92c2" opacity="0.8"/>
<rect x="147.55" y="466.90" width="1.1" height="0.9" fill="#2e92c2" opacity="0.8"/>
<rect x="147.55" y="468.82" width="1.1" height="0.9" fill="#2e92c2" opacity="0.8"/>
<rect x="147.55" y="470.75" width="1.1" height="0.9" fill="#2e92c2" opacity="0.8"/>
<circle cx="148.10" cy="488.30" r="0.65" fill="#2e92c2"/>
<circle cx="148.10" cy="509.50" r="0.65" fill="#2e92c2"/>
<rect x="147.60" y="528.10" width="1.0" height="8.10" fill="#2e92c2" opacity="0.4"/>
<rect x="147.55" y="528.15" width="1.1" height="0.9" fill="#2e92c2" opacity="0.8"/>
<rect x="147.55" y="530.52" width="1.1" height="0.9" fill="#2e92c2" opacity="0.8"/>
<rect x="147.55" y="532.88" width="1.1" height="0.9" fill="#2e92c2" opacity="0.8"/>
<rect x="147.55" y="535.25" width="1.1" height="0.9" fill="#2e92c2" opacity="0.8"/>
<text x="145.05" y="542.60" font-size="4.4" text-anchor="middle" fill="#333" class="ns">14</text>
<path d="M152.35,457.90 A1.90,1.90 0 0 1 156.15,457.90 L156.15,467.60 L154.55,470.20 L156.15,472.80 L156.15,535.30 A1.90,1.90 0 0 1 152.35,535.30 L152.35,472.80 L153.95,470.20 L152.35,467.60 Z" fill="#fdf9f9" stroke="#7a7a7a" stroke-width="0.55"/>
<path d="M152.85,458.20 A1.40,1.40 0 0 1 155.65,458.20" fill="none" stroke="#ee4c55" stroke-width="1.1" opacity="0.9"/>
<path d="M152.85,535.00 A1.40,1.40 0 0 0 155.65,535.00" fill="none" stroke="#ee4c55" stroke-width="1.1" opacity="0.9"/>
<rect x="152.70" y="459.40" width="3.10" height="1.20" fill="#ee4c55" opacity="0.9"/>
<rect x="152.70" y="466.50" width="3.10" height="1.00" fill="#ee4c55" opacity="0.7"/>
<rect x="152.70" y="468.60" width="3.10" height="0.80" fill="#ee4c55" opacity="0.6"/>
<rect x="152.70" y="499.60" width="3.10" height="0.80" fill="#ee4c55" opacity="0.4"/>
<rect x="152.75" y="477.12" width="3.00" height="0.6" fill="#f39aa0" opacity="0.12"/>
<rect x="152.75" y="509.08" width="3.00" height="0.6" fill="#f39aa0" opacity="0.15"/>
<rect x="152.75" y="505.94" width="3.00" height="0.6" fill="#f39aa0" opacity="0.13"/>
<rect x="152.75" y="532.76" width="3.00" height="0.6" fill="#f39aa0" opacity="0.23"/>
<rect x="152.75" y="481.12" width="3.00" height="0.6" fill="#f39aa0" opacity="0.11"/>
<rect x="152.75" y="521.96" width="3.00" height="0.6" fill="#f39aa0" opacity="0.28"/>
<rect x="152.75" y="484.40" width="3.00" height="0.6" fill="#f39aa0" opacity="0.12"/>
<rect x="152.75" y="532.52" width="3.00" height="0.6" fill="#f39aa0" opacity="0.28"/>
<rect x="152.75" y="493.78" width="3.00" height="0.6" fill="#f39aa0" opacity="0.12"/>
<rect x="157.70" y="440.50" width="1.0" height="48.00" fill="#2e92c2" opacity="0.4"/>
<rect x="157.65" y="440.55" width="1.1" height="0.9" fill="#2e92c2" opacity="0.8"/>
<rect x="157.65" y="442.36" width="1.1" height="0.9" fill="#2e92c2" opacity="0.8"/>
<rect x="157.65" y="444.17" width="1.1" height="0.9" fill="#2e92c2" opacity="0.8"/>
<rect x="157.65" y="445.97" width="1.1" height="0.9" fill="#2e92c2" opacity="0.8"/>
<rect x="157.65" y="447.78" width="1.1" height="0.9" fill="#2e92c2" opacity="0.8"/>
<rect x="157.65" y="449.59" width="1.1" height="0.9" fill="#2e92c2" opacity="0.8"/>
<rect x="157.65" y="451.40" width="1.1" height="0.9" fill="#2e92c2" opacity="0.8"/>
<rect x="157.65" y="453.20" width="1.1" height="0.9" fill="#2e92c2" opacity="0.8"/>
<rect x="157.65" y="455.01" width="1.1" height="0.9" fill="#2e92c2" opacity="0.8"/>
<rect x="157.65" y="456.82" width="1.1" height="0.9" fill="#2e92c2" opacity="0.8"/>
<rect x="157.65" y="458.63" width="1.1" height="0.9" fill="#2e92c2" opacity="0.8"/>
<rect x="157.65" y="460.43" width="1.1" height="0.9" fill="#2e92c2" opacity="0.8"/>
<rect x="157.65" y="462.24" width="1.1" height="0.9" fill="#2e92c2" opacity="0.8"/>
<rect x="157.65" y="464.05" width="1.1" height="0.9" fill="#2e92c2" opacity="0.8"/>
<rect x="157.65" y="465.86" width="1.1" height="0.9" fill="#2e92c2" opacity="0.8"/>
<rect x="157.65" y="467.67" width="1.1" height="0.9" fill="#2e92c2" opacity="0.8"/>
<rect x="157.65" y="469.47" width="1.1" height="0.9" fill="#2e92c2" opacity="0.8"/>
<rect x="157.65" y="471.28" width="1.1" height="0.9" fill="#2e92c2" opacity="0.8"/>
<rect x="157.65" y="473.09" width="1.1" height="0.9" fill="#2e92c2" opacity="0.8"/>
<rect x="157.65" y="474.90" width="1.1" height="0.9" fill="#2e92c2" opacity="0.8"/>
<rect x="157.65" y="476.70" width="1.1" height="0.9" fill="#2e92c2" opacity="0.8"/>
<rect x="157.65" y="478.51" width="1.1" height="0.9" fill="#2e92c2" opacity="0.8"/>
<rect x="157.65" y="480.32" width="1.1" height="0.9" fill="#2e92c2" opacity="0.8"/>
<rect x="157.65" y="482.13" width="1.1" height="0.9" fill="#2e92c2" opacity="0.8"/>
<rect x="157.65" y="483.93" width="1.1" height="0.9" fill="#2e92c2" opacity="0.8"/>
<rect x="157.65" y="485.74" width="1.1" height="0.9" fill="#2e92c2" opacity="0.8"/>
<rect x="157.65" y="487.55" width="1.1" height="0.9" fill="#2e92c2" opacity="0.8"/>
<rect x="157.70" y="511.00" width="1.0" height="16.10" fill="#2e92c2" opacity="0.4"/>
<rect x="157.65" y="511.05" width="1.1" height="0.9" fill="#2e92c2" opacity="0.8"/>
<rect x="157.65" y="512.94" width="1.1" height="0.9" fill="#2e92c2" opacity="0.8"/>
<rect x="157.65" y="514.82" width="1.1" height="0.9" fill="#2e92c2" opacity="0.8"/>
<rect x="157.65" y="516.71" width="1.1" height="0.9" fill="#2e92c2" opacity="0.8"/>
<rect x="157.65" y="518.60" width="1.1" height="0.9" fill="#2e92c2" opacity="0.8"/>
<rect x="157.65" y="520.49" width="1.1" height="0.9" fill="#2e92c2" opacity="0.8"/>
<rect x="157.65" y="522.38" width="1.1" height="0.9" fill="#2e92c2" opacity="0.8"/>
<rect x="157.65" y="524.26" width="1.1" height="0.9" fill="#2e92c2" opacity="0.8"/>
<rect x="157.65" y="526.15" width="1.1" height="0.9" fill="#2e92c2" opacity="0.8"/>
<circle cx="158.20" cy="534.00" r="0.65" fill="#2e92c2"/>
<text x="154.25" y="542.60" font-size="4.4" text-anchor="middle" fill="#333" class="ns">15</text>
<path d="M161.75,460.90 A1.90,1.90 0 0 1 165.55,460.90 L165.55,486.10 L163.95,488.70 L165.55,491.30 L165.55,535.30 A1.90,1.90 0 0 1 161.75,535.30 L161.75,491.30 L163.35,488.70 L161.75,486.10 Z" fill="#fdf9f9" stroke="#7a7a7a" stroke-width="0.55"/>
<path d="M162.25,461.20 A1.40,1.40 0 0 1 165.05,461.20" fill="none" stroke="#ee4c55" stroke-width="1.1" opacity="0.9"/>
<path d="M162.25,535.00 A1.40,1.40 0 0 0 165.05,535.00" fill="none" stroke="#ee4c55" stroke-width="1.1" opacity="0.9"/>
<rect x="162.10" y="469.60" width="3.10" height="0.80" fill="#ee4c55" opacity="0.4"/>
<rect x="162.10" y="499.60" width="3.10" height="0.80" fill="#ee4c55" opacity="0.4"/>
<rect x="162.10" y="533.20" width="3.10" height="1.60" fill="#ee4c55" opacity="0.9"/>
<rect x="162.15" y="526.68" width="3.00" height="0.6" fill="#f39aa0" opacity="0.14"/>
<rect x="162.15" y="470.19" width="3.00" height="0.6" fill="#f39aa0" opacity="0.12"/>
<rect x="162.15" y="516.46" width="3.00" height="0.6" fill="#f39aa0" opacity="0.27"/>
<rect x="162.15" y="533.58" width="3.00" height="0.6" fill="#f39aa0" opacity="0.24"/>
<rect x="162.15" y="508.21" width="3.00" height="0.6" fill="#f39aa0" opacity="0.24"/>
<rect x="162.15" y="496.86" width="3.00" height="0.6" fill="#f39aa0" opacity="0.21"/>
<rect x="162.15" y="472.36" width="3.00" height="0.6" fill="#f39aa0" opacity="0.11"/>
<rect x="162.15" y="524.70" width="3.00" height="0.6" fill="#f39aa0" opacity="0.26"/>
<rect x="167.20" y="458.50" width="1.0" height="12.20" fill="#2e92c2" opacity="0.4"/>
<rect x="167.15" y="458.55" width="1.1" height="0.9" fill="#2e92c2" opacity="0.8"/>
<rect x="167.15" y="460.42" width="1.1" height="0.9" fill="#2e92c2" opacity="0.8"/>
<rect x="167.15" y="462.28" width="1.1" height="0.9" fill="#2e92c2" opacity="0.8"/>
<rect x="167.15" y="464.15" width="1.1" height="0.9" fill="#2e92c2" opacity="0.8"/>
<rect x="167.15" y="466.02" width="1.1" height="0.9" fill="#2e92c2" opacity="0.8"/>
<rect x="167.15" y="467.88" width="1.1" height="0.9" fill="#2e92c2" opacity="0.8"/>
<rect x="167.15" y="469.75" width="1.1" height="0.9" fill="#2e92c2" opacity="0.8"/>
<rect x="167.20" y="475.80" width="1.0" height="27.10" fill="#2e92c2" opacity="0.4"/>
<rect x="167.15" y="475.85" width="1.1" height="0.9" fill="#2e92c2" opacity="0.8"/>
<rect x="167.15" y="477.71" width="1.1" height="0.9" fill="#2e92c2" opacity="0.8"/>
<rect x="167.15" y="479.58" width="1.1" height="0.9" fill="#2e92c2" opacity="0.8"/>
<rect x="167.15" y="481.44" width="1.1" height="0.9" fill="#2e92c2" opacity="0.8"/>
<rect x="167.15" y="483.31" width="1.1" height="0.9" fill="#2e92c2" opacity="0.8"/>
<rect x="167.15" y="485.17" width="1.1" height="0.9" fill="#2e92c2" opacity="0.8"/>
<rect x="167.15" y="487.04" width="1.1" height="0.9" fill="#2e92c2" opacity="0.8"/>
<rect x="167.15" y="488.90" width="1.1" height="0.9" fill="#2e92c2" opacity="0.8"/>
<rect x="167.15" y="490.76" width="1.1" height="0.9" fill="#2e92c2" opacity="0.8"/>
<rect x="167.15" y="492.63" width="1.1" height="0.9" fill="#2e92c2" opacity="0.8"/>
<rect x="167.15" y="494.49" width="1.1" height="0.9" fill="#2e92c2" opacity="0.8"/>
<rect x="167.15" y="496.36" width="1.1" height="0.9" fill="#2e92c2" opacity="0.8"/>
<rect x="167.15" y="498.22" width="1.1" height="0.9" fill="#2e92c2" opacity="0.8"/>
<rect x="167.15" y="500.09" width="1.1" height="0.9" fill="#2e92c2" opacity="0.8"/>
<rect x="167.15" y="501.95" width="1.1" height="0.9" fill="#2e92c2" opacity="0.8"/>
<circle cx="167.70" cy="516.50" r="0.65" fill="#2e92c2"/>
<circle cx="167.70" cy="521.00" r="0.65" fill="#2e92c2"/>
<circle cx="167.70" cy="526.00" r="0.65" fill="#2e92c2"/>
<circle cx="167.70" cy="530.60" r="0.65" fill="#2e92c2"/>
<text x="163.65" y="542.60" font-size="4.4" text-anchor="middle" fill="#333" class="ns">16</text>
<path d="M171.45,470.10 A1.90,1.90 0 0 1 175.25,470.10 L175.25,485.70 L173.65,488.30 L175.25,490.90 L175.25,535.30 A1.90,1.90 0 0 1 171.45,535.30 L171.45,490.90 L173.05,488.30 L171.45,485.70 Z" fill="#fdf9f9" stroke="#7a7a7a" stroke-width="0.55"/>
<path d="M171.95,470.40 A1.40,1.40 0 0 1 174.75,470.40" fill="none" stroke="#ee4c55" stroke-width="1.1" opacity="0.9"/>
<path d="M171.95,535.00 A1.40,1.40 0 0 0 174.75,535.00" fill="none" stroke="#ee4c55" stroke-width="1.1" opacity="0.9"/>
<rect x="171.80" y="479.60" width="3.10" height="0.80" fill="#ee4c55" opacity="0.4"/>
<rect x="171.85" y="522.95" width="3.00" height="0.6" fill="#f39aa0" opacity="0.22"/>
<rect x="171.85" y="516.69" width="3.00" height="0.6" fill="#f39aa0" opacity="0.10"/>
<rect x="171.85" y="511.91" width="3.00" height="0.6" fill="#f39aa0" opacity="0.25"/>
<rect x="171.85" y="501.49" width="3.00" height="0.6" fill="#f39aa0" opacity="0.20"/>
<rect x="171.85" y="486.69" width="3.00" height="0.6" fill="#f39aa0" opacity="0.18"/>
<rect x="171.85" y="507.96" width="3.00" height="0.6" fill="#f39aa0" opacity="0.27"/>
<rect x="171.85" y="507.29" width="3.00" height="0.6" fill="#f39aa0" opacity="0.19"/>
<rect x="176.80" y="463.50" width="1.0" height="9.00" fill="#2e92c2" opacity="0.4"/>
<rect x="176.75" y="463.55" width="1.1" height="0.9" fill="#2e92c2" opacity="0.8"/>
<rect x="176.75" y="465.55" width="1.1" height="0.9" fill="#2e92c2" opacity="0.8"/>
<rect x="176.75" y="467.55" width="1.1" height="0.9" fill="#2e92c2" opacity="0.8"/>
<rect x="176.75" y="469.55" width="1.1" height="0.9" fill="#2e92c2" opacity="0.8"/>
<rect x="176.75" y="471.55" width="1.1" height="0.9" fill="#2e92c2" opacity="0.8"/>
<rect x="176.80" y="481.80" width="1.0" height="28.20" fill="#2e92c2" opacity="0.4"/>
<rect x="176.75" y="481.85" width="1.1" height="0.9" fill="#2e92c2" opacity="0.8"/>
<rect x="176.75" y="483.66" width="1.1" height="0.9" fill="#2e92c2" opacity="0.8"/>
<rect x="176.75" y="485.48" width="1.1" height="0.9" fill="#2e92c2" opacity="0.8"/>
<rect x="176.75" y="487.29" width="1.1" height="0.9" fill="#2e92c2" opacity="0.8"/>
<rect x="176.75" y="489.10" width="1.1" height="0.9" fill="#2e92c2" opacity="0.8"/>
<rect x="176.75" y="490.92" width="1.1" height="0.9" fill="#2e92c2" opacity="0.8"/>
<rect x="176.75" y="492.73" width="1.1" height="0.9" fill="#2e92c2" opacity="0.8"/>
<rect x="176.75" y="494.54" width="1.1" height="0.9" fill="#2e92c2" opacity="0.8"/>
<rect x="176.75" y="496.36" width="1.1" height="0.9" fill="#2e92c2" opacity="0.8"/>
<rect x="176.75" y="498.17" width="1.1" height="0.9" fill="#2e92c2" opacity="0.8"/>
<rect x="176.75" y="499.98" width="1.1" height="0.9" fill="#2e92c2" opacity="0.8"/>
<rect x="176.75" y="501.80" width="1.1" height="0.9" fill="#2e92c2" opacity="0.8"/>
<rect x="176.75" y="503.61" width="1.1" height="0.9" fill="#2e92c2" opacity="0.8"/>
<rect x="176.75" y="505.42" width="1.1" height="0.9" fill="#2e92c2" opacity="0.8"/>
<rect x="176.75" y="507.24" width="1.1" height="0.9" fill="#2e92c2" opacity="0.8"/>
<rect x="176.75" y="509.05" width="1.1" height="0.9" fill="#2e92c2" opacity="0.8"/>
<circle cx="177.30" cy="533.00" r="0.65" fill="#2e92c2"/>
<text x="173.35" y="542.60" font-size="4.4" text-anchor="middle" fill="#333" class="ns">17</text>
<path d="M180.85,473.20 A1.90,1.90 0 0 1 184.65,473.20 L184.65,483.90 L183.05,486.50 L184.65,489.10 L184.65,535.30 A1.90,1.90 0 0 1 180.85,535.30 L180.85,489.10 L182.45,486.50 L180.85,483.90 Z" fill="#fdf9f9" stroke="#7a7a7a" stroke-width="0.55"/>
<path d="M181.35,535.00 A1.40,1.40 0 0 0 184.15,535.00" fill="none" stroke="#ee4c55" stroke-width="1.1" opacity="0.9"/>
<rect x="181.25" y="488.68" width="3.00" height="0.6" fill="#f39aa0" opacity="0.13"/>
<rect x="181.25" y="498.25" width="3.00" height="0.6" fill="#f39aa0" opacity="0.13"/>
<rect x="181.25" y="498.66" width="3.00" height="0.6" fill="#f39aa0" opacity="0.12"/>
<rect x="181.25" y="505.88" width="3.00" height="0.6" fill="#f39aa0" opacity="0.21"/>
<rect x="181.25" y="495.19" width="3.00" height="0.6" fill="#f39aa0" opacity="0.26"/>
<rect x="181.25" y="476.21" width="3.00" height="0.6" fill="#f39aa0" opacity="0.30"/>
<rect x="181.25" y="500.32" width="3.00" height="0.6" fill="#f39aa0" opacity="0.13"/>
<circle cx="186.30" cy="472.80" r="0.65" fill="#2e92c2"/>
<rect x="185.80" y="478.50" width="1.0" height="6.00" fill="#2e92c2" opacity="0.4"/>
<rect x="185.75" y="478.55" width="1.1" height="0.9" fill="#2e92c2" opacity="0.8"/>
<rect x="185.75" y="481.05" width="1.1" height="0.9" fill="#2e92c2" opacity="0.8"/>
<rect x="185.75" y="483.55" width="1.1" height="0.9" fill="#2e92c2" opacity="0.8"/>
<rect x="185.80" y="489.00" width="1.0" height="3.80" fill="#2e92c2" opacity="0.4"/>
<rect x="185.75" y="489.05" width="1.1" height="0.9" fill="#2e92c2" opacity="0.8"/>
<rect x="185.75" y="490.45" width="1.1" height="0.9" fill="#2e92c2" opacity="0.8"/>
<rect x="185.75" y="491.85" width="1.1" height="0.9" fill="#2e92c2" opacity="0.8"/>
<circle cx="186.30" cy="510.40" r="0.65" fill="#2e92c2"/>
<circle cx="186.30" cy="525.00" r="0.65" fill="#2e92c2"/>
<circle cx="186.30" cy="531.30" r="0.65" fill="#2e92c2"/>
<circle cx="186.30" cy="535.50" r="0.65" fill="#2e92c2"/>
<text x="182.75" y="542.60" font-size="4.4" text-anchor="middle" fill="#333" class="ns">18</text>
<path d="M190.55,489.30 A1.90,1.90 0 0 1 194.35,489.30 L194.35,507.10 L192.75,509.70 L194.35,512.30 L194.35,535.30 A1.90,1.90 0 0 1 190.55,535.30 L190.55,512.30 L192.15,509.70 L190.55,507.10 Z" fill="#fdf9f9" stroke="#7a7a7a" stroke-width="0.55"/>
<path d="M191.05,489.60 A1.40,1.40 0 0 1 193.85,489.60" fill="none" stroke="#ee4c55" stroke-width="1.1" opacity="0.9"/>
<rect x="190.90" y="532.40" width="3.10" height="1.20" fill="#ee4c55" opacity="0.8"/>
<rect x="190.90" y="499.60" width="3.10" height="0.80" fill="#ee4c55" opacity="0.4"/>
<rect x="190.95" y="521.54" width="3.00" height="0.6" fill="#f39aa0" opacity="0.14"/>
<rect x="190.95" y="494.74" width="3.00" height="0.6" fill="#f39aa0" opacity="0.17"/>
<rect x="190.95" y="524.04" width="3.00" height="0.6" fill="#f39aa0" opacity="0.16"/>
<rect x="190.95" y="529.20" width="3.00" height="0.6" fill="#f39aa0" opacity="0.22"/>
<rect x="190.95" y="512.64" width="3.00" height="0.6" fill="#f39aa0" opacity="0.22"/>
<rect x="195.10" y="487.50" width="1.0" height="52.00" fill="#2e92c2" opacity="0.4"/>
<rect x="195.05" y="487.55" width="1.1" height="0.9" fill="#2e92c2" opacity="0.8"/>
<rect x="195.05" y="489.37" width="1.1" height="0.9" fill="#2e92c2" opacity="0.8"/>
<rect x="195.05" y="491.19" width="1.1" height="0.9" fill="#2e92c2" opacity="0.8"/>
<rect x="195.05" y="493.01" width="1.1" height="0.9" fill="#2e92c2" opacity="0.8"/>
<rect x="195.05" y="494.84" width="1.1" height="0.9" fill="#2e92c2" opacity="0.8"/>
<rect x="195.05" y="496.66" width="1.1" height="0.9" fill="#2e92c2" opacity="0.8"/>
<rect x="195.05" y="498.48" width="1.1" height="0.9" fill="#2e92c2" opacity="0.8"/>
<rect x="195.05" y="500.30" width="1.1" height="0.9" fill="#2e92c2" opacity="0.8"/>
<rect x="195.05" y="502.12" width="1.1" height="0.9" fill="#2e92c2" opacity="0.8"/>
<rect x="195.05" y="503.94" width="1.1" height="0.9" fill="#2e92c2" opacity="0.8"/>
<rect x="195.05" y="505.76" width="1.1" height="0.9" fill="#2e92c2" opacity="0.8"/>
<rect x="195.05" y="507.59" width="1.1" height="0.9" fill="#2e92c2" opacity="0.8"/>
<rect x="195.05" y="509.41" width="1.1" height="0.9" fill="#2e92c2" opacity="0.8"/>
<rect x="195.05" y="511.23" width="1.1" height="0.9" fill="#2e92c2" opacity="0.8"/>
<rect x="195.05" y="513.05" width="1.1" height="0.9" fill="#2e92c2" opacity="0.8"/>
<rect x="195.05" y="514.87" width="1.1" height="0.9" fill="#2e92c2" opacity="0.8"/>
<rect x="195.05" y="516.69" width="1.1" height="0.9" fill="#2e92c2" opacity="0.8"/>
<rect x="195.05" y="518.51" width="1.1" height="0.9" fill="#2e92c2" opacity="0.8"/>
<rect x="195.05" y="520.34" width="1.1" height="0.9" fill="#2e92c2" opacity="0.8"/>
<rect x="195.05" y="522.16" width="1.1" height="0.9" fill="#2e92c2" opacity="0.8"/>
<rect x="195.05" y="523.98" width="1.1" height="0.9" fill="#2e92c2" opacity="0.8"/>
<rect x="195.05" y="525.80" width="1.1" height="0.9" fill="#2e92c2" opacity="0.8"/>
<rect x="195.05" y="527.62" width="1.1" height="0.9" fill="#2e92c2" opacity="0.8"/>
<rect x="195.05" y="529.44" width="1.1" height="0.9" fill="#2e92c2" opacity="0.8"/>
<rect x="195.05" y="531.26" width="1.1" height="0.9" fill="#2e92c2" opacity="0.8"/>
<rect x="195.05" y="533.09" width="1.1" height="0.9" fill="#2e92c2" opacity="0.8"/>
<rect x="195.05" y="534.91" width="1.1" height="0.9" fill="#2e92c2" opacity="0.8"/>
<rect x="195.05" y="536.73" width="1.1" height="0.9" fill="#2e92c2" opacity="0.8"/>
<rect x="195.05" y="538.55" width="1.1" height="0.9" fill="#2e92c2" opacity="0.8"/>
<text x="192.45" y="542.60" font-size="4.4" text-anchor="middle" fill="#333" class="ns">19</text>
<path d="M199.65,485.10 A1.90,1.90 0 0 1 203.45,485.10 L203.45,503.60 L201.85,506.20 L203.45,508.80 L203.45,535.30 A1.90,1.90 0 0 1 199.65,535.30 L199.65,508.80 L201.25,506.20 L199.65,503.60 Z" fill="#fdf9f9" stroke="#7a7a7a" stroke-width="0.55"/>
<path d="M200.15,535.00 A1.40,1.40 0 0 0 202.95,535.00" fill="none" stroke="#ee4c55" stroke-width="1.1" opacity="0.9"/>
<rect x="200.00" y="508.50" width="3.10" height="1.40" fill="#ee4c55" opacity="0.9"/>
<rect x="200.05" y="530.66" width="3.00" height="0.6" fill="#f39aa0" opacity="0.14"/>
<rect x="200.05" y="523.84" width="3.00" height="0.6" fill="#f39aa0" opacity="0.21"/>
<rect x="200.05" y="533.15" width="3.00" height="0.6" fill="#f39aa0" opacity="0.21"/>
<rect x="200.05" y="506.97" width="3.00" height="0.6" fill="#f39aa0" opacity="0.12"/>
<rect x="200.05" y="506.75" width="3.00" height="0.6" fill="#f39aa0" opacity="0.29"/>
<rect x="200.05" y="533.75" width="3.00" height="0.6" fill="#f39aa0" opacity="0.15"/>
<rect x="204.50" y="482.50" width="1.0" height="3.00" fill="#2e92c2" opacity="0.4"/>
<rect x="204.45" y="482.55" width="1.1" height="0.9" fill="#2e92c2" opacity="0.8"/>
<rect x="204.45" y="483.55" width="1.1" height="0.9" fill="#2e92c2" opacity="0.8"/>
<rect x="204.45" y="484.55" width="1.1" height="0.9" fill="#2e92c2" opacity="0.8"/>
<rect x="204.50" y="496.00" width="1.0" height="21.90" fill="#2e92c2" opacity="0.4"/>
<rect x="204.45" y="496.05" width="1.1" height="0.9" fill="#2e92c2" opacity="0.8"/>
<rect x="204.45" y="497.95" width="1.1" height="0.9" fill="#2e92c2" opacity="0.8"/>
<rect x="204.45" y="499.85" width="1.1" height="0.9" fill="#2e92c2" opacity="0.8"/>
<rect x="204.45" y="501.75" width="1.1" height="0.9" fill="#2e92c2" opacity="0.8"/>
<rect x="204.45" y="503.65" width="1.1" height="0.9" fill="#2e92c2" opacity="0.8"/>
<rect x="204.45" y="505.55" width="1.1" height="0.9" fill="#2e92c2" opacity="0.8"/>
<rect x="204.45" y="507.45" width="1.1" height="0.9" fill="#2e92c2" opacity="0.8"/>
<rect x="204.45" y="509.35" width="1.1" height="0.9" fill="#2e92c2" opacity="0.8"/>
<rect x="204.45" y="511.25" width="1.1" height="0.9" fill="#2e92c2" opacity="0.8"/>
<rect x="204.45" y="513.15" width="1.1" height="0.9" fill="#2e92c2" opacity="0.8"/>
<rect x="204.45" y="515.05" width="1.1" height="0.9" fill="#2e92c2" opacity="0.8"/>
<rect x="204.45" y="516.95" width="1.1" height="0.9" fill="#2e92c2" opacity="0.8"/>
<circle cx="205.00" cy="523.00" r="0.65" fill="#2e92c2"/>
<circle cx="205.00" cy="526.40" r="0.65" fill="#2e92c2"/>
<circle cx="205.00" cy="531.30" r="0.65" fill="#2e92c2"/>
<circle cx="205.00" cy="535.50" r="0.65" fill="#2e92c2"/>
<text x="201.55" y="542.60" font-size="4.4" text-anchor="middle" fill="#333" class="ns">20</text>
<path d="M209.05,501.90 A1.90,1.90 0 0 1 212.85,501.90 L212.85,507.10 L211.25,509.70 L212.85,512.30 L212.85,535.30 A1.90,1.90 0 0 1 209.05,535.30 L209.05,512.30 L210.65,509.70 L209.05,507.10 Z" fill="#fdf9f9" stroke="#7a7a7a" stroke-width="0.55"/>
<rect x="209.40" y="504.80" width="3.10" height="1.40" fill="#ee4c55" opacity="0.8"/>
<rect x="209.40" y="524.60" width="3.10" height="0.80" fill="#ee4c55" opacity="0.4"/>
<rect x="209.45" y="519.07" width="3.00" height="0.6" fill="#f39aa0" opacity="0.14"/>
<rect x="209.45" y="532.73" width="3.00" height="0.6" fill="#f39aa0" opacity="0.23"/>
<rect x="209.45" y="521.40" width="3.00" height="0.6" fill="#f39aa0" opacity="0.29"/>
<rect x="209.45" y="505.85" width="3.00" height="0.6" fill="#f39aa0" opacity="0.26"/>
<text x="210.95" y="542.60" font-size="4.4" text-anchor="middle" fill="#333" class="ns">21</text>
<path d="M218.45,497.20 A1.90,1.90 0 0 1 222.25,497.20 L222.25,502.20 L220.65,504.80 L222.25,507.40 L222.25,535.30 A1.90,1.90 0 0 1 218.45,535.30 L218.45,507.40 L220.05,504.80 L218.45,502.20 Z" fill="#fdf9f9" stroke="#7a7a7a" stroke-width="0.55"/>
<path d="M218.95,497.50 A1.40,1.40 0 0 1 221.75,497.50" fill="none" stroke="#ee4c55" stroke-width="1.1" opacity="0.9"/>
<rect x="218.80" y="500.90" width="3.10" height="1.20" fill="#ee4c55" opacity="0.9"/>
<rect x="218.80" y="503.00" width="3.10" height="1.00" fill="#ee4c55" opacity="0.8"/>
<rect x="218.80" y="514.75" width="3.10" height="0.90" fill="#ee4c55" opacity="0.7"/>
<rect x="218.85" y="501.43" width="3.00" height="0.6" fill="#f39aa0" opacity="0.22"/>
<rect x="218.85" y="512.58" width="3.00" height="0.6" fill="#f39aa0" opacity="0.28"/>
<rect x="218.85" y="520.36" width="3.00" height="0.6" fill="#f39aa0" opacity="0.20"/>
<rect x="218.85" y="531.98" width="3.00" height="0.6" fill="#f39aa0" opacity="0.16"/>
<text x="220.35" y="542.60" font-size="4.4" text-anchor="middle" fill="#333" class="ns">22</text>
<line x1="213.3" y1="509.5" x2="215.00" y2="480.00" stroke="#2e92c2" stroke-width="0.4" opacity="0.75"/>
<line x1="213.3" y1="509.5" x2="215.11" y2="483.73" stroke="#2e92c2" stroke-width="0.4" opacity="0.75"/>
<line x1="213.3" y1="509.5" x2="215.21" y2="487.47" stroke="#2e92c2" stroke-width="0.4" opacity="0.75"/>
<line x1="213.3" y1="509.5" x2="215.32" y2="491.20" stroke="#2e92c2" stroke-width="0.4" opacity="0.75"/>
<line x1="213.3" y1="509.5" x2="215.43" y2="494.93" stroke="#2e92c2" stroke-width="0.4" opacity="0.75"/>
<line x1="213.3" y1="509.5" x2="215.53" y2="498.67" stroke="#2e92c2" stroke-width="0.4" opacity="0.75"/>
<line x1="213.3" y1="509.5" x2="215.64" y2="502.40" stroke="#2e92c2" stroke-width="0.4" opacity="0.75"/>
<line x1="213.3" y1="509.5" x2="215.75" y2="506.13" stroke="#2e92c2" stroke-width="0.4" opacity="0.75"/>
<line x1="213.3" y1="509.5" x2="215.85" y2="509.87" stroke="#2e92c2" stroke-width="0.4" opacity="0.75"/>
<line x1="213.3" y1="509.5" x2="215.96" y2="513.60" stroke="#2e92c2" stroke-width="0.4" opacity="0.75"/>
<line x1="213.3" y1="509.5" x2="216.07" y2="517.33" stroke="#2e92c2" stroke-width="0.4" opacity="0.75"/>
<line x1="213.3" y1="509.5" x2="216.17" y2="521.07" stroke="#2e92c2" stroke-width="0.4" opacity="0.75"/>
<line x1="213.3" y1="509.5" x2="216.28" y2="524.80" stroke="#2e92c2" stroke-width="0.4" opacity="0.75"/>
<line x1="213.3" y1="509.5" x2="216.39" y2="528.53" stroke="#2e92c2" stroke-width="0.4" opacity="0.75"/>
<line x1="213.3" y1="509.5" x2="216.49" y2="532.27" stroke="#2e92c2" stroke-width="0.4" opacity="0.75"/>
<line x1="213.3" y1="509.5" x2="216.60" y2="536.00" stroke="#2e92c2" stroke-width="0.4" opacity="0.75"/>
<line x1="222.7" y1="504.5" x2="224.20" y2="475.00" stroke="#2e92c2" stroke-width="0.4" opacity="0.75"/>
<line x1="222.7" y1="504.5" x2="224.32" y2="478.80" stroke="#2e92c2" stroke-width="0.4" opacity="0.75"/>
<line x1="222.7" y1="504.5" x2="224.44" y2="482.60" stroke="#2e92c2" stroke-width="0.4" opacity="0.75"/>
<line x1="222.7" y1="504.5" x2="224.56" y2="486.40" stroke="#2e92c2" stroke-width="0.4" opacity="0.75"/>
<line x1="222.7" y1="504.5" x2="224.68" y2="490.20" stroke="#2e92c2" stroke-width="0.4" opacity="0.75"/>
<line x1="222.7" y1="504.5" x2="224.80" y2="494.00" stroke="#2e92c2" stroke-width="0.4" opacity="0.75"/>
<line x1="222.7" y1="504.5" x2="224.92" y2="497.80" stroke="#2e92c2" stroke-width="0.4" opacity="0.75"/>
<line x1="222.7" y1="504.5" x2="225.04" y2="501.60" stroke="#2e92c2" stroke-width="0.4" opacity="0.75"/>
<line x1="222.7" y1="504.5" x2="225.16" y2="505.40" stroke="#2e92c2" stroke-width="0.4" opacity="0.75"/>
<line x1="222.7" y1="504.5" x2="225.28" y2="509.20" stroke="#2e92c2" stroke-width="0.4" opacity="0.75"/>
<line x1="222.7" y1="504.5" x2="225.40" y2="513.00" stroke="#2e92c2" stroke-width="0.4" opacity="0.75"/>
<line x1="222.7" y1="504.5" x2="225.52" y2="516.80" stroke="#2e92c2" stroke-width="0.4" opacity="0.75"/>
<line x1="222.7" y1="504.5" x2="225.64" y2="520.60" stroke="#2e92c2" stroke-width="0.4" opacity="0.75"/>
<line x1="222.7" y1="504.5" x2="225.76" y2="524.40" stroke="#2e92c2" stroke-width="0.4" opacity="0.75"/>
<line x1="222.7" y1="504.5" x2="225.88" y2="528.20" stroke="#2e92c2" stroke-width="0.4" opacity="0.75"/>
<line x1="222.7" y1="504.5" x2="226.00" y2="532.00" stroke="#2e92c2" stroke-width="0.4" opacity="0.75"/>
<text x="174.40" y="340.90" font-size="5.4" textLength="51" lengthAdjust="spacingAndGlyphs" fill="#222" class="gl">Number of UPR specific</text>
<text x="174.40" y="347.60" font-size="5.4" textLength="40.6" lengthAdjust="spacingAndGlyphs" fill="#222" class="gl">SVs per megabase</text>
<defs><linearGradient id="gr" x1="0" x2="1"><stop offset="0" stop-color="#ffffff"/><stop offset="0.45" stop-color="#f28a90"/><stop offset="0.7" stop-color="#f0565f"/><stop offset="1" stop-color="#ef4f59"/></linearGradient></defs>
<rect x="186.10" y="350.10" width="26.60" height="5.70" fill="url(#gr)" />
<text x="185.60" y="360.80" font-size="5.4" text-anchor="middle" fill="#222" class="gl">0</text>
<text x="213.40" y="360.80" font-size="5.4" text-anchor="middle" textLength="11.2" lengthAdjust="spacingAndGlyphs" fill="#222" class="gl">4,000</text>
<circle cx="176.9" cy="367.1" r="1.4" fill="#2e92c2"/>
<text x="179.90" y="369.00" font-size="5.4" textLength="29.2" lengthAdjust="spacingAndGlyphs" fill="#222" class="gl">Complex SVs</text>
</svg></body></html>
